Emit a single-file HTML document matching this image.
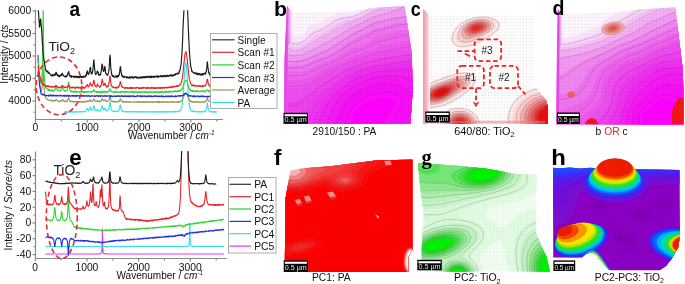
<!DOCTYPE html>
<html><head><meta charset="utf-8"><style>
html,body{margin:0;padding:0;background:#fff;}
svg{display:block;font-family:"Liberation Sans",sans-serif;}
</style></head><body>
<svg xmlns="http://www.w3.org/2000/svg" width="685" height="284" viewBox="0 0 685 284">
<defs><clipPath id="clipA"><rect x="36" y="10.3" width="190" height="110"/></clipPath>
<clipPath id="clipE"><rect x="36" y="151.3" width="195" height="108"/></clipPath>
<pattern id="gridc" width="3.17" height="3.17" patternUnits="userSpaceOnUse"><path d="M0,0.3 H3.17 M0.3,0 V3.17" stroke="#000" stroke-opacity="0.07" stroke-width="0.5" fill="none"/></pattern>
<pattern id="grid" width="3.4" height="3.4" patternUnits="userSpaceOnUse"><path d="M0,0.3 H3.4 M0.3,0 V3.4" stroke="#000" stroke-opacity="0.085" stroke-width="0.45" fill="none"/></pattern>
<filter id="bl1" x="-50%" y="-50%" width="200%" height="200%"><feGaussianBlur stdDeviation="1"/></filter>
<filter id="bl2" x="-50%" y="-50%" width="200%" height="200%"><feGaussianBlur stdDeviation="2"/></filter>
<filter id="bl3" x="-50%" y="-50%" width="200%" height="200%"><feGaussianBlur stdDeviation="3.5"/></filter>
<filter id="bl06" x="-50%" y="-50%" width="200%" height="200%"><feGaussianBlur stdDeviation="0.6"/></filter>
<clipPath id="cb"><path d="M287,5.5 L293,12.8 L320,12.3 L345,11.5 L360,10.3 L372,8 L378,7.4 L404.6,6.2 L411.7,53 L412.7,90 L410.4,123.4 L284.5,123.5 L284.5,60 Z"/></clipPath>
<clipPath id="cc"><path d="M423,9 L430,15.5 L534,16.3 L534,85 L546.6,101 L546.6,123.8 L423,123.8 Z"/></clipPath>
<linearGradient id="wallc" gradientUnits="userSpaceOnUse" x1="423" y1="0" x2="430.5" y2="0"><stop offset="0" stop-color="#ee98a4"/><stop offset="0.45" stop-color="#f4b8c0"/><stop offset="1" stop-color="#ffffff"/></linearGradient>
<clipPath id="cd"><path d="M557.5,9 L563,13.6 L580,13.4 L600,12.8 L620,11.5 L640,9.4 L655,8.6 L675.4,7.4 L682.8,70 L683.5,98 L683.5,124.2 L556.3,124.2 L556.8,60 Z"/></clipPath>
<linearGradient id="walld" gradientUnits="userSpaceOnUse" x1="557.5" y1="0" x2="563.6" y2="0"><stop offset="0" stop-color="#e050e0"/><stop offset="0.5" stop-color="#f098f0" stop-opacity="0.8"/><stop offset="1" stop-color="#fdf0fd" stop-opacity="0"/></linearGradient>
<linearGradient id="wallb" gradientUnits="userSpaceOnUse" x1="286.5" y1="0" x2="293.2" y2="0"><stop offset="0" stop-color="#e050e0"/><stop offset="0.5" stop-color="#f098f0" stop-opacity="0.8"/><stop offset="1" stop-color="#fdf0fd" stop-opacity="0"/></linearGradient>
<clipPath id="cf"><path d="M290.4,170.8 L300,168.7 L310,167.7 L330,166.3 L350,163.7 L370,161.3 L377,160.3 L412.3,159.8 L412.3,250 L408.3,257 L408.3,272 L284.8,272 L285.3,200 L288.3,182.5 Z"/></clipPath>
<clipPath id="cg"><path d="M418,163 L440,164.5 L460,166 L485,168.6 L500,171 L515,174 L537,174 L536.5,200 L536,233 L541,245 L546.4,256.8 L549.7,271.5 L421.5,271.5 L422,240 L423.6,215 L420,185 Z"/></clipPath>
<clipPath id="ch"><path d="M553.2,167.7 L560,168.3 L570,167.6 L580,168.4 L590,167.8 L600,168.5 L620,168.5 L640,169.2 L660,169.5 L679.6,170 L680,235 L678.4,247 L671.6,259 L666.4,266 L660,270.3 L611,270.3 L608.6,269.5 L600.9,260.9 L596,255 L591.4,252.2 L586,254 L581.9,257.4 L553.2,257.4 Z"/></clipPath>
<filter id="gsoft" x="0" y="0" width="100%" height="100%" filterUnits="userSpaceOnUse"><feGaussianBlur stdDeviation="0.6"/></filter></defs>
<rect width="685" height="284" fill="#fff"/>
<g filter="url(#gsoft)">
<g stroke="#8a8a8a" stroke-width="1.2" fill="none">
<path d="M35.5,9.5 V119.5 H223"/>
<path d="M32.5,101.0 H35.5"/>
<path d="M32.5,78.5 H35.5"/>
<path d="M32.5,56.0 H35.5"/>
<path d="M32.5,33.5 H35.5"/>
<path d="M32.5,11.0 H35.5"/>
<path d="M33.5,112.2 H35.5"/>
<path d="M33.5,89.8 H35.5"/>
<path d="M33.5,67.2 H35.5"/>
<path d="M33.5,44.8 H35.5"/>
<path d="M33.5,22.2 H35.5"/>
<path d="M35.4,119.5 V122.5"/>
<path d="M87.2,119.5 V122.5"/>
<path d="M139.0,119.5 V122.5"/>
<path d="M190.8,119.5 V122.5"/>
<path d="M61.3,119.5 V121.5"/>
<path d="M113.1,119.5 V121.5"/>
<path d="M164.9,119.5 V121.5"/>
<path d="M216.7,119.5 V121.5"/>
</g>
<text x="31.2" y="104.3" font-size="10.3" text-anchor="end" font-weight="normal" fill="#111" >4000</text>
<text x="31.2" y="81.8" font-size="10.3" text-anchor="end" font-weight="normal" fill="#111" >4500</text>
<text x="31.2" y="59.3" font-size="10.3" text-anchor="end" font-weight="normal" fill="#111" >5000</text>
<text x="31.2" y="36.8" font-size="10.3" text-anchor="end" font-weight="normal" fill="#111" >5500</text>
<text x="31.2" y="14.3" font-size="10.3" text-anchor="end" font-weight="normal" fill="#111" >6000</text>
<text x="35.4" y="131" font-size="10.3" text-anchor="middle" font-weight="normal" fill="#111" >0</text>
<text x="87.2" y="131" font-size="10.3" text-anchor="middle" font-weight="normal" fill="#111" >1000</text>
<text x="139.0" y="131" font-size="10.3" text-anchor="middle" font-weight="normal" fill="#111" >2000</text>
<text x="190.8" y="131" font-size="10.3" text-anchor="middle" font-weight="normal" fill="#111" >3000</text>
<text x="128" y="138.5" font-size="10" fill="#111">Wavenumber / <tspan font-style="italic">cm</tspan><tspan font-size="6.5" dy="-4" font-style="italic">-1</tspan></text>
<text transform="translate(7.6,54.2) rotate(-90)" font-size="10.1" text-anchor="middle" fill="#111">Intensity / <tspan font-style="italic">cts</tspan></text>
<g fill="none" stroke-width="1.15" stroke-linejoin="round" clip-path="url(#clipA)">
<path d="M63.9,112.0 L64.1,111.8 L64.4,112.1 L64.7,112.2 L64.9,111.9 L65.2,111.8 L65.4,111.9 L65.7,111.9 L66.0,111.7 L66.2,111.9 L66.5,111.8 L66.7,111.7 L67.0,112.1 L67.3,112.1 L67.5,111.9 L67.8,111.7 L68.0,112.1 L68.3,111.9 L68.6,112.2 L68.8,112.0 L69.1,111.8 L69.3,112.1 L69.6,112.0 L69.8,111.8 L70.1,112.1 L70.4,111.8 L70.6,111.7 L70.9,111.6 L71.1,112.0 L71.4,111.8 L71.7,111.7 L71.9,111.6 L72.2,112.1 L72.4,111.8 L72.7,112.1 L73.0,112.1 L73.2,112.1 L73.5,111.7 L73.7,112.1 L74.0,111.9 L74.2,112.1 L74.5,112.1 L74.8,111.8 L75.0,111.8 L75.3,112.1 L75.5,111.7 L75.8,111.6 L76.1,111.6 L76.3,111.9 L76.6,111.7 L76.8,112.1 L77.1,111.5 L77.4,111.8 L77.6,111.9 L77.9,111.9 L78.1,112.0 L78.4,111.9 L78.7,112.0 L78.9,112.1 L79.2,112.0 L79.4,111.8 L79.7,111.7 L79.9,111.8 L80.2,111.6 L80.5,111.6 L80.7,111.8 L81.0,111.7 L81.2,111.7 L81.5,111.5 L81.8,112.0 L82.0,111.6 L82.3,111.7 L82.5,111.6 L82.8,111.7 L83.1,111.8 L83.3,111.9 L83.6,111.7 L83.8,111.8 L84.1,111.5 L84.4,111.5 L84.6,111.4 L84.9,111.7 L85.1,111.1 L85.4,111.1 L85.6,111.3 L85.9,110.7 L86.2,110.3 L86.4,110.1 L86.7,109.5 L86.9,108.8 L87.2,108.3 L87.5,108.7 L87.7,109.3 L88.0,109.7 L88.2,110.2 L88.5,110.2 L88.8,110.2 L89.0,110.5 L89.3,110.2 L89.5,109.4 L89.8,108.7 L90.0,107.6 L90.3,107.0 L90.6,107.8 L90.8,108.9 L91.1,109.1 L91.3,109.8 L91.6,110.3 L91.9,109.9 L92.1,110.2 L92.4,109.9 L92.6,109.8 L92.9,109.3 L93.2,108.4 L93.4,107.1 L93.7,105.5 L93.9,105.7 L94.2,106.7 L94.5,107.9 L94.7,108.8 L95.0,109.7 L95.2,110.1 L95.5,110.4 L95.7,110.8 L96.0,110.5 L96.3,110.8 L96.5,110.3 L96.8,110.4 L97.0,109.9 L97.3,109.5 L97.6,109.3 L97.8,109.3 L98.1,109.8 L98.3,110.3 L98.6,110.5 L98.9,111.0 L99.1,111.0 L99.4,111.0 L99.6,111.0 L99.9,110.7 L100.2,110.5 L100.4,110.4 L100.7,110.6 L100.9,110.0 L101.2,109.8 L101.4,108.6 L101.7,107.4 L102.0,106.2 L102.2,105.6 L102.5,106.0 L102.7,107.3 L103.0,108.3 L103.3,108.9 L103.5,109.7 L103.8,109.8 L104.0,109.3 L104.3,108.7 L104.6,108.6 L104.8,108.1 L105.1,108.7 L105.3,109.2 L105.6,109.6 L105.8,110.4 L106.1,110.3 L106.4,110.9 L106.6,110.5 L106.9,110.7 L107.1,110.5 L107.4,110.5 L107.7,110.7 L107.9,110.2 L108.2,109.9 L108.4,109.5 L108.7,108.9 L109.0,108.3 L109.2,106.8 L109.5,105.2 L109.7,102.9 L110.0,101.7 L110.3,103.1 L110.5,105.3 L110.8,106.9 L111.0,108.6 L111.3,109.4 L111.5,109.7 L111.8,110.5 L112.1,110.3 L112.3,110.9 L112.6,111.2 L112.8,111.2 L113.1,111.3 L113.4,111.3 L113.6,111.3 L113.9,111.1 L114.1,111.3 L114.4,111.3 L114.7,111.6 L114.9,111.7 L115.2,111.7 L115.4,111.4 L115.7,111.7 L115.9,111.7 L116.2,111.2 L116.5,111.5 L116.7,111.2 L117.0,111.1 L117.2,111.3 L117.5,111.4 L117.8,111.0 L118.0,111.0 L118.3,111.0 L118.5,110.8 L118.8,110.3 L119.1,109.9 L119.3,109.2 L119.6,108.4 L119.8,107.4 L120.1,105.4 L120.4,104.9 L120.6,105.7 L120.9,107.4 L121.1,108.7 L121.4,109.2 L121.6,110.0 L121.9,110.7 L122.2,110.9 L122.4,111.2 L122.7,110.9 L122.9,111.5 L123.2,111.3 L123.5,111.6 L123.7,111.5 L124.0,111.4 L124.2,111.6 L124.5,111.3 L124.8,111.9 L125.0,111.9 L125.3,111.7 L125.5,111.8 L125.8,111.8 L126.0,111.7 L126.3,111.6 L126.6,111.8 L126.8,112.0 L127.1,112.0 L127.3,111.9 L127.6,111.5 L127.9,111.6 L128.1,111.6 L128.4,111.8 L128.6,112.0 L128.9,111.8 L129.2,111.8 L129.4,111.7 L129.7,111.6 L129.9,111.6 L130.2,112.1 L130.5,112.0 L130.7,111.9 L131.0,111.9 L131.2,111.6 L131.5,111.5 L131.7,111.5 L132.0,111.5 L132.3,111.6 L132.5,112.1 L132.8,111.9 L133.0,111.6 L133.3,111.6 L133.6,111.5 L133.8,111.5 L134.1,111.6 L134.3,111.7 L134.6,111.6 L134.9,111.7 L135.1,111.9 L135.4,111.6 L135.6,111.6 L135.9,112.0 L136.2,111.7 L136.4,111.9 L136.7,111.7 L136.9,111.9 L137.2,111.5 L137.4,111.7 L137.7,112.1 L138.0,111.7 L138.2,111.9 L138.5,111.7 L138.7,111.6 L139.0,111.8 L139.3,111.8 L139.5,111.6 L139.8,111.9 L140.0,111.8 L140.3,111.8 L140.6,112.0 L140.8,112.1 L141.1,111.8 L141.3,111.7 L141.6,112.0 L141.8,112.0 L142.1,111.9 L142.4,111.9 L142.6,111.8 L142.9,112.0 L143.1,111.9 L143.4,112.1 L143.7,111.7 L143.9,111.6 L144.2,112.1 L144.4,111.9 L144.7,112.0 L145.0,112.0 L145.2,112.0 L145.5,111.8 L145.7,112.1 L146.0,111.9 L146.3,111.8 L146.5,111.7 L146.8,111.6 L147.0,111.7 L147.3,111.7 L147.5,111.8 L147.8,111.9 L148.1,112.1 L148.3,111.9 L148.6,112.0 L148.8,111.6 L149.1,112.0 L149.4,111.9 L149.6,112.0 L149.9,111.8 L150.1,111.9 L150.4,111.9 L150.7,112.0 L150.9,111.8 L151.2,112.0 L151.4,112.1 L151.7,111.9 L151.9,111.9 L152.2,112.0 L152.5,111.9 L152.7,112.1 L153.0,112.1 L153.2,111.9 L153.5,112.0 L153.8,111.6 L154.0,112.1 L154.3,111.9 L154.5,111.6 L154.8,111.6 L155.1,112.1 L155.3,112.0 L155.6,111.9 L155.8,111.8 L156.1,111.7 L156.4,111.8 L156.6,112.1 L156.9,111.9 L157.1,111.6 L157.4,111.7 L157.6,111.6 L157.9,112.1 L158.2,112.1 L158.4,112.1 L158.7,111.8 L158.9,111.7 L159.2,111.6 L159.5,111.7 L159.7,111.8 L160.0,111.8 L160.2,111.7 L160.5,112.0 L160.8,112.1 L161.0,111.8 L161.3,112.0 L161.5,111.7 L161.8,111.7 L162.1,112.0 L162.3,111.6 L162.6,111.6 L162.8,112.1 L163.1,111.8 L163.3,111.8 L163.6,112.0 L163.9,112.1 L164.1,111.8 L164.4,112.0 L164.6,111.6 L164.9,112.1 L165.2,111.8 L165.4,111.8 L165.7,111.5 L165.9,111.6 L166.2,111.8 L166.5,111.6 L166.7,111.9 L167.0,112.1 L167.2,111.7 L167.5,112.0 L167.7,111.9 L168.0,111.9 L168.3,112.0 L168.5,111.8 L168.8,112.0 L169.0,111.6 L169.3,111.9 L169.6,111.8 L169.8,111.6 L170.1,111.6 L170.3,112.0 L170.6,111.8 L170.9,111.8 L171.1,111.8 L171.4,112.0 L171.6,111.8 L171.9,111.6 L172.2,112.0 L172.4,111.9 L172.7,111.9 L172.9,111.8 L173.2,111.8 L173.4,111.6 L173.7,112.0 L174.0,111.8 L174.2,111.5 L174.5,111.8 L174.7,111.6 L175.0,111.4 L175.3,111.8 L175.5,111.4 L175.8,111.5 L176.0,111.3 L176.3,111.6 L176.6,111.6 L176.8,111.7 L177.1,111.8 L177.3,111.7 L177.6,111.5 L177.8,111.3 L178.1,111.6 L178.4,111.2 L178.6,111.2 L178.9,111.3 L179.1,111.1 L179.4,111.2 L179.7,110.8 L179.9,110.7 L180.2,110.4 L180.4,110.5 L180.7,110.0 L181.0,109.9 L181.2,109.0 L181.5,108.1 L181.7,107.4 L182.0,105.7 L182.3,104.4 L182.5,102.0 L182.8,99.2 L183.0,96.5 L183.3,93.3 L183.5,89.0 L183.8,85.1 L184.1,80.9 L184.3,77.0 L184.6,73.0 L184.8,69.0 L185.1,66.3 L185.4,64.5 L185.6,63.1 L185.9,63.0 L186.1,64.0 L186.4,65.5 L186.7,68.2 L186.9,72.1 L187.2,75.6 L187.4,79.8 L187.7,84.1 L188.0,88.3 L188.2,92.3 L188.5,95.4 L188.7,98.8 L189.0,101.1 L189.2,103.7 L189.5,105.7 L189.8,106.9 L190.0,108.0 L190.3,109.1 L190.5,109.7 L190.8,110.3 L191.1,110.4 L191.3,110.5 L191.6,110.9 L191.8,111.0 L192.1,110.8 L192.4,110.9 L192.6,111.5 L192.9,111.4 L193.1,111.0 L193.4,111.5 L193.6,111.5 L193.9,111.1 L194.2,111.7 L194.4,111.3 L194.7,111.5 L194.9,111.6 L195.2,111.5 L195.5,111.5 L195.7,111.6 L196.0,111.7 L196.2,111.9 L196.5,111.8 L196.8,111.9 L197.0,111.8 L197.3,111.6 L197.5,111.6 L197.8,111.9 L198.1,111.9 L198.3,111.6 L198.6,111.9 L198.8,111.6 L199.1,111.4 L199.3,111.7 L199.6,112.0 L199.9,111.7 L200.1,111.9 L200.4,111.9 L200.6,111.9 L200.9,111.6 L201.2,112.0 L201.4,111.5 L201.7,111.7 L201.9,111.5 L202.2,111.6 L202.5,111.9 L202.7,111.9 L203.0,112.0 L203.2,111.7 L203.5,111.6 L203.8,111.4 L204.0,111.6 L204.3,111.8 L204.5,111.4 L204.8,111.6 L205.0,111.2 L205.3,111.3 L205.6,110.8 L205.8,110.9 L206.1,110.0 L206.3,109.3 L206.6,108.4 L206.9,106.8 L207.1,104.4 L207.4,102.8 L207.6,104.4 L207.9,106.4 L208.2,108.3 L208.4,109.4 L208.7,110.1 L208.9,110.4 L209.2,110.8 L209.4,111.2 L209.7,111.4 L210.0,111.3 L210.2,111.6 L210.5,111.5 L210.7,111.8 L211.0,111.4 L211.3,111.9 L211.5,112.0 L211.8,111.8 L212.0,111.9 L212.3,112.1 L212.6,111.6 L212.8,111.6 L213.1,111.8 L213.3,112.0 L213.6,111.9 L213.9,111.9 L214.1,111.8 L214.4,111.9 L214.6,112.1 L214.9,111.6 L215.1,112.0 L215.4,111.7 L215.7,112.1 L215.9,111.8 L216.2,112.1 L216.4,111.8 L216.7,112.0" stroke="#33e0e8"/>
<path d="M38.0,71.6 L38.2,73.3 L38.5,75.1 L38.8,77.5 L39.0,79.3 L39.3,80.8 L39.5,82.8 L39.8,84.0 L40.1,86.3 L40.3,88.0 L40.6,89.6 L40.8,90.3 L41.1,92.1 L41.4,91.6 L41.6,90.2 L41.9,89.2 L42.1,86.6 L42.4,83.1 L42.7,77.7 L42.9,71.9 L43.2,69.5 L43.4,72.7 L43.7,79.5 L43.9,85.4 L44.2,88.8 L44.5,92.2 L44.7,94.2 L45.0,95.4 L45.2,96.2 L45.5,97.0 L45.8,97.9 L46.0,98.2 L46.3,98.4 L46.5,99.0 L46.8,99.2 L47.1,99.0 L47.3,99.1 L47.6,99.5 L47.8,99.8 L48.1,99.8 L48.3,99.9 L48.6,100.2 L48.9,100.2 L49.1,100.0 L49.4,100.3 L49.6,100.3 L49.9,100.1 L50.2,100.0 L50.4,100.3 L50.7,100.6 L50.9,100.7 L51.2,100.3 L51.5,100.6 L51.7,100.3 L52.0,100.7 L52.2,100.6 L52.5,100.9 L52.8,101.0 L53.0,100.4 L53.3,101.2 L53.5,100.6 L53.8,101.2 L54.0,101.2 L54.3,100.6 L54.6,100.6 L54.8,100.4 L55.1,100.9 L55.3,100.5 L55.6,100.3 L55.9,99.8 L56.1,99.3 L56.4,99.8 L56.6,99.9 L56.9,100.3 L57.2,100.7 L57.4,101.1 L57.7,100.9 L57.9,101.2 L58.2,101.2 L58.5,101.4 L58.7,101.2 L59.0,101.2 L59.2,101.3 L59.5,101.2 L59.7,101.4 L60.0,100.9 L60.3,101.0 L60.5,100.8 L60.8,101.0 L61.0,101.3 L61.3,100.9 L61.6,100.6 L61.8,100.5 L62.1,100.0 L62.3,99.3 L62.6,99.5 L62.9,100.2 L63.1,100.3 L63.4,100.9 L63.6,100.7 L63.9,101.1 L64.1,101.4 L64.4,101.1 L64.7,101.0 L64.9,101.5 L65.2,101.1 L65.4,101.7 L65.7,101.4 L66.0,101.6 L66.2,101.3 L66.5,101.2 L66.7,101.0 L67.0,100.7 L67.3,101.2 L67.5,100.3 L67.8,99.7 L68.0,99.6 L68.3,98.2 L68.6,97.7 L68.8,98.6 L69.1,99.5 L69.3,99.9 L69.6,100.4 L69.8,101.0 L70.1,101.3 L70.4,101.0 L70.6,101.1 L70.9,101.4 L71.1,101.1 L71.4,101.8 L71.7,101.7 L71.9,101.3 L72.2,101.7 L72.4,101.7 L72.7,101.3 L73.0,101.6 L73.2,101.9 L73.5,101.6 L73.7,101.9 L74.0,101.5 L74.2,102.1 L74.5,101.8 L74.8,101.8 L75.0,101.3 L75.3,101.6 L75.5,101.3 L75.8,101.7 L76.1,101.5 L76.3,101.6 L76.6,101.6 L76.8,101.5 L77.1,101.6 L77.4,101.8 L77.6,101.5 L77.9,101.8 L78.1,102.1 L78.4,102.0 L78.7,102.2 L78.9,101.5 L79.2,101.9 L79.4,101.6 L79.7,102.2 L79.9,101.8 L80.2,102.0 L80.5,102.0 L80.7,101.5 L81.0,101.5 L81.2,102.1 L81.5,102.1 L81.8,101.8 L82.0,101.5 L82.3,101.5 L82.5,102.1 L82.8,102.0 L83.1,101.7 L83.3,102.0 L83.6,102.1 L83.8,101.4 L84.1,102.0 L84.4,102.2 L84.6,102.1 L84.9,102.1 L85.1,101.7 L85.4,101.8 L85.6,101.4 L85.9,101.9 L86.2,101.7 L86.4,101.3 L86.7,100.8 L86.9,100.7 L87.2,100.7 L87.5,101.3 L87.7,101.1 L88.0,101.6 L88.2,101.1 L88.5,101.2 L88.8,101.2 L89.0,101.1 L89.3,101.4 L89.5,100.7 L89.8,100.3 L90.0,100.2 L90.3,99.7 L90.6,100.3 L90.8,100.6 L91.1,101.1 L91.3,101.0 L91.6,101.1 L91.9,101.2 L92.1,101.6 L92.4,101.5 L92.6,101.0 L92.9,100.6 L93.2,99.8 L93.4,99.8 L93.7,99.0 L93.9,98.8 L94.2,99.2 L94.5,100.1 L94.7,100.8 L95.0,100.8 L95.2,101.0 L95.5,101.3 L95.7,101.4 L96.0,101.0 L96.3,101.0 L96.5,101.2 L96.8,101.4 L97.0,101.0 L97.3,100.5 L97.6,100.5 L97.8,100.6 L98.1,101.3 L98.3,101.1 L98.6,101.8 L98.9,101.3 L99.1,101.3 L99.4,101.2 L99.6,101.5 L99.9,101.5 L100.2,101.7 L100.4,101.5 L100.7,101.3 L100.9,100.7 L101.2,101.1 L101.4,100.2 L101.7,99.6 L102.0,98.8 L102.2,98.8 L102.5,99.2 L102.7,99.5 L103.0,100.0 L103.3,100.1 L103.5,100.8 L103.8,100.8 L104.0,100.2 L104.3,100.0 L104.6,100.0 L104.8,99.8 L105.1,99.6 L105.3,100.7 L105.6,100.9 L105.8,101.2 L106.1,101.0 L106.4,101.7 L106.6,101.3 L106.9,101.5 L107.1,101.7 L107.4,101.6 L107.7,101.0 L107.9,100.9 L108.2,100.8 L108.4,100.5 L108.7,100.7 L109.0,99.9 L109.2,99.1 L109.5,97.8 L109.7,96.6 L110.0,95.9 L110.3,96.8 L110.5,97.9 L110.8,99.4 L111.0,100.2 L111.3,100.8 L111.5,101.0 L111.8,100.8 L112.1,101.2 L112.3,101.7 L112.6,101.4 L112.8,101.6 L113.1,101.4 L113.4,101.9 L113.6,101.6 L113.9,101.6 L114.1,102.0 L114.4,101.4 L114.7,101.4 L114.9,101.7 L115.2,101.8 L115.4,101.5 L115.7,101.7 L115.9,102.0 L116.2,102.1 L116.5,102.1 L116.7,102.0 L117.0,101.4 L117.2,101.7 L117.5,101.7 L117.8,101.3 L118.0,101.9 L118.3,101.4 L118.5,101.7 L118.8,101.5 L119.1,101.0 L119.3,100.8 L119.6,100.5 L119.8,99.7 L120.1,98.9 L120.4,98.9 L120.6,99.1 L120.9,99.8 L121.1,100.8 L121.4,101.2 L121.6,101.2 L121.9,101.0 L122.2,101.8 L122.4,101.4 L122.7,101.4 L122.9,102.0 L123.2,102.1 L123.5,101.6 L123.7,101.9 L124.0,102.2 L124.2,101.9 L124.5,101.8 L124.8,101.6 L125.0,101.5 L125.3,102.2 L125.5,102.2 L125.8,101.7 L126.0,102.0 L126.3,101.7 L126.6,102.1 L126.8,101.8 L127.1,102.1 L127.3,102.0 L127.6,101.6 L127.9,102.0 L128.1,102.1 L128.4,101.6 L128.6,101.6 L128.9,101.8 L129.2,102.1 L129.4,102.3 L129.7,101.9 L129.9,102.3 L130.2,102.1 L130.5,101.8 L130.7,101.9 L131.0,102.2 L131.2,102.0 L131.5,102.0 L131.7,102.1 L132.0,101.7 L132.3,101.9 L132.5,102.0 L132.8,102.0 L133.0,102.1 L133.3,101.8 L133.6,102.0 L133.8,101.9 L134.1,101.7 L134.3,102.2 L134.6,102.3 L134.9,102.0 L135.1,101.9 L135.4,101.9 L135.6,101.9 L135.9,101.9 L136.2,101.8 L136.4,102.3 L136.7,101.9 L136.9,101.8 L137.2,102.1 L137.4,101.6 L137.7,101.9 L138.0,102.0 L138.2,102.2 L138.5,101.8 L138.7,101.6 L139.0,102.4 L139.3,101.6 L139.5,101.9 L139.8,102.0 L140.0,102.4 L140.3,101.9 L140.6,101.8 L140.8,101.8 L141.1,101.9 L141.3,101.7 L141.6,102.3 L141.8,102.0 L142.1,102.2 L142.4,101.8 L142.6,102.1 L142.9,102.3 L143.1,101.8 L143.4,102.4 L143.7,101.8 L143.9,102.2 L144.2,102.3 L144.4,102.0 L144.7,102.3 L145.0,101.9 L145.2,101.9 L145.5,102.3 L145.7,102.1 L146.0,101.6 L146.3,101.7 L146.5,102.0 L146.8,101.9 L147.0,101.6 L147.3,102.2 L147.5,101.9 L147.8,102.3 L148.1,101.9 L148.3,101.7 L148.6,101.9 L148.8,102.3 L149.1,102.3 L149.4,102.0 L149.6,101.8 L149.9,102.0 L150.1,101.8 L150.4,101.9 L150.7,101.6 L150.9,101.6 L151.2,102.3 L151.4,102.2 L151.7,101.8 L151.9,102.1 L152.2,101.6 L152.5,102.3 L152.7,102.1 L153.0,102.2 L153.2,101.9 L153.5,101.9 L153.8,102.2 L154.0,101.8 L154.3,101.7 L154.5,101.7 L154.8,102.3 L155.1,101.8 L155.3,101.6 L155.6,102.0 L155.8,101.7 L156.1,101.9 L156.4,102.2 L156.6,101.8 L156.9,101.9 L157.1,102.3 L157.4,102.3 L157.6,102.3 L157.9,101.6 L158.2,102.4 L158.4,102.0 L158.7,101.7 L158.9,102.4 L159.2,101.7 L159.5,102.4 L159.7,101.6 L160.0,101.7 L160.2,102.0 L160.5,102.1 L160.8,102.1 L161.0,102.2 L161.3,101.7 L161.5,102.2 L161.8,101.9 L162.1,102.4 L162.3,102.1 L162.6,102.1 L162.8,101.7 L163.1,102.3 L163.3,101.8 L163.6,101.8 L163.9,101.9 L164.1,102.2 L164.4,101.9 L164.6,102.0 L164.9,102.1 L165.2,101.8 L165.4,101.7 L165.7,101.9 L165.9,102.2 L166.2,102.1 L166.5,101.8 L166.7,102.1 L167.0,102.3 L167.2,102.2 L167.5,101.7 L167.7,101.6 L168.0,102.4 L168.3,102.2 L168.5,101.8 L168.8,102.2 L169.0,102.1 L169.3,102.1 L169.6,101.9 L169.8,102.1 L170.1,101.9 L170.3,101.9 L170.6,101.9 L170.9,102.2 L171.1,102.3 L171.4,101.8 L171.6,101.7 L171.9,101.8 L172.2,102.2 L172.4,101.9 L172.7,101.6 L172.9,102.3 L173.2,101.9 L173.4,101.6 L173.7,102.2 L174.0,102.0 L174.2,102.3 L174.5,102.3 L174.7,102.3 L175.0,102.3 L175.3,101.9 L175.5,102.2 L175.8,102.0 L176.0,102.1 L176.3,101.8 L176.6,102.1 L176.8,101.7 L177.1,102.3 L177.3,101.7 L177.6,102.0 L177.8,102.3 L178.1,102.2 L178.4,102.3 L178.6,101.9 L178.9,101.6 L179.1,102.3 L179.4,101.8 L179.7,102.2 L179.9,101.8 L180.2,101.7 L180.4,101.7 L180.7,101.6 L181.0,101.6 L181.2,101.3 L181.5,100.7 L181.7,100.7 L182.0,100.0 L182.3,100.2 L182.5,99.1 L182.8,98.7 L183.0,98.3 L183.3,97.5 L183.5,97.3 L183.8,96.5 L184.1,95.5 L184.3,94.9 L184.6,94.6 L184.8,93.9 L185.1,93.6 L185.4,93.0 L185.6,93.1 L185.9,93.1 L186.1,93.4 L186.4,93.3 L186.7,94.0 L186.9,94.0 L187.2,94.7 L187.4,95.2 L187.7,96.5 L188.0,96.5 L188.2,97.3 L188.5,98.1 L188.7,98.9 L189.0,99.4 L189.2,99.5 L189.5,100.1 L189.8,100.8 L190.0,100.6 L190.3,100.8 L190.5,101.6 L190.8,101.1 L191.1,101.3 L191.3,101.5 L191.6,102.1 L191.8,101.7 L192.1,101.8 L192.4,102.0 L192.6,102.3 L192.9,101.6 L193.1,101.7 L193.4,101.9 L193.6,102.1 L193.9,101.7 L194.2,101.9 L194.4,102.0 L194.7,101.6 L194.9,101.8 L195.2,101.6 L195.5,102.3 L195.7,101.6 L196.0,101.7 L196.2,102.1 L196.5,101.8 L196.8,102.0 L197.0,101.9 L197.3,102.4 L197.5,102.0 L197.8,101.9 L198.1,101.7 L198.3,102.0 L198.6,102.2 L198.8,102.1 L199.1,102.1 L199.3,102.0 L199.6,102.3 L199.9,101.9 L200.1,102.0 L200.4,102.3 L200.6,102.2 L200.9,101.9 L201.2,102.2 L201.4,102.2 L201.7,101.8 L201.9,101.8 L202.2,102.1 L202.5,101.8 L202.7,101.8 L203.0,101.9 L203.2,101.5 L203.5,101.7 L203.8,102.2 L204.0,101.6 L204.3,102.0 L204.5,101.4 L204.8,101.6 L205.0,101.7 L205.3,101.4 L205.6,101.8 L205.8,101.6 L206.1,100.9 L206.3,100.4 L206.6,100.5 L206.9,99.6 L207.1,98.5 L207.4,97.6 L207.6,98.1 L207.9,99.5 L208.2,100.3 L208.4,100.7 L208.7,100.9 L208.9,101.1 L209.2,101.3 L209.4,101.5 L209.7,101.7 L210.0,101.6 L210.2,101.6 L210.5,101.6 L210.7,101.9 L211.0,102.2 L211.3,101.6 L211.5,102.1 L211.8,102.0 L212.0,101.7 L212.3,101.6 L212.6,102.2 L212.8,101.6 L213.1,101.6 L213.3,101.6 L213.6,102.2 L213.9,101.9 L214.1,101.6 L214.4,101.8 L214.6,102.0 L214.9,101.9 L215.1,101.7 L215.4,102.2 L215.7,102.1 L215.9,101.8 L216.2,101.8 L216.4,101.8 L216.7,101.6" stroke="#9c9450"/>
<path d="M38.0,55.0 L38.2,60.2 L38.5,64.8 L38.8,70.2 L39.0,75.1 L39.3,79.8 L39.5,85.3 L39.8,86.1 L40.1,88.1 L40.3,89.2 L40.6,90.5 L40.8,92.5 L41.1,94.0 L41.4,94.2 L41.6,94.0 L41.9,94.7 L42.1,94.6 L42.4,94.1 L42.7,94.0 L42.9,95.0 L43.2,94.6 L43.4,94.4 L43.7,94.5 L43.9,95.1 L44.2,94.7 L44.5,95.0 L44.7,95.3 L45.0,95.1 L45.2,95.5 L45.5,95.9 L45.8,95.8 L46.0,95.6 L46.3,95.6 L46.5,95.3 L46.8,95.7 L47.1,95.7 L47.3,95.6 L47.6,95.5 L47.8,95.8 L48.1,95.2 L48.3,95.7 L48.6,96.0 L48.9,95.1 L49.1,95.3 L49.4,96.0 L49.6,95.1 L49.9,95.9 L50.2,95.6 L50.4,95.1 L50.7,95.7 L50.9,95.1 L51.2,95.9 L51.5,95.4 L51.7,96.0 L52.0,96.0 L52.2,95.2 L52.5,95.5 L52.8,95.2 L53.0,95.8 L53.3,95.2 L53.5,95.2 L53.8,95.2 L54.0,96.0 L54.3,95.3 L54.6,95.4 L54.8,95.6 L55.1,95.7 L55.3,95.5 L55.6,96.1 L55.9,95.5 L56.1,95.6 L56.4,96.0 L56.6,95.4 L56.9,95.3 L57.2,96.0 L57.4,95.5 L57.7,96.0 L57.9,96.0 L58.2,95.5 L58.5,95.5 L58.7,95.3 L59.0,96.0 L59.2,95.6 L59.5,95.5 L59.7,95.3 L60.0,95.4 L60.3,96.0 L60.5,95.3 L60.8,95.7 L61.0,95.8 L61.3,95.7 L61.6,95.7 L61.8,95.6 L62.1,95.4 L62.3,96.0 L62.6,96.1 L62.9,95.8 L63.1,95.5 L63.4,96.1 L63.6,95.4 L63.9,95.4 L64.1,95.8 L64.4,96.1 L64.7,95.8 L64.9,95.3 L65.2,96.2 L65.4,95.4 L65.7,95.6 L66.0,96.2 L66.2,96.0 L66.5,96.0 L66.7,95.3 L67.0,96.1 L67.3,95.7 L67.5,95.3 L67.8,96.1 L68.0,96.2 L68.3,95.3 L68.6,95.7 L68.8,96.2 L69.1,95.6 L69.3,95.6 L69.6,96.1 L69.8,95.7 L70.1,96.3 L70.4,96.2 L70.6,96.2 L70.9,96.0 L71.1,95.5 L71.4,96.0 L71.7,95.9 L71.9,95.8 L72.2,95.9 L72.4,95.6 L72.7,95.5 L73.0,96.2 L73.2,95.7 L73.5,95.4 L73.7,96.3 L74.0,95.9 L74.2,96.0 L74.5,95.7 L74.8,95.5 L75.0,95.7 L75.3,96.2 L75.5,95.6 L75.8,96.3 L76.1,95.7 L76.3,96.3 L76.6,95.5 L76.8,95.8 L77.1,95.5 L77.4,95.5 L77.6,95.9 L77.9,95.8 L78.1,95.9 L78.4,95.6 L78.7,95.7 L78.9,95.7 L79.2,96.3 L79.4,95.5 L79.7,95.8 L79.9,96.3 L80.2,96.0 L80.5,95.7 L80.7,96.4 L81.0,95.5 L81.2,95.6 L81.5,95.4 L81.8,95.9 L82.0,96.3 L82.3,95.7 L82.5,95.7 L82.8,96.2 L83.1,95.5 L83.3,95.5 L83.6,96.1 L83.8,95.5 L84.1,96.0 L84.4,95.6 L84.6,96.1 L84.9,96.3 L85.1,95.9 L85.4,95.8 L85.6,96.1 L85.9,96.2 L86.2,95.5 L86.4,95.7 L86.7,95.9 L86.9,96.0 L87.2,95.8 L87.5,96.2 L87.7,95.8 L88.0,96.4 L88.2,95.9 L88.5,95.7 L88.8,95.6 L89.0,95.6 L89.3,95.7 L89.5,96.4 L89.8,95.9 L90.0,96.0 L90.3,96.5 L90.6,96.5 L90.8,96.3 L91.1,95.8 L91.3,95.8 L91.6,96.0 L91.9,95.8 L92.1,95.9 L92.4,95.7 L92.6,95.8 L92.9,96.3 L93.2,96.1 L93.4,96.0 L93.7,96.0 L93.9,96.1 L94.2,96.2 L94.5,95.5 L94.7,96.4 L95.0,96.0 L95.2,95.9 L95.5,96.5 L95.7,96.3 L96.0,95.9 L96.3,95.6 L96.5,96.0 L96.8,96.0 L97.0,95.9 L97.3,95.6 L97.6,96.1 L97.8,95.8 L98.1,96.3 L98.3,96.1 L98.6,95.8 L98.9,96.4 L99.1,96.0 L99.4,95.6 L99.6,95.8 L99.9,95.6 L100.2,96.0 L100.4,96.5 L100.7,96.5 L100.9,96.2 L101.2,95.7 L101.4,95.8 L101.7,95.8 L102.0,95.9 L102.2,96.2 L102.5,95.6 L102.7,96.0 L103.0,96.0 L103.3,96.2 L103.5,96.4 L103.8,96.0 L104.0,96.2 L104.3,95.8 L104.6,96.0 L104.8,96.2 L105.1,95.6 L105.3,96.1 L105.6,96.1 L105.8,95.8 L106.1,95.8 L106.4,96.4 L106.6,95.9 L106.9,95.8 L107.1,95.9 L107.4,96.1 L107.7,96.0 L107.9,95.9 L108.2,95.9 L108.4,95.8 L108.7,96.1 L109.0,96.2 L109.2,95.7 L109.5,96.2 L109.7,95.9 L110.0,96.6 L110.3,96.5 L110.5,95.7 L110.8,96.3 L111.0,95.9 L111.3,95.7 L111.5,96.5 L111.8,96.5 L112.1,96.4 L112.3,96.2 L112.6,96.6 L112.8,96.2 L113.1,96.3 L113.4,96.3 L113.6,96.5 L113.9,96.5 L114.1,95.9 L114.4,95.8 L114.7,96.1 L114.9,96.2 L115.2,96.0 L115.4,96.5 L115.7,96.5 L115.9,96.3 L116.2,96.1 L116.5,96.3 L116.7,95.8 L117.0,96.4 L117.2,95.7 L117.5,96.5 L117.8,96.2 L118.0,95.9 L118.3,95.8 L118.5,96.2 L118.8,96.1 L119.1,96.3 L119.3,95.7 L119.6,96.5 L119.8,96.1 L120.1,96.1 L120.4,96.4 L120.6,96.2 L120.9,96.1 L121.1,95.9 L121.4,96.1 L121.6,95.7 L121.9,95.9 L122.2,96.5 L122.4,95.8 L122.7,95.7 L122.9,96.5 L123.2,96.0 L123.5,96.2 L123.7,96.2 L124.0,96.4 L124.2,96.0 L124.5,96.4 L124.8,95.6 L125.0,96.5 L125.3,96.0 L125.5,96.3 L125.8,95.9 L126.0,96.4 L126.3,96.0 L126.6,96.3 L126.8,96.0 L127.1,96.5 L127.3,96.4 L127.6,95.9 L127.9,96.4 L128.1,96.6 L128.4,95.9 L128.6,95.8 L128.9,96.6 L129.2,96.6 L129.4,95.8 L129.7,96.4 L129.9,96.6 L130.2,95.9 L130.5,96.4 L130.7,96.0 L131.0,96.5 L131.2,96.2 L131.5,96.1 L131.7,95.8 L132.0,96.3 L132.3,96.4 L132.5,96.0 L132.8,95.7 L133.0,95.8 L133.3,95.9 L133.6,96.7 L133.8,96.4 L134.1,96.6 L134.3,96.4 L134.6,95.8 L134.9,96.1 L135.1,96.6 L135.4,96.5 L135.6,96.7 L135.9,96.5 L136.2,96.4 L136.4,96.4 L136.7,96.6 L136.9,96.1 L137.2,95.7 L137.4,96.0 L137.7,95.7 L138.0,96.0 L138.2,96.3 L138.5,96.0 L138.7,95.9 L139.0,95.8 L139.3,96.1 L139.5,96.2 L139.8,96.3 L140.0,96.6 L140.3,95.8 L140.6,96.0 L140.8,95.8 L141.1,96.6 L141.3,96.3 L141.6,96.4 L141.8,96.5 L142.1,95.7 L142.4,96.6 L142.6,96.0 L142.9,96.3 L143.1,96.1 L143.4,96.5 L143.7,96.0 L143.9,96.0 L144.2,96.0 L144.4,96.4 L144.7,96.2 L145.0,95.9 L145.2,96.1 L145.5,96.3 L145.7,96.1 L146.0,96.3 L146.3,96.6 L146.5,96.4 L146.8,96.5 L147.0,96.0 L147.3,96.6 L147.5,96.7 L147.8,96.3 L148.1,95.7 L148.3,95.8 L148.6,96.5 L148.8,96.6 L149.1,96.5 L149.4,96.2 L149.6,96.3 L149.9,95.8 L150.1,96.3 L150.4,96.7 L150.7,95.9 L150.9,96.3 L151.2,96.6 L151.4,96.4 L151.7,96.1 L151.9,96.0 L152.2,96.5 L152.5,96.7 L152.7,96.6 L153.0,96.1 L153.2,96.5 L153.5,96.6 L153.8,96.1 L154.0,96.5 L154.3,96.1 L154.5,95.9 L154.8,95.7 L155.1,96.5 L155.3,96.5 L155.6,95.8 L155.8,95.8 L156.1,96.1 L156.4,96.0 L156.6,96.5 L156.9,95.9 L157.1,96.3 L157.4,96.3 L157.6,96.1 L157.9,96.6 L158.2,96.2 L158.4,96.3 L158.7,96.4 L158.9,96.2 L159.2,95.9 L159.5,96.7 L159.7,96.5 L160.0,96.3 L160.2,96.3 L160.5,96.4 L160.8,96.1 L161.0,95.8 L161.3,96.3 L161.5,96.7 L161.8,95.9 L162.1,96.7 L162.3,96.1 L162.6,96.8 L162.8,96.5 L163.1,96.0 L163.3,96.0 L163.6,96.7 L163.9,96.7 L164.1,96.6 L164.4,96.4 L164.6,96.3 L164.9,96.6 L165.2,96.6 L165.4,96.6 L165.7,96.1 L165.9,96.6 L166.2,96.7 L166.5,96.3 L166.7,95.8 L167.0,96.0 L167.2,96.4 L167.5,96.2 L167.7,96.7 L168.0,96.4 L168.3,96.5 L168.5,95.9 L168.8,96.3 L169.0,96.5 L169.3,96.7 L169.6,96.7 L169.8,96.0 L170.1,96.3 L170.3,96.7 L170.6,95.9 L170.9,95.8 L171.1,95.9 L171.4,96.5 L171.6,96.1 L171.9,96.5 L172.2,96.6 L172.4,96.6 L172.7,95.8 L172.9,96.4 L173.2,96.5 L173.4,96.5 L173.7,96.6 L174.0,96.6 L174.2,96.4 L174.5,96.6 L174.7,96.3 L175.0,95.8 L175.3,96.0 L175.5,96.7 L175.8,96.1 L176.0,96.2 L176.3,96.6 L176.6,96.4 L176.8,96.5 L177.1,96.2 L177.3,96.2 L177.6,95.7 L177.8,95.9 L178.1,95.8 L178.4,96.2 L178.6,96.1 L178.9,95.7 L179.1,96.2 L179.4,95.7 L179.7,95.9 L179.9,95.5 L180.2,96.0 L180.4,95.6 L180.7,96.3 L181.0,95.7 L181.2,96.1 L181.5,95.7 L181.7,95.5 L182.0,96.0 L182.3,95.3 L182.5,95.5 L182.8,95.5 L183.0,95.7 L183.3,95.3 L183.5,94.4 L183.8,94.6 L184.1,94.9 L184.3,94.6 L184.6,93.8 L184.8,93.4 L185.1,93.3 L185.4,93.7 L185.6,93.1 L185.9,93.8 L186.1,93.3 L186.4,93.9 L186.7,94.2 L186.9,94.0 L187.2,94.5 L187.4,94.8 L187.7,94.7 L188.0,95.1 L188.2,95.3 L188.5,95.8 L188.7,95.3 L189.0,95.2 L189.2,95.7 L189.5,95.8 L189.8,95.8 L190.0,96.3 L190.3,95.6 L190.5,96.0 L190.8,96.0 L191.1,95.7 L191.3,96.0 L191.6,96.0 L191.8,96.0 L192.1,96.4 L192.4,96.6 L192.6,96.6 L192.9,95.9 L193.1,96.1 L193.4,96.7 L193.6,95.8 L193.9,95.8 L194.2,95.8 L194.4,96.7 L194.7,96.3 L194.9,96.2 L195.2,95.9 L195.5,96.7 L195.7,96.8 L196.0,96.5 L196.2,96.7 L196.5,96.4 L196.8,96.1 L197.0,96.0 L197.3,96.1 L197.5,96.0 L197.8,96.2 L198.1,95.9 L198.3,95.9 L198.6,96.8 L198.8,96.7 L199.1,96.7 L199.3,96.2 L199.6,96.3 L199.9,96.4 L200.1,96.7 L200.4,96.2 L200.6,96.4 L200.9,96.4 L201.2,96.7 L201.4,96.2 L201.7,95.9 L201.9,96.3 L202.2,96.8 L202.5,96.1 L202.7,96.5 L203.0,96.0 L203.2,96.2 L203.5,96.5 L203.8,96.0 L204.0,96.4 L204.3,96.5 L204.5,96.3 L204.8,96.7 L205.0,96.8 L205.3,96.2 L205.6,96.7 L205.8,96.7 L206.1,96.5 L206.3,96.5 L206.6,96.5 L206.9,96.7 L207.1,96.6 L207.4,96.2 L207.6,96.6 L207.9,96.7 L208.2,96.4 L208.4,96.8 L208.7,96.3 L208.9,96.5 L209.2,96.5 L209.4,96.6 L209.7,96.1 L210.0,96.6 L210.2,96.1 L210.5,96.5 L210.7,96.4 L211.0,96.7 L211.3,96.8 L211.5,96.9 L211.8,96.2 L212.0,96.9 L212.3,96.4 L212.6,96.5 L212.8,96.0 L213.1,96.8 L213.3,96.2 L213.6,96.2 L213.9,96.3 L214.1,96.2 L214.4,96.3 L214.6,96.3 L214.9,96.5 L215.1,96.3 L215.4,96.7 L215.7,96.9 L215.9,96.9 L216.2,96.4 L216.4,96.7 L216.7,96.7" stroke="#2233dd"/>
<path d="M38.0,59.7 L38.2,61.9 L38.5,64.4 L38.8,66.9 L39.0,69.0 L39.3,71.3 L39.5,73.4 L39.8,75.5 L40.1,78.6 L40.3,80.4 L40.6,82.0 L40.8,82.9 L41.1,82.2 L41.4,81.7 L41.6,80.3 L41.9,77.8 L42.1,75.1 L42.4,66.5 L42.7,52.3 L42.9,27.9 L43.2,8.1 L43.4,27.6 L43.7,53.0 L43.9,67.5 L44.2,76.1 L44.5,80.0 L44.7,82.2 L45.0,84.5 L45.2,85.2 L45.5,87.0 L45.8,87.9 L46.0,88.4 L46.3,87.7 L46.5,88.8 L46.8,88.6 L47.1,89.0 L47.3,88.9 L47.6,89.1 L47.8,89.0 L48.1,89.7 L48.3,89.2 L48.6,90.3 L48.9,89.3 L49.1,90.5 L49.4,89.6 L49.6,89.6 L49.9,90.4 L50.2,90.2 L50.4,90.6 L50.7,90.3 L50.9,90.5 L51.2,89.9 L51.5,90.6 L51.7,90.5 L52.0,91.0 L52.2,89.9 L52.5,90.0 L52.8,90.8 L53.0,91.1 L53.3,90.5 L53.5,90.8 L53.8,90.6 L54.0,90.3 L54.3,90.3 L54.6,90.3 L54.8,89.4 L55.1,89.3 L55.3,89.2 L55.6,87.6 L55.9,86.8 L56.1,86.0 L56.4,86.7 L56.6,88.2 L56.9,89.3 L57.2,90.2 L57.4,90.1 L57.7,90.0 L57.9,90.4 L58.2,90.2 L58.5,90.5 L58.7,91.0 L59.0,91.0 L59.2,90.6 L59.5,90.5 L59.7,90.4 L60.0,90.5 L60.3,90.8 L60.5,90.3 L60.8,90.9 L61.0,90.2 L61.3,89.5 L61.6,89.0 L61.8,87.5 L62.1,87.2 L62.3,86.7 L62.6,86.8 L62.9,88.3 L63.1,88.8 L63.4,89.4 L63.6,89.9 L63.9,90.1 L64.1,90.8 L64.4,91.0 L64.7,91.1 L64.9,90.4 L65.2,91.3 L65.4,90.9 L65.7,90.8 L66.0,90.9 L66.2,90.7 L66.5,90.3 L66.7,90.3 L67.0,90.3 L67.3,89.9 L67.5,89.4 L67.8,87.3 L68.0,86.1 L68.3,83.4 L68.6,81.8 L68.8,83.7 L69.1,85.3 L69.3,88.0 L69.6,89.5 L69.8,89.3 L70.1,90.4 L70.4,91.1 L70.6,90.6 L70.9,91.4 L71.1,91.6 L71.4,91.1 L71.7,90.9 L71.9,91.0 L72.2,91.8 L72.4,91.4 L72.7,91.3 L73.0,91.5 L73.2,92.1 L73.5,91.3 L73.7,91.0 L74.0,92.1 L74.2,91.4 L74.5,91.5 L74.8,92.2 L75.0,91.4 L75.3,91.2 L75.5,92.2 L75.8,91.4 L76.1,91.4 L76.3,92.2 L76.6,91.4 L76.8,92.2 L77.1,91.5 L77.4,91.5 L77.6,91.4 L77.9,91.8 L78.1,91.8 L78.4,91.7 L78.7,91.8 L78.9,91.6 L79.2,92.2 L79.4,92.3 L79.7,92.1 L79.9,92.2 L80.2,91.3 L80.5,91.5 L80.7,91.5 L81.0,91.4 L81.2,92.4 L81.5,92.3 L81.8,92.4 L82.0,91.9 L82.3,91.4 L82.5,91.8 L82.8,91.3 L83.1,92.4 L83.3,91.6 L83.6,91.6 L83.8,92.4 L84.1,91.5 L84.4,92.4 L84.6,91.7 L84.9,92.1 L85.1,91.5 L85.4,92.4 L85.6,91.8 L85.9,91.7 L86.2,92.1 L86.4,92.1 L86.7,91.6 L86.9,91.5 L87.2,92.0 L87.5,91.4 L87.7,92.4 L88.0,91.8 L88.2,91.6 L88.5,91.7 L88.8,91.5 L89.0,91.7 L89.3,92.0 L89.5,91.8 L89.8,91.7 L90.0,91.7 L90.3,91.9 L90.6,92.2 L90.8,91.8 L91.1,92.2 L91.3,91.8 L91.6,91.4 L91.9,91.4 L92.1,92.2 L92.4,91.6 L92.6,91.4 L92.9,91.4 L93.2,91.5 L93.4,90.4 L93.7,89.9 L93.9,89.9 L94.2,89.9 L94.5,91.0 L94.7,91.3 L95.0,91.5 L95.2,91.6 L95.5,91.7 L95.7,92.0 L96.0,91.5 L96.3,92.4 L96.5,91.4 L96.8,92.3 L97.0,91.5 L97.3,92.3 L97.6,91.6 L97.8,91.4 L98.1,92.0 L98.3,92.3 L98.6,92.4 L98.9,92.4 L99.1,92.5 L99.4,91.4 L99.6,91.8 L99.9,91.5 L100.2,92.3 L100.4,91.9 L100.7,92.3 L100.9,92.3 L101.2,92.6 L101.4,92.2 L101.7,92.4 L102.0,92.0 L102.2,91.5 L102.5,92.4 L102.7,91.5 L103.0,91.5 L103.3,92.4 L103.5,91.7 L103.8,92.1 L104.0,91.4 L104.3,91.6 L104.6,92.2 L104.8,91.4 L105.1,91.9 L105.3,92.5 L105.6,91.6 L105.8,92.2 L106.1,92.2 L106.4,92.0 L106.6,92.2 L106.9,92.1 L107.1,91.3 L107.4,91.5 L107.7,91.8 L107.9,92.3 L108.2,91.3 L108.4,91.7 L108.7,91.0 L109.0,91.6 L109.2,90.8 L109.5,90.2 L109.7,89.6 L110.0,88.6 L110.3,89.7 L110.5,90.6 L110.8,91.2 L111.0,90.9 L111.3,91.1 L111.5,91.2 L111.8,92.2 L112.1,91.7 L112.3,91.7 L112.6,91.9 L112.8,92.1 L113.1,91.7 L113.4,91.7 L113.6,92.2 L113.9,92.2 L114.1,91.7 L114.4,91.4 L114.7,92.5 L114.9,92.2 L115.2,92.1 L115.4,91.8 L115.7,92.5 L115.9,91.9 L116.2,91.6 L116.5,91.5 L116.7,91.8 L117.0,92.1 L117.2,91.8 L117.5,92.5 L117.8,92.2 L118.0,91.9 L118.3,92.2 L118.5,92.1 L118.8,92.1 L119.1,92.0 L119.3,92.0 L119.6,92.0 L119.8,92.4 L120.1,91.6 L120.4,92.3 L120.6,91.7 L120.9,92.4 L121.1,91.5 L121.4,92.0 L121.6,91.9 L121.9,92.2 L122.2,91.6 L122.4,91.7 L122.7,91.5 L122.9,92.1 L123.2,92.1 L123.5,91.4 L123.7,91.6 L124.0,91.6 L124.2,92.5 L124.5,91.9 L124.8,92.1 L125.0,91.7 L125.3,92.2 L125.5,92.4 L125.8,92.2 L126.0,91.4 L126.3,91.9 L126.6,92.0 L126.8,91.4 L127.1,92.3 L127.3,91.8 L127.6,91.7 L127.9,92.1 L128.1,92.1 L128.4,92.0 L128.6,92.4 L128.9,92.0 L129.2,91.8 L129.4,91.5 L129.7,92.1 L129.9,91.8 L130.2,92.0 L130.5,91.8 L130.7,91.4 L131.0,91.4 L131.2,91.6 L131.5,91.5 L131.7,92.4 L132.0,92.1 L132.3,91.7 L132.5,92.2 L132.8,92.2 L133.0,91.5 L133.3,92.3 L133.6,91.7 L133.8,92.6 L134.1,91.6 L134.3,91.7 L134.6,91.7 L134.9,92.4 L135.1,92.4 L135.4,92.1 L135.6,91.6 L135.9,91.9 L136.2,92.2 L136.4,91.5 L136.7,92.5 L136.9,92.4 L137.2,92.5 L137.4,92.2 L137.7,92.1 L138.0,92.6 L138.2,91.7 L138.5,91.8 L138.7,91.5 L139.0,91.6 L139.3,92.4 L139.5,91.5 L139.8,92.3 L140.0,91.9 L140.3,92.4 L140.6,92.3 L140.8,92.2 L141.1,92.4 L141.3,91.4 L141.6,91.7 L141.8,91.8 L142.1,91.9 L142.4,92.2 L142.6,92.5 L142.9,92.3 L143.1,92.5 L143.4,92.2 L143.7,91.8 L143.9,92.0 L144.2,92.3 L144.4,92.4 L144.7,91.8 L145.0,91.8 L145.2,92.1 L145.5,91.7 L145.7,92.5 L146.0,91.4 L146.3,92.2 L146.5,92.0 L146.8,91.6 L147.0,92.1 L147.3,92.0 L147.5,92.6 L147.8,92.5 L148.1,92.1 L148.3,92.4 L148.6,92.5 L148.8,91.6 L149.1,92.4 L149.4,92.4 L149.6,92.6 L149.9,92.3 L150.1,91.9 L150.4,91.6 L150.7,92.2 L150.9,91.6 L151.2,92.3 L151.4,92.1 L151.7,92.4 L151.9,91.8 L152.2,91.8 L152.5,92.5 L152.7,92.2 L153.0,91.9 L153.2,92.1 L153.5,91.9 L153.8,92.2 L154.0,92.0 L154.3,91.7 L154.5,92.6 L154.8,92.5 L155.1,92.3 L155.3,91.7 L155.6,91.6 L155.8,92.3 L156.1,92.4 L156.4,92.2 L156.6,91.7 L156.9,92.3 L157.1,92.0 L157.4,91.8 L157.6,92.1 L157.9,91.9 L158.2,92.2 L158.4,92.3 L158.7,92.6 L158.9,91.5 L159.2,92.1 L159.5,92.5 L159.7,92.2 L160.0,92.1 L160.2,92.4 L160.5,91.4 L160.8,92.3 L161.0,92.1 L161.3,92.1 L161.5,91.8 L161.8,92.1 L162.1,91.5 L162.3,92.0 L162.6,91.7 L162.8,92.5 L163.1,92.4 L163.3,92.0 L163.6,92.3 L163.9,91.9 L164.1,92.0 L164.4,91.6 L164.6,92.4 L164.9,92.3 L165.2,92.3 L165.4,91.5 L165.7,92.3 L165.9,91.3 L166.2,92.0 L166.5,91.9 L166.7,91.4 L167.0,91.8 L167.2,92.3 L167.5,92.0 L167.7,91.6 L168.0,92.2 L168.3,91.6 L168.5,92.2 L168.8,91.6 L169.0,91.2 L169.3,92.3 L169.6,91.2 L169.8,91.4 L170.1,92.0 L170.3,91.2 L170.6,91.7 L170.9,92.0 L171.1,91.7 L171.4,91.4 L171.6,91.9 L171.9,91.9 L172.2,91.6 L172.4,91.7 L172.7,91.3 L172.9,91.4 L173.2,92.1 L173.4,92.0 L173.7,90.8 L174.0,91.0 L174.2,91.1 L174.5,91.7 L174.7,91.0 L175.0,91.0 L175.3,91.6 L175.5,90.9 L175.8,91.9 L176.0,91.2 L176.3,91.7 L176.6,91.6 L176.8,90.9 L177.1,91.6 L177.3,91.1 L177.6,90.8 L177.8,90.6 L178.1,91.4 L178.4,91.2 L178.6,90.8 L178.9,91.5 L179.1,90.7 L179.4,90.9 L179.7,90.4 L179.9,90.6 L180.2,91.2 L180.4,90.6 L180.7,90.0 L181.0,90.0 L181.2,90.2 L181.5,89.5 L181.7,89.8 L182.0,88.4 L182.3,88.9 L182.5,88.0 L182.8,87.6 L183.0,86.3 L183.3,85.2 L183.5,84.5 L183.8,84.2 L184.1,82.7 L184.3,82.0 L184.6,82.1 L184.8,81.6 L185.1,81.1 L185.4,80.7 L185.6,80.2 L185.9,80.5 L186.1,80.5 L186.4,80.6 L186.7,80.9 L186.9,81.1 L187.2,81.8 L187.4,82.8 L187.7,83.9 L188.0,84.3 L188.2,86.2 L188.5,86.5 L188.7,87.4 L189.0,88.3 L189.2,88.1 L189.5,89.4 L189.8,89.9 L190.0,89.5 L190.3,89.6 L190.5,90.7 L190.8,91.0 L191.1,91.1 L191.3,90.7 L191.6,91.1 L191.8,90.5 L192.1,90.7 L192.4,91.0 L192.6,91.4 L192.9,90.6 L193.1,91.7 L193.4,90.6 L193.6,91.7 L193.9,90.9 L194.2,91.6 L194.4,91.6 L194.7,91.7 L194.9,91.2 L195.2,91.4 L195.5,90.9 L195.7,91.6 L196.0,90.7 L196.2,91.7 L196.5,91.3 L196.8,90.7 L197.0,91.7 L197.3,91.0 L197.5,90.7 L197.8,90.9 L198.1,90.7 L198.3,91.0 L198.6,91.5 L198.8,91.8 L199.1,91.4 L199.3,91.7 L199.6,91.6 L199.9,91.5 L200.1,91.1 L200.4,91.0 L200.6,90.8 L200.9,91.3 L201.2,90.9 L201.4,91.5 L201.7,91.0 L201.9,91.4 L202.2,91.3 L202.5,91.4 L202.7,90.8 L203.0,91.0 L203.2,91.5 L203.5,90.9 L203.8,91.4 L204.0,91.8 L204.3,91.1 L204.5,91.8 L204.8,91.3 L205.0,91.7 L205.3,91.2 L205.6,91.4 L205.8,91.2 L206.1,90.5 L206.3,90.7 L206.6,90.5 L206.9,90.0 L207.1,89.8 L207.4,89.9 L207.6,90.0 L207.9,90.4 L208.2,90.0 L208.4,91.0 L208.7,91.1 L208.9,91.6 L209.2,90.5 L209.4,90.8 L209.7,91.8 L210.0,91.1 L210.2,91.5 L210.5,91.4 L210.7,91.2 L211.0,91.3 L211.3,91.4 L211.5,92.0 L211.8,91.4 L212.0,91.7 L212.3,91.2 L212.6,91.7 L212.8,91.5 L213.1,91.7 L213.3,91.9 L213.6,90.9 L213.9,92.0 L214.1,91.6 L214.4,91.2 L214.6,91.4 L214.9,91.0 L215.1,91.1 L215.4,91.9 L215.7,91.7 L215.9,91.9 L216.2,91.1 L216.4,91.0 L216.7,91.3" stroke="#33d633"/>
<path d="M38.0,65.4 L38.2,67.7 L38.5,70.4 L38.8,71.8 L39.0,72.6 L39.3,74.5 L39.5,75.6 L39.8,76.5 L40.1,77.8 L40.3,78.2 L40.6,79.4 L40.8,80.8 L41.1,80.5 L41.4,81.8 L41.6,82.0 L41.9,82.7 L42.1,84.2 L42.4,83.8 L42.7,83.7 L42.9,84.0 L43.2,84.7 L43.4,84.8 L43.7,84.2 L43.9,84.7 L44.2,85.7 L44.5,84.9 L44.7,85.5 L45.0,85.5 L45.2,86.0 L45.5,86.0 L45.8,86.3 L46.0,86.1 L46.3,85.7 L46.5,85.7 L46.8,85.6 L47.1,86.5 L47.3,85.7 L47.6,85.7 L47.8,86.8 L48.1,85.9 L48.3,86.8 L48.6,85.9 L48.9,86.4 L49.1,86.1 L49.4,86.9 L49.6,86.7 L49.9,86.7 L50.2,86.9 L50.4,87.1 L50.7,86.5 L50.9,86.8 L51.2,86.7 L51.5,86.3 L51.7,87.2 L52.0,86.9 L52.2,87.2 L52.5,86.5 L52.8,86.9 L53.0,86.9 L53.3,87.2 L53.5,86.4 L53.8,86.8 L54.0,86.9 L54.3,86.4 L54.6,86.9 L54.8,87.1 L55.1,86.6 L55.3,86.6 L55.6,86.2 L55.9,85.3 L56.1,85.3 L56.4,86.3 L56.6,85.9 L56.9,86.4 L57.2,86.3 L57.4,86.6 L57.7,86.7 L57.9,87.7 L58.2,87.5 L58.5,87.7 L58.7,87.9 L59.0,87.4 L59.2,87.8 L59.5,87.4 L59.7,87.2 L60.0,87.8 L60.3,87.7 L60.5,87.7 L60.8,87.1 L61.0,87.3 L61.3,86.7 L61.6,87.2 L61.8,86.7 L62.1,85.5 L62.3,86.0 L62.6,85.4 L62.9,85.7 L63.1,86.9 L63.4,86.6 L63.6,87.1 L63.9,87.3 L64.1,86.7 L64.4,87.6 L64.7,87.1 L64.9,87.3 L65.2,87.2 L65.4,87.7 L65.7,87.7 L66.0,87.1 L66.2,86.9 L66.5,87.1 L66.7,87.2 L67.0,86.7 L67.3,86.6 L67.5,87.1 L67.8,86.7 L68.0,86.4 L68.3,85.6 L68.6,85.1 L68.8,84.9 L69.1,85.5 L69.3,86.3 L69.6,86.8 L69.8,87.1 L70.1,87.3 L70.4,87.2 L70.6,87.9 L70.9,87.2 L71.1,87.5 L71.4,88.0 L71.7,87.9 L71.9,87.4 L72.2,87.3 L72.4,88.0 L72.7,87.1 L73.0,87.2 L73.2,87.7 L73.5,87.7 L73.7,87.3 L74.0,87.1 L74.2,87.3 L74.5,88.0 L74.8,87.7 L75.0,88.3 L75.3,88.1 L75.5,88.3 L75.8,87.2 L76.1,87.4 L76.3,87.2 L76.6,87.7 L76.8,87.5 L77.1,87.2 L77.4,87.8 L77.6,87.3 L77.9,87.5 L78.1,87.5 L78.4,88.1 L78.7,87.7 L78.9,87.5 L79.2,87.2 L79.4,87.7 L79.7,87.9 L79.9,88.0 L80.2,88.3 L80.5,88.1 L80.7,87.5 L81.0,87.3 L81.2,88.1 L81.5,88.1 L81.8,87.8 L82.0,88.1 L82.3,87.8 L82.5,87.5 L82.8,87.3 L83.1,87.1 L83.3,87.9 L83.6,88.2 L83.8,88.1 L84.1,87.6 L84.4,87.8 L84.6,88.1 L84.9,87.9 L85.1,87.6 L85.4,87.2 L85.6,87.2 L85.9,86.6 L86.2,86.3 L86.4,86.5 L86.7,86.3 L86.9,85.0 L87.2,84.5 L87.5,84.7 L87.7,85.4 L88.0,86.3 L88.2,86.2 L88.5,86.9 L88.8,85.9 L89.0,85.9 L89.3,85.8 L89.5,85.0 L89.8,84.6 L90.0,83.4 L90.3,82.9 L90.6,83.1 L90.8,83.5 L91.1,85.0 L91.3,85.6 L91.6,85.8 L91.9,85.7 L92.1,86.1 L92.4,86.1 L92.6,84.7 L92.9,84.6 L93.2,83.0 L93.4,81.5 L93.7,80.4 L93.9,80.3 L94.2,81.3 L94.5,82.6 L94.7,84.8 L95.0,84.8 L95.2,85.6 L95.5,86.5 L95.7,86.1 L96.0,86.1 L96.3,86.9 L96.5,86.7 L96.8,85.6 L97.0,85.2 L97.3,84.4 L97.6,83.9 L97.8,84.4 L98.1,86.0 L98.3,85.5 L98.6,86.0 L98.9,86.2 L99.1,86.2 L99.4,86.8 L99.6,87.1 L99.9,87.1 L100.2,86.7 L100.4,86.8 L100.7,85.5 L100.9,85.4 L101.2,85.4 L101.4,83.3 L101.7,81.9 L102.0,80.4 L102.2,79.2 L102.5,80.3 L102.7,81.5 L103.0,83.1 L103.3,84.9 L103.5,84.4 L103.8,85.5 L104.0,84.4 L104.3,84.8 L104.6,83.6 L104.8,83.3 L105.1,83.2 L105.3,84.0 L105.6,85.7 L105.8,85.5 L106.1,85.9 L106.4,86.9 L106.6,87.1 L106.9,86.1 L107.1,87.2 L107.4,86.6 L107.7,86.3 L107.9,85.8 L108.2,85.8 L108.4,86.1 L108.7,84.6 L109.0,83.3 L109.2,81.7 L109.5,79.4 L109.7,76.9 L110.0,76.3 L110.3,76.6 L110.5,79.5 L110.8,82.7 L111.0,84.5 L111.3,85.5 L111.5,85.4 L111.8,86.0 L112.1,87.1 L112.3,86.8 L112.6,87.2 L112.8,86.9 L113.1,86.6 L113.4,87.1 L113.6,87.7 L113.9,87.8 L114.1,87.5 L114.4,87.5 L114.7,87.6 L114.9,87.5 L115.2,87.6 L115.4,88.0 L115.7,87.2 L115.9,87.7 L116.2,88.1 L116.5,88.0 L116.7,87.1 L117.0,88.1 L117.2,87.9 L117.5,87.0 L117.8,87.1 L118.0,86.9 L118.3,86.6 L118.5,87.5 L118.8,86.5 L119.1,86.6 L119.3,85.1 L119.6,84.0 L119.8,83.7 L120.1,82.0 L120.4,81.5 L120.6,81.9 L120.9,83.3 L121.1,85.0 L121.4,85.1 L121.6,86.3 L121.9,86.6 L122.2,86.5 L122.4,87.3 L122.7,87.1 L122.9,87.4 L123.2,87.3 L123.5,87.3 L123.7,87.4 L124.0,87.8 L124.2,88.3 L124.5,88.2 L124.8,88.2 L125.0,88.2 L125.3,87.5 L125.5,88.4 L125.8,87.5 L126.0,87.4 L126.3,87.8 L126.6,88.1 L126.8,87.7 L127.1,88.0 L127.3,87.6 L127.6,88.4 L127.9,87.8 L128.1,87.9 L128.4,87.9 L128.6,88.3 L128.9,88.5 L129.2,87.9 L129.4,87.8 L129.7,88.1 L129.9,87.4 L130.2,87.8 L130.5,88.3 L130.7,88.3 L131.0,87.4 L131.2,88.4 L131.5,87.8 L131.7,88.5 L132.0,87.8 L132.3,87.6 L132.5,88.0 L132.8,88.4 L133.0,87.9 L133.3,88.4 L133.6,88.2 L133.8,87.8 L134.1,87.7 L134.3,87.9 L134.6,87.8 L134.9,87.8 L135.1,88.1 L135.4,88.4 L135.6,88.0 L135.9,87.5 L136.2,87.6 L136.4,87.8 L136.7,88.1 L136.9,87.5 L137.2,87.4 L137.4,87.7 L137.7,87.7 L138.0,87.4 L138.2,88.0 L138.5,88.5 L138.7,88.0 L139.0,88.2 L139.3,88.3 L139.5,88.4 L139.8,88.5 L140.0,87.9 L140.3,88.2 L140.6,87.5 L140.8,88.4 L141.1,87.8 L141.3,87.9 L141.6,88.4 L141.8,87.7 L142.1,87.6 L142.4,88.3 L142.6,88.1 L142.9,87.5 L143.1,87.4 L143.4,87.8 L143.7,87.4 L143.9,88.4 L144.2,87.6 L144.4,87.7 L144.7,87.8 L145.0,88.0 L145.2,87.9 L145.5,88.1 L145.7,88.1 L146.0,87.9 L146.3,87.5 L146.5,88.5 L146.8,88.2 L147.0,87.5 L147.3,87.9 L147.5,88.3 L147.8,88.5 L148.1,87.4 L148.3,87.4 L148.6,87.9 L148.8,87.9 L149.1,88.4 L149.4,88.3 L149.6,87.8 L149.9,87.9 L150.1,88.1 L150.4,88.4 L150.7,87.6 L150.9,87.8 L151.2,87.5 L151.4,88.1 L151.7,87.4 L151.9,88.5 L152.2,88.0 L152.5,88.0 L152.7,87.5 L153.0,87.6 L153.2,87.9 L153.5,88.4 L153.8,88.0 L154.0,87.7 L154.3,88.5 L154.5,88.1 L154.8,88.0 L155.1,87.6 L155.3,87.7 L155.6,88.4 L155.8,87.5 L156.1,88.0 L156.4,88.1 L156.6,87.8 L156.9,88.3 L157.1,88.4 L157.4,88.4 L157.6,88.2 L157.9,87.6 L158.2,87.4 L158.4,87.9 L158.7,87.7 L158.9,87.6 L159.2,88.4 L159.5,87.6 L159.7,88.3 L160.0,88.5 L160.2,87.5 L160.5,88.4 L160.8,87.8 L161.0,87.6 L161.3,87.6 L161.5,87.4 L161.8,87.9 L162.1,87.8 L162.3,88.3 L162.6,88.3 L162.8,87.4 L163.1,87.8 L163.3,87.8 L163.6,87.5 L163.9,87.6 L164.1,87.6 L164.4,88.1 L164.6,87.7 L164.9,87.4 L165.2,87.5 L165.4,87.8 L165.7,87.9 L165.9,87.5 L166.2,88.0 L166.5,87.3 L166.7,87.9 L167.0,87.7 L167.2,87.2 L167.5,87.8 L167.7,87.4 L168.0,87.5 L168.3,87.6 L168.5,87.6 L168.8,87.3 L169.0,86.8 L169.3,87.6 L169.6,87.7 L169.8,87.2 L170.1,87.3 L170.3,86.9 L170.6,87.6 L170.9,87.3 L171.1,86.7 L171.4,87.4 L171.6,87.5 L171.9,86.7 L172.2,87.5 L172.4,86.8 L172.7,86.4 L172.9,87.0 L173.2,86.5 L173.4,86.9 L173.7,86.7 L174.0,86.1 L174.2,86.6 L174.5,86.9 L174.7,86.4 L175.0,86.4 L175.3,86.8 L175.5,86.2 L175.8,86.2 L176.0,86.3 L176.3,86.5 L176.6,85.7 L176.8,85.5 L177.1,86.3 L177.3,86.0 L177.6,85.6 L177.8,86.3 L178.1,86.2 L178.4,85.7 L178.6,86.1 L178.9,85.9 L179.1,85.6 L179.4,85.0 L179.7,84.5 L179.9,85.1 L180.2,84.9 L180.4,84.1 L180.7,83.8 L181.0,83.4 L181.2,82.4 L181.5,82.1 L181.7,81.0 L182.0,79.6 L182.3,77.8 L182.5,76.6 L182.8,74.4 L183.0,72.7 L183.3,69.7 L183.5,67.5 L183.8,64.7 L184.1,62.3 L184.3,60.0 L184.6,57.1 L184.8,55.0 L185.1,53.9 L185.4,52.4 L185.6,52.1 L185.9,51.6 L186.1,52.0 L186.4,53.6 L186.7,55.6 L186.9,57.5 L187.2,59.3 L187.4,61.6 L187.7,63.8 L188.0,66.7 L188.2,69.2 L188.5,72.4 L188.7,73.6 L189.0,76.6 L189.2,77.8 L189.5,79.2 L189.8,80.3 L190.0,82.2 L190.3,82.1 L190.5,83.2 L190.8,83.7 L191.1,83.8 L191.3,84.1 L191.6,85.3 L191.8,85.2 L192.1,85.3 L192.4,85.7 L192.6,84.8 L192.9,85.6 L193.1,85.7 L193.4,85.1 L193.6,85.5 L193.9,86.1 L194.2,85.4 L194.4,86.0 L194.7,85.3 L194.9,85.9 L195.2,85.5 L195.5,85.8 L195.7,85.6 L196.0,86.3 L196.2,86.1 L196.5,85.9 L196.8,86.1 L197.0,85.8 L197.3,86.3 L197.5,85.7 L197.8,86.0 L198.1,86.1 L198.3,85.9 L198.6,85.5 L198.8,85.6 L199.1,86.2 L199.3,85.7 L199.6,86.4 L199.9,86.1 L200.1,86.6 L200.4,86.5 L200.6,86.4 L200.9,86.0 L201.2,85.6 L201.4,86.2 L201.7,86.4 L201.9,86.6 L202.2,85.8 L202.5,85.7 L202.7,86.7 L203.0,86.4 L203.2,86.1 L203.5,86.4 L203.8,85.7 L204.0,86.1 L204.3,86.2 L204.5,86.1 L204.8,85.4 L205.0,85.3 L205.3,85.7 L205.6,85.8 L205.8,84.6 L206.1,84.0 L206.3,83.4 L206.6,83.1 L206.9,81.1 L207.1,79.4 L207.4,79.1 L207.6,79.6 L207.9,81.0 L208.2,83.1 L208.4,83.4 L208.7,84.4 L208.9,85.4 L209.2,85.1 L209.4,85.2 L209.7,86.0 L210.0,85.9 L210.2,86.8 L210.5,85.8 L210.7,86.7 L211.0,86.3 L211.3,86.8 L211.5,86.4 L211.8,86.7 L212.0,86.4 L212.3,86.3 L212.6,86.6 L212.8,87.0 L213.1,86.5 L213.3,86.4 L213.6,86.6 L213.9,86.3 L214.1,86.5 L214.4,86.9 L214.6,86.8 L214.9,86.9 L215.1,86.6 L215.4,86.3 L215.7,86.3 L215.9,86.7 L216.2,86.5 L216.4,87.0 L216.7,86.6" stroke="#e8262a"/>
<path d="M38.0,9.5 L38.2,11.1 L38.5,11.7 L38.8,16.2 L39.0,20.2 L39.3,23.2 L39.5,27.1 L39.8,26.1 L40.1,22.5 L40.3,20.0 L40.6,18.9 L40.8,20.9 L41.1,24.6 L41.4,26.9 L41.6,30.2 L41.9,33.5 L42.1,38.5 L42.4,43.1 L42.7,46.7 L42.9,51.2 L43.2,55.3 L43.4,55.7 L43.7,58.4 L43.9,59.6 L44.2,60.6 L44.5,61.6 L44.7,64.6 L45.0,65.4 L45.2,67.4 L45.5,69.1 L45.8,70.3 L46.0,71.0 L46.3,70.3 L46.5,71.2 L46.8,70.9 L47.1,72.0 L47.3,72.1 L47.6,71.0 L47.8,71.3 L48.1,71.7 L48.3,73.3 L48.6,72.6 L48.9,73.2 L49.1,72.8 L49.4,73.4 L49.6,73.5 L49.9,73.7 L50.2,74.3 L50.4,74.6 L50.7,75.4 L50.9,75.2 L51.2,75.7 L51.5,75.6 L51.7,75.9 L52.0,75.3 L52.2,74.4 L52.5,75.7 L52.8,75.9 L53.0,75.8 L53.3,75.2 L53.5,75.5 L53.8,74.6 L54.0,75.7 L54.3,75.1 L54.6,74.5 L54.8,74.0 L55.1,75.2 L55.3,75.1 L55.6,72.9 L55.9,73.5 L56.1,72.5 L56.4,72.4 L56.6,73.4 L56.9,74.9 L57.2,75.5 L57.4,74.3 L57.7,75.5 L57.9,74.7 L58.2,76.0 L58.5,75.4 L58.7,76.4 L59.0,76.7 L59.2,75.8 L59.5,76.8 L59.7,75.5 L60.0,75.1 L60.3,76.0 L60.5,75.0 L60.8,75.2 L61.0,75.4 L61.3,75.6 L61.6,74.4 L61.8,73.6 L62.1,74.4 L62.3,73.1 L62.6,74.6 L62.9,75.2 L63.1,74.8 L63.4,75.4 L63.6,75.8 L63.9,76.2 L64.1,76.2 L64.4,76.2 L64.7,76.4 L64.9,77.0 L65.2,76.2 L65.4,76.1 L65.7,76.6 L66.0,75.8 L66.2,75.8 L66.5,77.0 L66.7,76.1 L67.0,76.0 L67.3,74.8 L67.5,75.1 L67.8,74.8 L68.0,72.8 L68.3,72.6 L68.6,71.9 L68.8,71.6 L69.1,74.0 L69.3,74.7 L69.6,75.7 L69.8,75.5 L70.1,76.4 L70.4,76.7 L70.6,75.5 L70.9,75.6 L71.1,76.8 L71.4,77.4 L71.7,76.2 L71.9,76.6 L72.2,76.8 L72.4,76.4 L72.7,76.5 L73.0,76.4 L73.2,76.5 L73.5,77.0 L73.7,76.4 L74.0,76.6 L74.2,77.3 L74.5,76.0 L74.8,77.0 L75.0,77.3 L75.3,76.5 L75.5,76.4 L75.8,77.4 L76.1,76.4 L76.3,76.4 L76.6,76.8 L76.8,77.3 L77.1,76.2 L77.4,76.6 L77.6,76.7 L77.9,77.6 L78.1,76.9 L78.4,77.6 L78.7,76.4 L78.9,76.7 L79.2,77.3 L79.4,77.7 L79.7,76.9 L79.9,76.5 L80.2,76.3 L80.5,77.0 L80.7,76.4 L81.0,77.5 L81.2,77.6 L81.5,76.4 L81.8,76.6 L82.0,77.5 L82.3,77.2 L82.5,77.5 L82.8,76.7 L83.1,76.2 L83.3,76.5 L83.6,77.4 L83.8,76.4 L84.1,76.5 L84.4,76.6 L84.6,76.5 L84.9,76.4 L85.1,77.1 L85.4,75.6 L85.6,75.0 L85.9,76.3 L86.2,75.6 L86.4,75.0 L86.7,72.8 L86.9,72.3 L87.2,71.5 L87.5,70.8 L87.7,73.0 L88.0,74.1 L88.2,74.4 L88.5,74.4 L88.8,74.0 L89.0,73.7 L89.3,72.8 L89.5,71.4 L89.8,70.6 L90.0,68.0 L90.3,67.9 L90.6,67.4 L90.8,70.9 L91.1,72.1 L91.3,73.6 L91.6,74.0 L91.9,74.2 L92.1,73.4 L92.4,71.9 L92.6,72.2 L92.9,69.4 L93.2,67.0 L93.4,64.1 L93.7,60.4 L93.9,59.8 L94.2,63.8 L94.5,67.0 L94.7,69.4 L95.0,71.2 L95.2,73.5 L95.5,73.6 L95.7,74.6 L96.0,74.0 L96.3,73.6 L96.5,73.9 L96.8,73.8 L97.0,71.6 L97.3,71.4 L97.6,71.0 L97.8,71.5 L98.1,72.9 L98.3,72.6 L98.6,74.5 L98.9,75.5 L99.1,74.3 L99.4,74.8 L99.6,74.8 L99.9,75.2 L100.2,74.9 L100.4,74.6 L100.7,74.7 L100.9,72.5 L101.2,71.5 L101.4,69.8 L101.7,67.2 L102.0,64.1 L102.2,64.2 L102.5,65.3 L102.7,66.6 L103.0,69.7 L103.3,70.8 L103.5,71.4 L103.8,71.4 L104.0,71.2 L104.3,69.7 L104.6,67.5 L104.8,66.4 L105.1,67.8 L105.3,69.5 L105.6,72.1 L105.8,73.6 L106.1,73.8 L106.4,73.7 L106.6,74.2 L106.9,74.7 L107.1,75.1 L107.4,75.4 L107.7,74.4 L107.9,74.8 L108.2,74.0 L108.4,72.8 L108.7,71.4 L109.0,69.7 L109.2,67.1 L109.5,62.3 L109.7,57.9 L110.0,55.0 L110.3,57.1 L110.5,62.6 L110.8,67.2 L111.0,69.1 L111.3,71.8 L111.5,73.1 L111.8,74.8 L112.1,75.6 L112.3,75.0 L112.6,76.3 L112.8,76.4 L113.1,75.6 L113.4,76.2 L113.6,75.7 L113.9,77.0 L114.1,76.8 L114.4,77.3 L114.7,77.2 L114.9,77.0 L115.2,77.1 L115.4,76.9 L115.7,76.0 L115.9,76.9 L116.2,75.9 L116.5,76.1 L116.7,77.2 L117.0,75.8 L117.2,75.9 L117.5,75.8 L117.8,77.1 L118.0,75.7 L118.3,75.2 L118.5,76.3 L118.8,74.6 L119.1,75.3 L119.3,74.0 L119.6,72.8 L119.8,70.8 L120.1,67.7 L120.4,66.8 L120.6,66.7 L120.9,70.5 L121.1,72.2 L121.4,74.1 L121.6,74.0 L121.9,75.8 L122.2,76.6 L122.4,75.4 L122.7,76.1 L122.9,76.7 L123.2,77.3 L123.5,76.3 L123.7,76.3 L124.0,76.5 L124.2,77.2 L124.5,77.5 L124.8,76.9 L125.0,76.9 L125.3,77.0 L125.5,76.9 L125.8,77.1 L126.0,76.5 L126.3,77.2 L126.6,78.1 L126.8,77.1 L127.1,77.7 L127.3,76.7 L127.6,77.6 L127.9,77.8 L128.1,77.6 L128.4,77.4 L128.6,77.3 L128.9,77.6 L129.2,78.1 L129.4,76.7 L129.7,76.6 L129.9,77.8 L130.2,78.1 L130.5,77.4 L130.7,77.3 L131.0,77.8 L131.2,76.8 L131.5,77.0 L131.7,76.8 L132.0,77.5 L132.3,77.1 L132.5,76.9 L132.8,77.7 L133.0,78.2 L133.3,77.0 L133.6,77.8 L133.8,77.2 L134.1,78.0 L134.3,77.6 L134.6,77.0 L134.9,76.9 L135.1,76.5 L135.4,77.4 L135.6,77.2 L135.9,76.8 L136.2,77.2 L136.4,77.1 L136.7,77.9 L136.9,76.8 L137.2,78.3 L137.4,77.4 L137.7,77.6 L138.0,77.4 L138.2,78.0 L138.5,78.0 L138.7,77.5 L139.0,77.4 L139.3,77.8 L139.5,78.0 L139.8,77.2 L140.0,77.8 L140.3,78.2 L140.6,77.3 L140.8,76.9 L141.1,76.8 L141.3,77.7 L141.6,77.6 L141.8,78.1 L142.1,77.9 L142.4,76.8 L142.6,76.7 L142.9,76.8 L143.1,76.7 L143.4,77.6 L143.7,77.8 L143.9,77.9 L144.2,76.7 L144.4,77.8 L144.7,76.8 L145.0,77.0 L145.2,77.5 L145.5,76.4 L145.7,76.4 L146.0,77.7 L146.3,76.7 L146.5,76.8 L146.8,77.2 L147.0,77.4 L147.3,76.1 L147.5,76.7 L147.8,76.9 L148.1,77.0 L148.3,76.5 L148.6,77.1 L148.8,77.8 L149.1,76.7 L149.4,77.0 L149.6,76.2 L149.9,76.5 L150.1,77.2 L150.4,76.2 L150.7,77.6 L150.9,77.6 L151.2,76.1 L151.4,77.6 L151.7,76.6 L151.9,77.3 L152.2,77.2 L152.5,76.4 L152.7,77.1 L153.0,77.0 L153.2,77.3 L153.5,76.3 L153.8,77.2 L154.0,77.5 L154.3,77.0 L154.5,76.7 L154.8,76.0 L155.1,76.6 L155.3,76.4 L155.6,77.0 L155.8,76.9 L156.1,76.7 L156.4,76.0 L156.6,76.8 L156.9,76.8 L157.1,76.0 L157.4,77.2 L157.6,76.8 L157.9,75.8 L158.2,77.3 L158.4,75.8 L158.7,76.1 L158.9,76.8 L159.2,76.6 L159.5,76.5 L159.7,76.7 L160.0,76.3 L160.2,76.0 L160.5,75.8 L160.8,75.6 L161.0,76.7 L161.3,76.8 L161.5,76.4 L161.8,76.7 L162.1,76.0 L162.3,75.8 L162.6,76.0 L162.8,76.9 L163.1,75.4 L163.3,76.2 L163.6,75.7 L163.9,76.6 L164.1,75.9 L164.4,75.8 L164.6,75.9 L164.9,76.2 L165.2,76.6 L165.4,75.8 L165.7,76.7 L165.9,75.3 L166.2,75.6 L166.5,75.3 L166.7,75.3 L167.0,76.5 L167.2,76.4 L167.5,75.4 L167.7,75.4 L168.0,75.7 L168.3,76.3 L168.5,76.4 L168.8,76.3 L169.0,76.0 L169.3,75.2 L169.6,75.6 L169.8,75.2 L170.1,75.8 L170.3,75.8 L170.6,75.1 L170.9,75.1 L171.1,76.0 L171.4,74.6 L171.6,75.9 L171.9,76.0 L172.2,76.1 L172.4,75.0 L172.7,75.2 L172.9,75.2 L173.2,75.3 L173.4,75.8 L173.7,75.2 L174.0,74.5 L174.2,75.4 L174.5,74.7 L174.7,74.8 L175.0,75.0 L175.3,73.6 L175.5,74.9 L175.8,74.6 L176.0,74.2 L176.3,74.2 L176.6,74.0 L176.8,73.4 L177.1,73.9 L177.3,73.0 L177.6,73.7 L177.8,73.8 L178.1,73.3 L178.4,73.3 L178.6,73.8 L178.9,73.4 L179.1,71.6 L179.4,72.3 L179.7,71.4 L179.9,69.6 L180.2,69.2 L180.4,67.7 L180.7,65.9 L181.0,64.8 L181.2,63.2 L181.5,59.3 L181.7,56.9 L182.0,52.5 L182.3,46.6 L182.5,41.9 L182.8,34.4 L183.0,28.1 L183.3,22.8 L183.5,18.4 L183.8,12.6 L184.1,7.9 L184.3,2.7 L184.6,-2.5 L184.8,-7.7 L185.1,-10.7 L185.4,-13.7 L185.6,-15.7 L185.9,-15.9 L186.1,-14.8 L186.4,-12.2 L186.7,-8.9 L186.9,-3.9 L187.2,1.6 L187.4,7.1 L187.7,13.0 L188.0,19.7 L188.2,25.3 L188.5,31.7 L188.7,38.1 L189.0,42.8 L189.2,47.3 L189.5,53.0 L189.8,56.5 L190.0,59.2 L190.3,62.0 L190.5,64.6 L190.8,66.6 L191.1,67.5 L191.3,68.4 L191.6,69.7 L191.8,71.5 L192.1,71.0 L192.4,72.0 L192.6,71.9 L192.9,72.2 L193.1,72.3 L193.4,72.9 L193.6,72.6 L193.9,72.5 L194.2,72.7 L194.4,72.9 L194.7,73.5 L194.9,72.8 L195.2,72.8 L195.5,73.6 L195.7,73.6 L196.0,74.2 L196.2,73.0 L196.5,73.7 L196.8,73.7 L197.0,73.1 L197.3,74.8 L197.5,73.5 L197.8,73.3 L198.1,74.1 L198.3,73.5 L198.6,74.4 L198.8,73.9 L199.1,73.5 L199.3,73.4 L199.6,74.7 L199.9,73.9 L200.1,74.8 L200.4,74.3 L200.6,75.1 L200.9,74.0 L201.2,73.9 L201.4,74.0 L201.7,75.0 L201.9,74.6 L202.2,74.1 L202.5,73.7 L202.7,74.7 L203.0,75.2 L203.2,74.5 L203.5,73.5 L203.8,73.5 L204.0,73.5 L204.3,73.6 L204.5,73.3 L204.8,73.2 L205.0,74.1 L205.3,74.3 L205.6,72.7 L205.8,73.5 L206.1,71.9 L206.3,71.3 L206.6,69.8 L206.9,67.3 L207.1,62.8 L207.4,61.8 L207.6,63.8 L207.9,67.4 L208.2,68.4 L208.4,70.6 L208.7,72.8 L208.9,72.3 L209.2,73.3 L209.4,73.6 L209.7,74.5 L210.0,75.2 L210.2,74.0 L210.5,75.2 L210.7,75.3 L211.0,75.6 L211.3,75.1 L211.5,75.9 L211.8,74.9 L212.0,75.1 L212.3,74.8 L212.6,75.8 L212.8,75.4 L213.1,75.0 L213.3,74.9 L213.6,75.9 L213.9,75.7 L214.1,76.0 L214.4,75.4 L214.6,75.6 L214.9,75.0 L215.1,76.1 L215.4,74.9 L215.7,75.7 L215.9,76.2 L216.2,76.1 L216.4,75.1 L216.7,75.4" stroke="#1a1a1a"/>
</g>
<text x="48.4" y="50.8" font-size="13.7" fill="#222">TiO<tspan font-size="9.2" dy="3.2">2</tspan></text>
<ellipse cx="59" cy="85.8" rx="22.8" ry="28.9" fill="none" stroke="#e82b2b" stroke-width="1.6" stroke-dasharray="5 3.2"/>
<rect x="210.5" y="33.5" width="66.5" height="75" fill="#fff" stroke="#999" stroke-width="0.8"/>
<path d="M212,39.8 H234.5" stroke="#333" stroke-width="1.2"/>
<text x="237.6" y="43.8" font-size="10.1" text-anchor="start" font-weight="normal" fill="#111" >Single</text>
<path d="M212,52.3 H234.5" stroke="#e8262a" stroke-width="1.2"/>
<text x="237.6" y="56.3" font-size="10.1" text-anchor="start" font-weight="normal" fill="#111" >Scan #1</text>
<path d="M212,64.9 H234.5" stroke="#2ecc2e" stroke-width="1.2"/>
<text x="237.6" y="68.9" font-size="10.1" text-anchor="start" font-weight="normal" fill="#111" >Scan #2</text>
<path d="M212,77.5 H234.5" stroke="#2233dd" stroke-width="1.2"/>
<text x="237.6" y="81.5" font-size="10.1" text-anchor="start" font-weight="normal" fill="#111" >Scan #3</text>
<path d="M212,90.0 H234.5" stroke="#9c9450" stroke-width="1.2"/>
<text x="237.6" y="94.0" font-size="10.1" text-anchor="start" font-weight="normal" fill="#111" >Average</text>
<path d="M212,102.5 H234.5" stroke="#33e0e8" stroke-width="1.2"/>
<text x="237.6" y="106.5" font-size="10.1" text-anchor="start" font-weight="normal" fill="#111" >PA</text>
<text transform="translate(69.43 15.69) scale(0.928 1)" font-size="20.55" font-weight="bold" fill="#000">a</text>
<g stroke="#8a8a8a" stroke-width="1.2" fill="none">
<path d="M35.5,151.5 V258.5 H227"/>
<path d="M32.5,254.6 H35.5"/>
<path d="M32.5,238.8 H35.5"/>
<path d="M32.5,223.0 H35.5"/>
<path d="M32.5,207.2 H35.5"/>
<path d="M32.5,191.4 H35.5"/>
<path d="M32.5,175.6 H35.5"/>
<path d="M32.5,159.8 H35.5"/>
<path d="M33.5,246.7 H35.5"/>
<path d="M33.5,230.9 H35.5"/>
<path d="M33.5,215.1 H35.5"/>
<path d="M33.5,199.3 H35.5"/>
<path d="M33.5,183.5 H35.5"/>
<path d="M33.5,167.7 H35.5"/>
<path d="M35.2,258.5 V261.5"/>
<path d="M86.9,258.5 V261.5"/>
<path d="M138.6,258.5 V261.5"/>
<path d="M190.3,258.5 V261.5"/>
<path d="M61.1,258.5 V260.5"/>
<path d="M112.8,258.5 V260.5"/>
<path d="M164.4,258.5 V260.5"/>
<path d="M216.2,258.5 V260.5"/>
</g>
<text x="31.2" y="257.9" font-size="10.3" text-anchor="end" font-weight="normal" fill="#111" >-40</text>
<text x="31.2" y="242.1" font-size="10.3" text-anchor="end" font-weight="normal" fill="#111" >-20</text>
<text x="31.2" y="226.3" font-size="10.3" text-anchor="end" font-weight="normal" fill="#111" >0</text>
<text x="31.2" y="210.5" font-size="10.3" text-anchor="end" font-weight="normal" fill="#111" >20</text>
<text x="31.2" y="194.7" font-size="10.3" text-anchor="end" font-weight="normal" fill="#111" >40</text>
<text x="31.2" y="178.9" font-size="10.3" text-anchor="end" font-weight="normal" fill="#111" >60</text>
<text x="31.2" y="163.1" font-size="10.3" text-anchor="end" font-weight="normal" fill="#111" >80</text>
<text x="35.2" y="271" font-size="10.3" text-anchor="middle" font-weight="normal" fill="#111" >0</text>
<text x="86.9" y="271" font-size="10.3" text-anchor="middle" font-weight="normal" fill="#111" >1000</text>
<text x="138.6" y="271" font-size="10.3" text-anchor="middle" font-weight="normal" fill="#111" >2000</text>
<text x="190.3" y="271" font-size="10.3" text-anchor="middle" font-weight="normal" fill="#111" >3000</text>
<text x="116.5" y="278.5" font-size="10" fill="#111">Wavenumber / <tspan font-style="italic">cm</tspan><tspan font-size="6.5" dy="-4" font-style="italic">-1</tspan></text>
<text transform="translate(12.4,205.3) rotate(-90)" font-size="10.35" text-anchor="middle" fill="#111">Intensity / <tspan font-style="italic">Score/cts</tspan></text>
<g fill="none" stroke-width="1.1" stroke-linejoin="round" clip-path="url(#clipE)">
<path d="M45.5,254.0 L45.7,254.0 L46.0,254.0 L46.2,254.0 L46.4,254.0 L46.6,254.0 L46.8,254.0 L47.0,254.0 L47.2,254.0 L47.4,254.0 L47.6,254.0 L47.8,254.0 L48.0,254.0 L48.2,254.0 L48.4,254.0 L48.6,254.0 L48.8,254.0 L49.1,254.0 L49.3,254.0 L49.5,254.0 L49.7,254.0 L49.9,254.0 L50.1,254.0 L50.3,254.0 L50.5,254.0 L50.7,254.0 L50.9,254.0 L51.1,254.0 L51.3,254.0 L51.5,254.0 L51.7,254.0 L52.0,254.0 L52.2,254.0 L52.4,254.0 L52.6,254.0 L52.8,254.0 L53.0,254.0 L53.2,254.0 L53.4,254.0 L53.6,254.0 L53.8,254.0 L54.0,254.0 L54.2,254.0 L54.4,254.0 L54.6,254.0 L54.8,254.0 L55.1,254.0 L55.3,254.0 L55.5,254.0 L55.7,254.0 L55.9,254.0 L56.1,254.0 L56.3,254.0 L56.5,254.0 L56.7,254.0 L56.9,254.0 L57.1,254.0 L57.3,254.0 L57.5,254.0 L57.7,254.0 L57.9,254.0 L58.2,254.0 L58.4,254.0 L58.6,254.0 L58.8,254.0 L59.0,254.0 L59.2,254.0 L59.4,254.0 L59.6,254.0 L59.8,254.0 L60.0,254.0 L60.2,254.0 L60.4,254.0 L60.6,254.0 L60.8,254.0 L61.1,254.0 L61.3,254.0 L61.5,254.0 L61.7,254.0 L61.9,254.0 L62.1,254.0 L62.3,254.0 L62.5,254.0 L62.7,254.0 L62.9,254.0 L63.1,254.0 L63.3,254.0 L63.5,254.0 L63.7,254.0 L63.9,254.0 L64.2,254.0 L64.4,254.0 L64.6,254.0 L64.8,254.0 L65.0,254.0 L65.2,254.0 L65.4,254.0 L65.6,254.0 L65.8,254.0 L66.0,254.0 L66.2,254.0 L66.4,254.0 L66.6,254.0 L66.8,254.0 L67.0,254.0 L67.3,254.0 L67.5,254.0 L67.7,254.0 L67.9,254.0 L68.1,254.0 L68.3,254.0 L68.5,254.0 L68.7,254.0 L68.9,254.0 L69.1,254.0 L69.3,254.0 L69.5,254.0 L69.7,254.0 L69.9,254.0 L70.1,254.0 L70.4,254.0 L70.6,254.0 L70.8,254.0 L71.0,254.0 L71.2,254.0 L71.4,254.0 L71.6,254.0 L71.8,254.0 L72.0,254.0 L72.2,254.0 L72.4,254.0 L72.6,254.0 L72.8,254.0 L73.0,254.0 L73.3,254.0 L73.5,254.0 L73.7,254.0 L73.9,254.0 L74.1,254.0 L74.3,254.0 L74.5,254.0 L74.7,254.0 L74.9,254.0 L75.1,254.0 L75.3,254.0 L75.5,254.0 L75.7,254.0 L75.9,254.0 L76.1,254.0 L76.4,254.0 L76.6,254.0 L76.8,254.0 L77.0,254.0 L77.2,254.0 L77.4,254.0 L77.6,254.0 L77.8,254.0 L78.0,254.0 L78.2,254.0 L78.4,254.0 L78.6,254.0 L78.8,254.0 L79.0,254.0 L79.2,254.0 L79.5,254.0 L79.7,254.0 L79.9,254.0 L80.1,254.0 L80.3,254.0 L80.5,254.0 L80.7,254.0 L80.9,254.0 L81.1,254.0 L81.3,254.0 L81.5,254.0 L81.7,254.0 L81.9,254.0 L82.1,254.0 L82.4,254.0 L82.6,254.0 L82.8,254.0 L83.0,254.0 L83.2,254.0 L83.4,254.0 L83.6,254.0 L83.8,254.0 L84.0,254.0 L84.2,254.0 L84.4,254.0 L84.6,254.0 L84.8,254.0 L85.0,254.0 L85.2,254.0 L85.5,254.0 L85.7,254.0 L85.9,254.0 L86.1,254.0 L86.3,254.0 L86.5,254.0 L86.7,254.0 L86.9,254.0 L87.1,254.0 L87.3,254.0 L87.5,254.0 L87.7,254.0 L87.9,254.0 L88.1,254.0 L88.3,254.0 L88.6,254.0 L88.8,254.0 L89.0,254.0 L89.2,254.0 L89.4,254.0 L89.6,254.0 L89.8,254.0 L90.0,254.0 L90.2,254.0 L90.4,254.0 L90.6,254.0 L90.8,254.0 L91.0,254.0 L91.2,254.0 L91.4,254.0 L91.7,254.0 L91.9,254.0 L92.1,254.0 L92.3,254.0 L92.5,254.0 L92.7,254.0 L92.9,254.0 L93.1,254.0 L93.3,254.0 L93.5,254.0 L93.7,254.0 L93.9,254.0 L94.1,254.0 L94.3,254.0 L94.6,254.0 L94.8,254.0 L95.0,254.0 L95.2,254.0 L95.4,254.0 L95.6,254.0 L95.8,254.0 L96.0,254.0 L96.2,254.0 L96.4,254.0 L96.6,254.0 L96.8,254.0 L97.0,254.0 L97.2,254.0 L97.4,254.0 L97.7,254.0 L97.9,253.9 L98.1,253.9 L98.3,253.9 L98.5,253.9 L98.7,253.9 L98.9,253.9 L99.1,253.9 L99.3,253.9 L99.5,253.9 L99.7,253.9 L99.9,253.8 L100.1,253.8 L100.3,253.8 L100.5,253.7 L100.8,253.6 L101.0,253.5 L101.2,253.3 L101.4,253.0 L101.6,252.5 L101.8,251.5 L102.0,249.0 L102.2,241.5 L102.4,229.0 L102.6,241.5 L102.8,249.0 L103.0,251.5 L103.2,252.5 L103.4,253.0 L103.7,253.3 L103.9,253.5 L104.1,253.6 L104.3,253.7 L104.5,253.8 L104.7,253.8 L104.9,253.8 L105.1,253.9 L105.3,253.9 L105.5,253.9 L105.7,253.9 L105.9,253.9 L106.1,253.9 L106.3,253.9 L106.5,253.9 L106.8,253.9 L107.0,253.9 L107.2,254.0 L107.4,254.0 L107.6,254.0 L107.8,254.0 L108.0,254.0 L108.2,254.0 L108.4,254.0 L108.6,254.0 L108.8,254.0 L109.0,254.0 L109.2,254.0 L109.4,254.0 L109.6,254.0 L109.9,254.0 L110.1,254.0 L110.3,254.0 L110.5,254.0 L110.7,254.0 L110.9,254.0 L111.1,254.0 L111.3,254.0 L111.5,254.0 L111.7,254.0 L111.9,254.0 L112.1,254.0 L112.3,254.0 L112.5,254.0 L112.8,254.0 L113.0,254.0 L113.2,254.0 L113.4,254.0 L113.6,254.0 L113.8,254.0 L114.0,254.0 L114.2,254.0 L114.4,254.0 L114.6,254.0 L114.8,254.0 L115.0,254.0 L115.2,254.0 L115.4,254.0 L115.6,254.0 L115.9,254.0 L116.1,254.0 L116.3,254.0 L116.5,254.0 L116.7,254.0 L116.9,254.0 L117.1,254.0 L117.3,254.0 L117.5,254.0 L117.7,254.0 L117.9,254.0 L118.1,254.0 L118.3,254.0 L118.5,254.0 L118.7,254.0 L119.0,254.0 L119.2,254.0 L119.4,254.0 L119.6,254.0 L119.8,254.0 L120.0,254.0 L120.2,254.0 L120.4,254.0 L120.6,254.0 L120.8,254.0 L121.0,254.0 L121.2,254.0 L121.4,254.0 L121.6,254.0 L121.8,254.0 L122.1,254.0 L122.3,254.0 L122.5,254.0 L122.7,254.0 L122.9,254.0 L123.1,254.0 L123.3,254.0 L123.5,254.0 L123.7,254.0 L123.9,254.0 L124.1,254.0 L124.3,254.0 L124.5,254.0 L124.7,254.0 L125.0,254.0 L125.2,254.0 L125.4,254.0 L125.6,254.0 L125.8,254.0 L126.0,254.0 L126.2,254.0 L126.4,254.0 L126.6,254.0 L126.8,254.0 L127.0,254.0 L127.2,254.0 L127.4,254.0 L127.6,254.0 L127.8,254.0 L128.1,254.0 L128.3,254.0 L128.5,254.0 L128.7,254.0 L128.9,254.0 L129.1,254.0 L129.3,254.0 L129.5,254.0 L129.7,254.0 L129.9,254.0 L130.1,254.0 L130.3,254.0 L130.5,254.0 L130.7,254.0 L130.9,254.0 L131.2,254.0 L131.4,254.0 L131.6,254.0 L131.8,254.0 L132.0,254.0 L132.2,254.0 L132.4,254.0 L132.6,254.0 L132.8,254.0 L133.0,254.0 L133.2,254.0 L133.4,254.0 L133.6,254.0 L133.8,254.0 L134.1,254.0 L134.3,254.0 L134.5,254.0 L134.7,254.0 L134.9,254.0 L135.1,254.0 L135.3,254.0 L135.5,254.0 L135.7,254.0 L135.9,254.0 L136.1,254.0 L136.3,254.0 L136.5,254.0 L136.7,254.0 L136.9,254.0 L137.2,254.0 L137.4,254.0 L137.6,254.0 L137.8,254.0 L138.0,254.0 L138.2,254.0 L138.4,254.0 L138.6,254.0 L138.8,254.0 L139.0,254.0 L139.2,254.0 L139.4,254.0 L139.6,254.0 L139.8,254.0 L140.0,254.0 L140.3,254.0 L140.5,254.0 L140.7,254.0 L140.9,254.0 L141.1,254.0 L141.3,254.0 L141.5,254.0 L141.7,254.0 L141.9,254.0 L142.1,254.0 L142.3,254.0 L142.5,254.0 L142.7,254.0 L142.9,254.0 L143.1,254.0 L143.4,254.0 L143.6,254.0 L143.8,254.0 L144.0,254.0 L144.2,254.0 L144.4,254.0 L144.6,254.0 L144.8,254.0 L145.0,254.0 L145.2,254.0 L145.4,254.0 L145.6,254.0 L145.8,254.0 L146.0,254.0 L146.3,254.0 L146.5,254.0 L146.7,254.0 L146.9,254.0 L147.1,254.0 L147.3,254.0 L147.5,254.0 L147.7,254.0 L147.9,254.0 L148.1,254.0 L148.3,254.0 L148.5,254.0 L148.7,254.0 L148.9,254.0 L149.1,254.0 L149.4,254.0 L149.6,254.0 L149.8,254.0 L150.0,254.0 L150.2,254.0 L150.4,254.0 L150.6,254.0 L150.8,254.0 L151.0,254.0 L151.2,254.0 L151.4,254.0 L151.6,254.0 L151.8,254.0 L152.0,254.0 L152.2,254.0 L152.5,254.0 L152.7,254.0 L152.9,254.0 L153.1,254.0 L153.3,254.0 L153.5,254.0 L153.7,254.0 L153.9,254.0 L154.1,254.0 L154.3,254.0 L154.5,254.0 L154.7,254.0 L154.9,254.0 L155.1,254.0 L155.4,254.0 L155.6,254.0 L155.8,254.0 L156.0,254.0 L156.2,254.0 L156.4,254.0 L156.6,254.0 L156.8,254.0 L157.0,254.0 L157.2,254.0 L157.4,254.0 L157.6,254.0 L157.8,254.0 L158.0,254.0 L158.2,254.0 L158.5,254.0 L158.7,254.0 L158.9,254.0 L159.1,254.0 L159.3,254.0 L159.5,254.0 L159.7,254.0 L159.9,254.0 L160.1,254.0 L160.3,254.0 L160.5,254.0 L160.7,254.0 L160.9,254.0 L161.1,254.0 L161.3,254.0 L161.6,254.0 L161.8,254.0 L162.0,254.0 L162.2,254.0 L162.4,254.0 L162.6,254.0 L162.8,254.0 L163.0,254.0 L163.2,254.0 L163.4,254.0 L163.6,254.0 L163.8,254.0 L164.0,254.0 L164.2,254.0 L164.4,254.0 L164.7,254.0 L164.9,254.0 L165.1,254.0 L165.3,254.0 L165.5,254.0 L165.7,254.0 L165.9,254.0 L166.1,254.0 L166.3,254.0 L166.5,254.0 L166.7,254.0 L166.9,254.0 L167.1,254.0 L167.3,254.0 L167.6,254.0 L167.8,254.0 L168.0,254.0 L168.2,254.0 L168.4,254.0 L168.6,254.0 L168.8,254.0 L169.0,254.0 L169.2,254.0 L169.4,254.0 L169.6,254.0 L169.8,254.0 L170.0,254.0 L170.2,254.0 L170.4,254.0 L170.7,254.0 L170.9,254.0 L171.1,254.0 L171.3,254.0 L171.5,254.0 L171.7,254.0 L171.9,254.0 L172.1,254.0 L172.3,254.0 L172.5,254.0 L172.7,254.0 L172.9,254.0 L173.1,254.0 L173.3,254.0 L173.5,254.0 L173.8,254.0 L174.0,254.0 L174.2,254.0 L174.4,254.0 L174.6,254.0 L174.8,254.0 L175.0,254.0 L175.2,254.0 L175.4,254.0 L175.6,254.0 L175.8,254.0 L176.0,254.0 L176.2,254.0 L176.4,254.0 L176.7,254.0 L176.9,254.0 L177.1,254.0 L177.3,254.0 L177.5,254.0 L177.7,254.0 L177.9,254.0 L178.1,254.0 L178.3,254.0 L178.5,254.0 L178.7,254.0 L178.9,254.0 L179.1,254.0 L179.3,254.0 L179.5,254.0 L179.8,254.0 L180.0,254.0 L180.2,254.0 L180.4,254.0 L180.6,254.0 L180.8,254.0 L181.0,254.0 L181.2,254.0 L181.4,254.0 L181.6,254.0 L181.8,254.0 L182.0,254.0 L182.2,254.0 L182.4,254.0 L182.6,254.0 L182.9,254.0 L183.1,254.0 L183.3,254.0 L183.5,254.0 L183.7,254.0 L183.9,254.0 L184.1,254.0 L184.3,254.0 L184.5,254.0 L184.7,254.0 L184.9,254.0 L185.1,254.0 L185.3,254.0 L185.5,254.0 L185.8,254.0 L186.0,254.0 L186.2,254.0 L186.4,254.0 L186.6,254.0 L186.8,254.0 L187.0,254.0 L187.2,254.0 L187.4,254.0 L187.6,254.0 L187.8,254.0 L188.0,254.0 L188.2,254.0 L188.4,254.0 L188.6,254.0 L188.9,254.0 L189.1,254.0 L189.3,254.0 L189.5,254.0 L189.7,254.0 L189.9,254.0 L190.1,254.0 L190.3,254.0 L190.5,254.0 L190.7,254.0 L190.9,254.0 L191.1,254.0 L191.3,254.0 L191.5,254.0 L191.7,254.0 L192.0,254.0 L192.2,254.0 L192.4,254.0 L192.6,254.0 L192.8,254.0 L193.0,254.0 L193.2,254.0 L193.4,254.0 L193.6,254.0 L193.8,254.0 L194.0,254.0 L194.2,254.0 L194.4,254.0 L194.6,254.0 L194.8,254.0 L195.1,254.0 L195.3,254.0 L195.5,254.0 L195.7,254.0 L195.9,254.0 L196.1,254.0 L196.3,254.0 L196.5,254.0 L196.7,254.0 L196.9,254.0 L197.1,254.0 L197.3,254.0 L197.5,254.0 L197.7,254.0 L198.0,254.0 L198.2,254.0 L198.4,254.0 L198.6,254.0 L198.8,254.0 L199.0,254.0 L199.2,254.0 L199.4,254.0 L199.6,254.0 L199.8,254.0 L200.0,254.0 L200.2,254.0 L200.4,254.0 L200.6,254.0 L200.8,254.0 L201.1,254.0 L201.3,254.0 L201.5,254.0 L201.7,254.0 L201.9,254.0 L202.1,254.0 L202.3,254.0 L202.5,254.0 L202.7,254.0 L202.9,254.0 L203.1,254.0 L203.3,254.0 L203.5,254.0 L203.7,254.0 L203.9,254.0 L204.2,254.0 L204.4,254.0 L204.6,254.0 L204.8,254.0 L205.0,254.0 L205.2,254.0 L205.4,254.0 L205.6,254.0 L205.8,254.0 L206.0,254.0 L206.2,254.0 L206.4,254.0 L206.6,254.0 L206.8,254.0 L207.1,254.0 L207.3,254.0 L207.5,254.0 L207.7,254.0 L207.9,254.0 L208.1,254.0 L208.3,254.0 L208.5,254.0 L208.7,254.0 L208.9,254.0 L209.1,254.0 L209.3,254.0 L209.5,254.0 L209.7,254.0 L209.9,254.0 L210.2,254.0 L210.4,254.0 L210.6,254.0 L210.8,254.0 L211.0,254.0 L211.2,254.0 L211.4,254.0 L211.6,254.0 L211.8,254.0 L212.0,254.0 L212.2,254.0 L212.4,254.0 L212.6,254.0 L212.8,254.0 L213.0,254.0 L213.3,254.0 L213.5,254.0 L213.7,254.0 L213.9,254.0 L214.1,254.0 L214.3,254.0 L214.5,254.0 L214.7,254.0 L214.9,254.0 L215.1,254.0 L215.3,254.0 L215.5,254.0 L215.7,254.0 L215.9,254.0 L216.2,254.0 L216.4,254.0 L216.6,254.0 L216.8,254.0 L217.0,254.0 L217.2,254.0 L217.4,254.0 L217.6,254.0 L217.8,254.0 L218.0,254.0 L218.2,254.0 L218.4,254.0 L218.6,254.0 L218.8,254.0 L219.0,254.0 L219.3,254.0 L219.5,254.0 L219.7,254.0 L219.9,254.0 L220.1,254.0 L220.3,254.0 L220.5,254.0 L220.7,254.0 L220.9,254.0 L221.1,254.0 L221.3,254.0 L221.5,254.0 L221.7,254.0 L221.9,254.0 L222.1,254.0 L222.4,254.0 L222.6,254.0 L222.8,254.0 L223.0,254.0 L223.2,254.0 L223.4,254.0 L223.6,254.0 L223.8,254.0" stroke="#ee33ee"/>
<path d="M45.5,246.5 L45.7,246.5 L46.0,246.5 L46.2,246.5 L46.4,246.5 L46.6,246.5 L46.8,246.5 L47.0,246.5 L47.2,246.5 L47.4,246.5 L47.6,246.5 L47.8,246.5 L48.0,246.5 L48.2,246.5 L48.4,246.5 L48.6,246.5 L48.8,246.5 L49.1,246.5 L49.3,246.5 L49.5,246.5 L49.7,246.5 L49.9,246.5 L50.1,246.5 L50.3,246.5 L50.5,246.5 L50.7,246.5 L50.9,246.5 L51.1,246.5 L51.3,246.5 L51.5,246.5 L51.7,246.5 L52.0,246.5 L52.2,246.5 L52.4,246.5 L52.6,246.5 L52.8,246.5 L53.0,246.5 L53.2,246.5 L53.4,246.5 L53.6,246.5 L53.8,246.5 L54.0,246.5 L54.2,246.5 L54.4,246.5 L54.6,246.5 L54.8,246.5 L55.1,246.5 L55.3,246.5 L55.5,246.5 L55.7,246.5 L55.9,246.5 L56.1,246.5 L56.3,246.5 L56.5,246.5 L56.7,246.5 L56.9,246.5 L57.1,246.5 L57.3,246.5 L57.5,246.5 L57.7,246.5 L57.9,246.5 L58.2,246.5 L58.4,246.5 L58.6,246.5 L58.8,246.5 L59.0,246.5 L59.2,246.5 L59.4,246.5 L59.6,246.5 L59.8,246.5 L60.0,246.5 L60.2,246.5 L60.4,246.5 L60.6,246.5 L60.8,246.5 L61.1,246.5 L61.3,246.5 L61.5,246.5 L61.7,246.5 L61.9,246.5 L62.1,246.5 L62.3,246.5 L62.5,246.5 L62.7,246.5 L62.9,246.5 L63.1,246.5 L63.3,246.5 L63.5,246.5 L63.7,246.5 L63.9,246.5 L64.2,246.5 L64.4,246.5 L64.6,246.5 L64.8,246.5 L65.0,246.5 L65.2,246.5 L65.4,246.5 L65.6,246.5 L65.8,246.5 L66.0,246.5 L66.2,246.5 L66.4,246.5 L66.6,246.5 L66.8,246.5 L67.0,246.5 L67.3,246.5 L67.5,246.5 L67.7,246.5 L67.9,246.5 L68.1,246.5 L68.3,246.5 L68.5,246.5 L68.7,246.5 L68.9,246.5 L69.1,246.5 L69.3,246.5 L69.5,246.5 L69.7,246.5 L69.9,246.5 L70.1,246.5 L70.4,246.5 L70.6,246.5 L70.8,246.5 L71.0,246.5 L71.2,246.5 L71.4,246.5 L71.6,246.5 L71.8,246.5 L72.0,246.5 L72.2,246.5 L72.4,246.5 L72.6,246.5 L72.8,246.5 L73.0,246.5 L73.3,246.5 L73.5,246.5 L73.7,246.5 L73.9,246.5 L74.1,246.5 L74.3,246.5 L74.5,246.5 L74.7,246.5 L74.9,246.5 L75.1,246.5 L75.3,246.5 L75.5,246.5 L75.7,246.5 L75.9,246.5 L76.1,246.5 L76.4,246.5 L76.6,246.5 L76.8,246.5 L77.0,246.5 L77.2,246.5 L77.4,246.5 L77.6,246.5 L77.8,246.5 L78.0,246.5 L78.2,246.5 L78.4,246.5 L78.6,246.5 L78.8,246.5 L79.0,246.5 L79.2,246.5 L79.5,246.5 L79.7,246.5 L79.9,246.5 L80.1,246.5 L80.3,246.5 L80.5,246.5 L80.7,246.5 L80.9,246.5 L81.1,246.5 L81.3,246.5 L81.5,246.5 L81.7,246.5 L81.9,246.5 L82.1,246.5 L82.4,246.5 L82.6,246.5 L82.8,246.5 L83.0,246.5 L83.2,246.5 L83.4,246.5 L83.6,246.5 L83.8,246.5 L84.0,246.5 L84.2,246.5 L84.4,246.5 L84.6,246.5 L84.8,246.5 L85.0,246.5 L85.2,246.5 L85.5,246.5 L85.7,246.5 L85.9,246.5 L86.1,246.5 L86.3,246.5 L86.5,246.5 L86.7,246.5 L86.9,246.5 L87.1,246.5 L87.3,246.5 L87.5,246.5 L87.7,246.5 L87.9,246.5 L88.1,246.5 L88.3,246.5 L88.6,246.5 L88.8,246.5 L89.0,246.5 L89.2,246.5 L89.4,246.5 L89.6,246.5 L89.8,246.5 L90.0,246.5 L90.2,246.5 L90.4,246.5 L90.6,246.5 L90.8,246.5 L91.0,246.5 L91.2,246.5 L91.4,246.5 L91.7,246.5 L91.9,246.5 L92.1,246.5 L92.3,246.5 L92.5,246.5 L92.7,246.5 L92.9,246.5 L93.1,246.5 L93.3,246.5 L93.5,246.5 L93.7,246.5 L93.9,246.5 L94.1,246.5 L94.3,246.5 L94.6,246.5 L94.8,246.5 L95.0,246.5 L95.2,246.5 L95.4,246.5 L95.6,246.5 L95.8,246.5 L96.0,246.5 L96.2,246.5 L96.4,246.5 L96.6,246.5 L96.8,246.5 L97.0,246.5 L97.2,246.5 L97.4,246.5 L97.7,246.5 L97.9,246.5 L98.1,246.5 L98.3,246.5 L98.5,246.5 L98.7,246.5 L98.9,246.5 L99.1,246.5 L99.3,246.5 L99.5,246.5 L99.7,246.5 L99.9,246.5 L100.1,246.5 L100.3,246.5 L100.5,246.5 L100.8,246.5 L101.0,246.5 L101.2,246.5 L101.4,246.5 L101.6,246.5 L101.8,246.5 L102.0,246.5 L102.2,246.5 L102.4,246.5 L102.6,246.5 L102.8,246.5 L103.0,246.5 L103.2,246.5 L103.4,246.5 L103.7,246.5 L103.9,246.5 L104.1,246.5 L104.3,246.5 L104.5,246.5 L104.7,246.5 L104.9,246.5 L105.1,246.5 L105.3,246.5 L105.5,246.5 L105.7,246.5 L105.9,246.5 L106.1,246.5 L106.3,246.5 L106.5,246.5 L106.8,246.5 L107.0,246.5 L107.2,246.5 L107.4,246.5 L107.6,246.5 L107.8,246.5 L108.0,246.5 L108.2,246.5 L108.4,246.5 L108.6,246.5 L108.8,246.5 L109.0,246.5 L109.2,246.5 L109.4,246.5 L109.6,246.5 L109.9,246.5 L110.1,246.5 L110.3,246.5 L110.5,246.5 L110.7,246.5 L110.9,246.5 L111.1,246.5 L111.3,246.5 L111.5,246.5 L111.7,246.5 L111.9,246.5 L112.1,246.5 L112.3,246.5 L112.5,246.5 L112.8,246.5 L113.0,246.5 L113.2,246.5 L113.4,246.5 L113.6,246.5 L113.8,246.5 L114.0,246.5 L114.2,246.5 L114.4,246.5 L114.6,246.5 L114.8,246.5 L115.0,246.5 L115.2,246.5 L115.4,246.5 L115.6,246.5 L115.9,246.5 L116.1,246.5 L116.3,246.5 L116.5,246.5 L116.7,246.5 L116.9,246.5 L117.1,246.5 L117.3,246.5 L117.5,246.5 L117.7,246.5 L117.9,246.5 L118.1,246.5 L118.3,246.5 L118.5,246.5 L118.7,246.5 L119.0,246.5 L119.2,246.5 L119.4,246.5 L119.6,246.5 L119.8,246.5 L120.0,246.5 L120.2,246.5 L120.4,246.5 L120.6,246.5 L120.8,246.5 L121.0,246.5 L121.2,246.5 L121.4,246.5 L121.6,246.5 L121.8,246.5 L122.1,246.5 L122.3,246.5 L122.5,246.5 L122.7,246.5 L122.9,246.5 L123.1,246.5 L123.3,246.5 L123.5,246.5 L123.7,246.5 L123.9,246.5 L124.1,246.5 L124.3,246.5 L124.5,246.5 L124.7,246.5 L125.0,246.5 L125.2,246.5 L125.4,246.5 L125.6,246.5 L125.8,246.5 L126.0,246.5 L126.2,246.5 L126.4,246.5 L126.6,246.5 L126.8,246.5 L127.0,246.5 L127.2,246.5 L127.4,246.5 L127.6,246.5 L127.8,246.5 L128.1,246.5 L128.3,246.5 L128.5,246.5 L128.7,246.5 L128.9,246.5 L129.1,246.5 L129.3,246.5 L129.5,246.5 L129.7,246.5 L129.9,246.5 L130.1,246.5 L130.3,246.5 L130.5,246.5 L130.7,246.5 L130.9,246.5 L131.2,246.5 L131.4,246.5 L131.6,246.5 L131.8,246.5 L132.0,246.5 L132.2,246.5 L132.4,246.5 L132.6,246.5 L132.8,246.5 L133.0,246.5 L133.2,246.5 L133.4,246.5 L133.6,246.5 L133.8,246.5 L134.1,246.5 L134.3,246.5 L134.5,246.5 L134.7,246.5 L134.9,246.5 L135.1,246.5 L135.3,246.5 L135.5,246.5 L135.7,246.5 L135.9,246.5 L136.1,246.5 L136.3,246.5 L136.5,246.5 L136.7,246.5 L136.9,246.5 L137.2,246.5 L137.4,246.5 L137.6,246.5 L137.8,246.5 L138.0,246.5 L138.2,246.5 L138.4,246.5 L138.6,246.5 L138.8,246.5 L139.0,246.5 L139.2,246.5 L139.4,246.5 L139.6,246.5 L139.8,246.5 L140.0,246.5 L140.3,246.5 L140.5,246.5 L140.7,246.5 L140.9,246.5 L141.1,246.5 L141.3,246.5 L141.5,246.5 L141.7,246.5 L141.9,246.5 L142.1,246.5 L142.3,246.5 L142.5,246.5 L142.7,246.5 L142.9,246.5 L143.1,246.5 L143.4,246.5 L143.6,246.5 L143.8,246.5 L144.0,246.5 L144.2,246.5 L144.4,246.5 L144.6,246.5 L144.8,246.5 L145.0,246.5 L145.2,246.5 L145.4,246.5 L145.6,246.5 L145.8,246.5 L146.0,246.5 L146.3,246.5 L146.5,246.5 L146.7,246.5 L146.9,246.5 L147.1,246.5 L147.3,246.5 L147.5,246.5 L147.7,246.5 L147.9,246.5 L148.1,246.5 L148.3,246.5 L148.5,246.5 L148.7,246.5 L148.9,246.5 L149.1,246.5 L149.4,246.5 L149.6,246.5 L149.8,246.5 L150.0,246.5 L150.2,246.5 L150.4,246.5 L150.6,246.5 L150.8,246.5 L151.0,246.5 L151.2,246.5 L151.4,246.5 L151.6,246.5 L151.8,246.5 L152.0,246.5 L152.2,246.5 L152.5,246.5 L152.7,246.5 L152.9,246.5 L153.1,246.5 L153.3,246.5 L153.5,246.5 L153.7,246.5 L153.9,246.5 L154.1,246.5 L154.3,246.5 L154.5,246.5 L154.7,246.5 L154.9,246.5 L155.1,246.5 L155.4,246.5 L155.6,246.5 L155.8,246.5 L156.0,246.5 L156.2,246.5 L156.4,246.5 L156.6,246.5 L156.8,246.5 L157.0,246.5 L157.2,246.5 L157.4,246.5 L157.6,246.5 L157.8,246.5 L158.0,246.5 L158.2,246.5 L158.5,246.5 L158.7,246.5 L158.9,246.5 L159.1,246.5 L159.3,246.5 L159.5,246.5 L159.7,246.5 L159.9,246.5 L160.1,246.5 L160.3,246.5 L160.5,246.5 L160.7,246.5 L160.9,246.5 L161.1,246.5 L161.3,246.5 L161.6,246.5 L161.8,246.5 L162.0,246.5 L162.2,246.5 L162.4,246.5 L162.6,246.5 L162.8,246.5 L163.0,246.5 L163.2,246.5 L163.4,246.5 L163.6,246.5 L163.8,246.5 L164.0,246.5 L164.2,246.5 L164.4,246.5 L164.7,246.5 L164.9,246.5 L165.1,246.5 L165.3,246.5 L165.5,246.5 L165.7,246.5 L165.9,246.5 L166.1,246.5 L166.3,246.5 L166.5,246.5 L166.7,246.5 L166.9,246.5 L167.1,246.5 L167.3,246.5 L167.6,246.5 L167.8,246.5 L168.0,246.5 L168.2,246.5 L168.4,246.5 L168.6,246.5 L168.8,246.5 L169.0,246.5 L169.2,246.5 L169.4,246.5 L169.6,246.5 L169.8,246.5 L170.0,246.5 L170.2,246.5 L170.4,246.5 L170.7,246.5 L170.9,246.5 L171.1,246.5 L171.3,246.5 L171.5,246.5 L171.7,246.5 L171.9,246.5 L172.1,246.5 L172.3,246.5 L172.5,246.5 L172.7,246.5 L172.9,246.5 L173.1,246.5 L173.3,246.5 L173.5,246.5 L173.8,246.5 L174.0,246.5 L174.2,246.5 L174.4,246.5 L174.6,246.5 L174.8,246.5 L175.0,246.5 L175.2,246.5 L175.4,246.5 L175.6,246.5 L175.8,246.5 L176.0,246.5 L176.2,246.5 L176.4,246.5 L176.7,246.5 L176.9,246.5 L177.1,246.5 L177.3,246.5 L177.5,246.5 L177.7,246.5 L177.9,246.5 L178.1,246.5 L178.3,246.5 L178.5,246.5 L178.7,246.5 L178.9,246.5 L179.1,246.5 L179.3,246.5 L179.5,246.5 L179.8,246.5 L180.0,246.5 L180.2,246.5 L180.4,246.5 L180.6,246.5 L180.8,246.5 L181.0,246.5 L181.2,246.5 L181.4,246.5 L181.6,246.5 L181.8,246.5 L182.0,246.5 L182.2,246.5 L182.4,246.5 L182.6,246.5 L182.9,246.5 L183.1,246.5 L183.3,246.5 L183.5,246.5 L183.7,246.5 L183.9,246.5 L184.1,246.5 L184.3,246.5 L184.5,246.5 L184.7,246.5 L184.9,246.4 L185.1,246.4 L185.3,246.4 L185.5,246.4 L185.8,246.4 L186.0,246.4 L186.2,246.4 L186.4,246.4 L186.6,246.4 L186.8,246.4 L187.0,246.3 L187.2,246.3 L187.4,246.3 L187.6,246.2 L187.8,246.2 L188.0,246.1 L188.2,246.0 L188.4,245.8 L188.6,245.6 L188.9,245.1 L189.1,244.3 L189.3,242.5 L189.5,237.6 L189.7,223.3 L189.9,223.3 L190.1,237.6 L190.3,242.5 L190.5,244.3 L190.7,245.1 L190.9,245.6 L191.1,245.8 L191.3,246.0 L191.5,246.1 L191.7,246.2 L192.0,246.2 L192.2,246.3 L192.4,246.3 L192.6,246.3 L192.8,246.4 L193.0,246.4 L193.2,246.4 L193.4,246.4 L193.6,246.4 L193.8,246.4 L194.0,246.4 L194.2,246.4 L194.4,246.4 L194.6,246.4 L194.8,246.5 L195.1,246.5 L195.3,246.5 L195.5,246.5 L195.7,246.5 L195.9,246.5 L196.1,246.5 L196.3,246.5 L196.5,246.5 L196.7,246.5 L196.9,246.5 L197.1,246.5 L197.3,246.5 L197.5,246.5 L197.7,246.5 L198.0,246.5 L198.2,246.5 L198.4,246.5 L198.6,246.5 L198.8,246.5 L199.0,246.5 L199.2,246.5 L199.4,246.5 L199.6,246.5 L199.8,246.5 L200.0,246.5 L200.2,246.5 L200.4,246.5 L200.6,246.5 L200.8,246.5 L201.1,246.5 L201.3,246.5 L201.5,246.5 L201.7,246.5 L201.9,246.5 L202.1,246.5 L202.3,246.5 L202.5,246.5 L202.7,246.5 L202.9,246.5 L203.1,246.5 L203.3,246.5 L203.5,246.5 L203.7,246.5 L203.9,246.5 L204.2,246.5 L204.4,246.5 L204.6,246.5 L204.8,246.5 L205.0,246.5 L205.2,246.5 L205.4,246.5 L205.6,246.5 L205.8,246.5 L206.0,246.5 L206.2,246.5 L206.4,246.5 L206.6,246.5 L206.8,246.5 L207.1,246.5 L207.3,246.5 L207.5,246.5 L207.7,246.5 L207.9,246.5 L208.1,246.5 L208.3,246.5 L208.5,246.5 L208.7,246.5 L208.9,246.5 L209.1,246.5 L209.3,246.5 L209.5,246.5 L209.7,246.5 L209.9,246.5 L210.2,246.5 L210.4,246.5 L210.6,246.5 L210.8,246.5 L211.0,246.5 L211.2,246.5 L211.4,246.5 L211.6,246.5 L211.8,246.5 L212.0,246.5 L212.2,246.5 L212.4,246.5 L212.6,246.5 L212.8,246.5 L213.0,246.5 L213.3,246.5 L213.5,246.5 L213.7,246.5 L213.9,246.5 L214.1,246.5 L214.3,246.5 L214.5,246.5 L214.7,246.5 L214.9,246.5 L215.1,246.5 L215.3,246.5 L215.5,246.5 L215.7,246.5 L215.9,246.5 L216.2,246.5 L216.4,246.5 L216.6,246.5 L216.8,246.5 L217.0,246.5 L217.2,246.5 L217.4,246.5 L217.6,246.5 L217.8,246.5 L218.0,246.5 L218.2,246.5 L218.4,246.5 L218.6,246.5 L218.8,246.5 L219.0,246.5 L219.3,246.5 L219.5,246.5 L219.7,246.5 L219.9,246.5 L220.1,246.5 L220.3,246.5 L220.5,246.5 L220.7,246.5 L220.9,246.5 L221.1,246.5 L221.3,246.5 L221.5,246.5 L221.7,246.5 L221.9,246.5 L222.1,246.5 L222.4,246.5 L222.6,246.5 L222.8,246.5 L223.0,246.5 L223.2,246.5 L223.4,246.5 L223.6,246.5 L223.8,246.5" stroke="#33e0e8"/>
<path d="M45.5,237.3 L45.8,237.4 L46.1,237.2 L46.3,237.2 L46.6,237.1 L46.8,236.9 L47.1,236.9 L47.3,237.0 L47.6,236.8 L47.9,237.3 L48.1,237.0 L48.4,237.7 L48.6,237.1 L48.9,237.6 L49.2,237.1 L49.4,237.1 L49.7,237.3 L49.9,237.4 L50.2,237.9 L50.5,237.1 L50.7,237.0 L51.0,237.2 L51.2,238.0 L51.5,237.3 L51.7,238.2 L52.0,237.6 L52.3,238.4 L52.5,238.0 L52.8,238.8 L53.0,238.6 L53.3,238.9 L53.6,239.2 L53.8,240.5 L54.1,241.9 L54.3,244.2 L54.6,245.8 L54.8,246.8 L55.1,245.0 L55.4,243.2 L55.6,241.5 L55.9,239.9 L56.1,239.7 L56.4,239.3 L56.7,238.7 L56.9,238.2 L57.2,238.1 L57.4,238.2 L57.7,238.7 L57.9,238.2 L58.2,237.9 L58.5,238.2 L58.7,238.5 L59.0,238.6 L59.2,238.0 L59.5,238.4 L59.8,238.2 L60.0,238.7 L60.3,239.2 L60.5,239.4 L60.8,240.2 L61.1,242.2 L61.3,243.8 L61.6,246.6 L61.8,246.2 L62.1,244.2 L62.3,242.1 L62.6,241.2 L62.9,239.6 L63.1,239.1 L63.4,239.2 L63.6,238.8 L63.9,239.1 L64.2,238.4 L64.4,238.1 L64.7,238.7 L64.9,238.4 L65.2,238.6 L65.4,238.3 L65.7,239.1 L66.0,239.1 L66.2,238.7 L66.5,239.1 L66.7,239.2 L67.0,240.6 L67.3,240.7 L67.5,242.5 L67.8,245.1 L68.0,250.0 L68.3,255.4 L68.5,254.3 L68.8,249.1 L69.1,244.9 L69.3,242.0 L69.6,241.3 L69.8,239.9 L70.1,239.6 L70.4,239.6 L70.6,238.8 L70.9,238.3 L71.1,238.4 L71.4,238.2 L71.6,238.3 L71.9,239.3 L72.2,239.1 L72.4,238.8 L72.7,239.2 L72.9,239.4 L73.2,239.3 L73.5,239.7 L73.7,239.6 L74.0,240.7 L74.2,240.4 L74.5,240.7 L74.8,241.0 L75.0,240.7 L75.3,240.6 L75.5,240.9 L75.8,240.7 L76.0,240.5 L76.3,240.9 L76.6,240.3 L76.8,240.8 L77.1,240.4 L77.3,240.7 L77.6,240.4 L77.9,240.7 L78.1,240.6 L78.4,240.9 L78.6,240.6 L78.9,240.3 L79.1,240.9 L79.4,240.7 L79.7,241.0 L79.9,240.9 L80.2,240.3 L80.4,240.9 L80.7,240.3 L81.0,241.2 L81.2,240.9 L81.5,240.9 L81.7,240.7 L82.0,240.4 L82.2,240.7 L82.5,240.7 L82.8,240.5 L83.0,241.4 L83.3,240.6 L83.5,240.9 L83.8,240.6 L84.1,241.3 L84.3,240.5 L84.6,241.4 L84.8,240.6 L85.1,240.7 L85.3,240.9 L85.6,240.8 L85.9,240.6 L86.1,241.3 L86.4,240.6 L86.6,240.8 L86.9,240.5 L87.2,240.6 L87.4,240.9 L87.7,241.2 L87.9,240.6 L88.2,241.1 L88.5,241.0 L88.7,241.7 L89.0,241.7 L89.2,241.3 L89.5,241.5 L89.7,240.8 L90.0,241.4 L90.3,241.7 L90.5,241.7 L90.8,241.6 L91.0,241.7 L91.3,241.9 L91.6,241.6 L91.8,241.2 L92.1,241.7 L92.3,241.3 L92.6,242.0 L92.8,241.3 L93.1,242.0 L93.4,241.8 L93.6,241.8 L93.9,241.4 L94.1,241.7 L94.4,241.8 L94.7,242.3 L94.9,242.0 L95.2,242.1 L95.4,242.3 L95.7,241.8 L95.9,242.0 L96.2,242.0 L96.5,241.9 L96.7,241.8 L97.0,241.8 L97.2,241.6 L97.5,242.5 L97.8,241.8 L98.0,242.4 L98.3,242.0 L98.5,242.0 L98.8,241.7 L99.0,242.2 L99.3,241.9 L99.6,242.1 L99.8,242.5 L100.1,242.7 L100.3,241.9 L100.6,242.5 L100.9,242.8 L101.1,242.7 L101.4,242.7 L101.6,242.7 L101.9,242.5 L102.2,242.0 L102.4,242.2 L102.7,242.8 L102.9,242.3 L103.2,242.4 L103.4,242.6 L103.7,242.2 L104.0,242.0 L104.2,242.0 L104.5,242.6 L104.7,242.1 L105.0,242.4 L105.3,242.3 L105.5,241.9 L105.8,241.9 L106.0,242.0 L106.3,242.0 L106.5,242.0 L106.8,241.6 L107.1,241.8 L107.3,242.0 L107.6,241.5 L107.8,241.7 L108.1,242.0 L108.4,241.8 L108.6,241.7 L108.9,241.2 L109.1,241.7 L109.4,241.7 L109.6,241.1 L109.9,241.1 L110.2,241.8 L110.4,241.3 L110.7,241.6 L110.9,240.8 L111.2,241.6 L111.5,241.3 L111.7,240.9 L112.0,241.3 L112.2,241.1 L112.5,240.8 L112.8,241.5 L113.0,240.5 L113.3,240.8 L113.5,241.3 L113.8,241.3 L114.0,240.6 L114.3,241.3 L114.6,240.5 L114.8,240.7 L115.1,241.1 L115.3,240.4 L115.6,240.6 L115.9,240.7 L116.1,240.8 L116.4,240.6 L116.6,240.5 L116.9,240.6 L117.1,240.6 L117.4,240.8 L117.7,240.2 L117.9,240.1 L118.2,240.9 L118.4,240.7 L118.7,240.8 L119.0,240.7 L119.2,240.1 L119.5,240.1 L119.7,240.9 L120.0,240.5 L120.2,240.3 L120.5,240.7 L120.8,240.1 L121.0,240.8 L121.3,240.5 L121.5,240.1 L121.8,240.6 L122.1,240.3 L122.3,240.0 L122.6,239.9 L122.8,239.9 L123.1,240.2 L123.3,240.1 L123.6,240.6 L123.9,240.0 L124.1,240.2 L124.4,240.5 L124.6,240.4 L124.9,240.2 L125.2,240.4 L125.4,240.2 L125.7,240.3 L125.9,240.2 L126.2,239.7 L126.5,240.1 L126.7,240.2 L127.0,240.1 L127.2,239.8 L127.5,239.4 L127.7,239.9 L128.0,240.1 L128.3,240.2 L128.5,239.9 L128.8,239.8 L129.0,239.5 L129.3,239.4 L129.6,240.0 L129.8,239.2 L130.1,239.6 L130.3,239.4 L130.6,239.5 L130.8,240.1 L131.1,239.2 L131.4,239.8 L131.6,239.8 L131.9,239.1 L132.1,239.2 L132.4,239.3 L132.7,239.1 L132.9,239.3 L133.2,239.7 L133.4,239.9 L133.7,239.4 L133.9,239.3 L134.2,239.4 L134.5,239.1 L134.7,239.4 L135.0,239.1 L135.2,239.3 L135.5,239.2 L135.8,239.3 L136.0,239.3 L136.3,239.3 L136.5,239.1 L136.8,239.0 L137.0,239.0 L137.3,239.1 L137.6,238.6 L137.8,239.2 L138.1,239.2 L138.3,238.7 L138.6,239.4 L138.9,239.2 L139.1,239.3 L139.4,238.9 L139.6,239.4 L139.9,238.7 L140.2,238.9 L140.4,238.9 L140.7,238.6 L140.9,238.8 L141.2,239.2 L141.4,238.3 L141.7,239.0 L142.0,238.4 L142.2,238.7 L142.5,238.9 L142.7,238.7 L143.0,239.0 L143.3,238.9 L143.5,238.1 L143.8,238.3 L144.0,238.8 L144.3,238.7 L144.5,238.5 L144.8,238.0 L145.1,238.1 L145.3,238.3 L145.6,238.4 L145.8,238.6 L146.1,238.1 L146.4,238.5 L146.6,238.5 L146.9,238.2 L147.1,238.7 L147.4,238.0 L147.6,238.5 L147.9,238.0 L148.2,238.5 L148.4,238.1 L148.7,238.0 L148.9,238.5 L149.2,238.0 L149.5,238.4 L149.7,238.1 L150.0,237.6 L150.2,237.8 L150.5,237.7 L150.7,237.6 L151.0,237.5 L151.3,238.0 L151.5,237.9 L151.8,238.1 L152.0,237.8 L152.3,237.4 L152.6,238.2 L152.8,238.1 L153.1,238.1 L153.3,237.7 L153.6,237.5 L153.9,238.2 L154.1,237.3 L154.4,237.7 L154.6,237.3 L154.9,237.5 L155.1,238.1 L155.4,238.0 L155.7,237.6 L155.9,237.1 L156.2,237.6 L156.4,237.9 L156.7,237.9 L157.0,237.0 L157.2,237.2 L157.5,237.4 L157.7,237.0 L158.0,237.3 L158.2,237.4 L158.5,237.1 L158.8,237.6 L159.0,237.8 L159.3,237.1 L159.5,237.3 L159.8,237.5 L160.1,236.9 L160.3,237.2 L160.6,237.3 L160.8,237.5 L161.1,237.2 L161.3,237.5 L161.6,237.3 L161.9,236.7 L162.1,237.3 L162.4,237.0 L162.6,237.1 L162.9,237.0 L163.2,237.1 L163.4,236.9 L163.7,236.9 L163.9,237.3 L164.2,236.6 L164.4,236.7 L164.7,236.7 L165.0,236.3 L165.2,236.4 L165.5,236.7 L165.7,237.2 L166.0,236.8 L166.3,236.5 L166.5,236.2 L166.8,236.5 L167.0,237.1 L167.3,236.4 L167.6,237.0 L167.8,236.7 L168.1,236.2 L168.3,237.0 L168.6,236.5 L168.8,236.0 L169.1,236.9 L169.4,236.6 L169.6,236.0 L169.9,236.3 L170.1,236.3 L170.4,236.1 L170.7,236.5 L170.9,236.7 L171.2,236.5 L171.4,236.0 L171.7,236.7 L171.9,236.4 L172.2,235.9 L172.5,236.6 L172.7,236.6 L173.0,236.5 L173.2,236.6 L173.5,236.2 L173.8,235.7 L174.0,236.5 L174.3,236.2 L174.5,236.5 L174.8,236.5 L175.0,236.1 L175.3,235.5 L175.6,236.3 L175.8,235.4 L176.1,235.7 L176.3,235.7 L176.6,235.4 L176.9,235.5 L177.1,235.8 L177.4,235.2 L177.6,235.7 L177.9,235.2 L178.2,235.1 L178.4,235.8 L178.7,235.1 L178.9,234.8 L179.2,235.4 L179.4,235.2 L179.7,235.2 L180.0,235.6 L180.2,234.9 L180.5,235.1 L180.7,235.3 L181.0,234.7 L181.3,235.1 L181.5,234.8 L181.8,235.4 L182.0,234.5 L182.3,234.7 L182.5,235.4 L182.8,234.8 L183.1,235.6 L183.3,235.5 L183.6,236.1 L183.8,236.3 L184.1,236.4 L184.4,236.5 L184.6,235.4 L184.9,234.9 L185.1,234.8 L185.4,234.3 L185.6,234.4 L185.9,234.8 L186.2,233.9 L186.4,234.0 L186.7,233.5 L186.9,234.1 L187.2,233.7 L187.5,233.8 L187.7,234.1 L188.0,233.4 L188.2,233.6 L188.5,233.2 L188.7,233.8 L189.0,233.8 L189.3,233.1 L189.5,233.7 L189.8,232.8 L190.0,232.7 L190.3,233.0 L190.6,232.8 L190.8,232.7 L191.1,232.8 L191.3,232.7 L191.6,232.7 L191.9,233.1 L192.1,232.6 L192.4,232.9 L192.6,233.1 L192.9,232.8 L193.1,232.3 L193.4,232.4 L193.7,232.3 L193.9,232.4 L194.2,232.8 L194.4,232.8 L194.7,232.5 L195.0,232.1 L195.2,232.6 L195.5,232.9 L195.7,232.4 L196.0,232.5 L196.2,232.4 L196.5,232.3 L196.8,232.8 L197.0,231.9 L197.3,232.2 L197.5,232.7 L197.8,231.8 L198.1,232.6 L198.3,232.2 L198.6,232.1 L198.8,232.5 L199.1,232.6 L199.3,231.7 L199.6,231.8 L199.9,231.6 L200.1,231.8 L200.4,232.0 L200.6,231.8 L200.9,232.1 L201.2,231.4 L201.4,231.4 L201.7,231.8 L201.9,231.6 L202.2,231.7 L202.4,231.9 L202.7,231.8 L203.0,231.2 L203.2,231.2 L203.5,231.2 L203.7,231.9 L204.0,232.0 L204.3,231.9 L204.5,231.5 L204.8,231.8 L205.0,231.5 L205.3,231.0 L205.6,231.0 L205.8,231.6 L206.1,231.4 L206.3,231.5 L206.6,231.2 L206.8,231.1 L207.1,231.0 L207.4,231.2 L207.6,231.2 L207.9,231.2 L208.1,231.1 L208.4,231.4 L208.7,230.7 L208.9,231.5 L209.2,230.7 L209.4,230.9 L209.7,230.8 L209.9,230.5 L210.2,230.5 L210.5,230.4 L210.7,230.9 L211.0,230.5 L211.2,231.0 L211.5,230.9 L211.8,231.1 L212.0,230.5 L212.3,230.5 L212.5,230.9 L212.8,231.0 L213.0,231.0 L213.3,231.0 L213.6,230.9 L213.8,230.1 L214.1,230.5 L214.3,230.7 L214.6,230.9 L214.9,230.4 L215.1,230.2 L215.4,230.0 L215.6,230.1 L215.9,229.9 L216.2,230.3 L216.4,229.9 L216.7,230.6 L216.9,229.9 L217.2,230.3 L217.4,230.0 L217.7,229.9 L218.0,229.8 L218.2,230.0 L218.5,230.4 L218.7,230.1 L219.0,230.0 L219.3,229.7 L219.5,229.8 L219.8,230.3 L220.0,229.5 L220.3,230.0 L220.5,230.1 L220.8,229.9 L221.1,229.6 L221.3,229.5 L221.6,229.9 L221.8,229.9 L222.1,229.4 L222.4,229.5 L222.6,230.0 L222.9,229.2 L223.1,230.0 L223.4,229.7 L223.6,229.2 L223.9,229.9" stroke="#2233dd"/>
<path d="M45.5,218.6 L45.8,219.4 L46.1,218.9 L46.3,219.1 L46.6,219.5 L46.8,219.3 L47.1,219.4 L47.3,220.0 L47.6,219.2 L47.9,219.6 L48.1,219.6 L48.4,219.9 L48.6,220.0 L48.9,220.2 L49.2,219.9 L49.4,220.6 L49.7,220.7 L49.9,220.6 L50.2,220.5 L50.5,220.8 L50.7,220.1 L51.0,220.6 L51.2,220.4 L51.5,220.2 L51.7,220.4 L52.0,220.0 L52.3,220.3 L52.5,219.3 L52.8,219.2 L53.0,219.0 L53.3,218.0 L53.6,217.1 L53.8,216.3 L54.1,213.8 L54.3,210.8 L54.6,208.3 L54.8,207.5 L55.1,209.4 L55.4,212.5 L55.6,214.8 L55.9,217.2 L56.1,218.2 L56.4,219.0 L56.7,219.3 L56.9,219.3 L57.2,219.8 L57.4,220.0 L57.7,220.3 L57.9,220.0 L58.2,220.1 L58.5,220.5 L58.7,220.1 L59.0,220.1 L59.2,220.4 L59.5,220.2 L59.8,220.4 L60.0,220.4 L60.3,219.6 L60.5,219.1 L60.8,218.0 L61.1,216.7 L61.3,214.1 L61.6,212.1 L61.8,211.5 L62.1,213.5 L62.3,216.1 L62.6,218.2 L62.9,218.4 L63.1,220.0 L63.4,220.2 L63.6,220.2 L63.9,220.2 L64.2,220.2 L64.4,220.4 L64.7,220.8 L64.9,220.7 L65.2,220.5 L65.4,220.3 L65.7,220.2 L66.0,219.8 L66.2,219.7 L66.5,219.6 L66.7,218.3 L67.0,218.3 L67.3,215.9 L67.5,213.9 L67.8,209.6 L68.0,203.2 L68.3,196.3 L68.5,197.6 L68.8,204.3 L69.1,211.3 L69.3,215.2 L69.6,217.3 L69.8,218.6 L70.1,218.9 L70.4,220.0 L70.6,220.4 L70.9,220.9 L71.1,220.8 L71.4,221.3 L71.6,221.4 L71.9,221.7 L72.2,222.4 L72.4,223.8 L72.7,223.6 L72.9,223.9 L73.2,224.5 L73.5,225.7 L73.7,226.1 L74.0,226.2 L74.2,226.3 L74.5,227.5 L74.8,226.8 L75.0,227.6 L75.3,227.3 L75.5,227.3 L75.8,227.0 L76.0,227.7 L76.3,227.9 L76.6,227.5 L76.8,228.0 L77.1,227.4 L77.3,227.5 L77.6,227.7 L77.9,227.5 L78.1,228.3 L78.4,227.9 L78.6,227.4 L78.9,228.1 L79.1,227.6 L79.4,227.9 L79.7,228.4 L79.9,227.9 L80.2,227.9 L80.4,228.5 L80.7,227.9 L81.0,228.7 L81.2,227.8 L81.5,227.8 L81.7,228.8 L82.0,228.5 L82.2,228.4 L82.5,228.7 L82.8,228.2 L83.0,228.8 L83.3,228.3 L83.5,228.9 L83.8,228.6 L84.1,229.0 L84.3,229.1 L84.6,229.0 L84.8,228.3 L85.1,228.7 L85.3,229.2 L85.6,228.7 L85.9,228.5 L86.1,228.8 L86.4,228.5 L86.6,228.5 L86.9,229.1 L87.2,228.5 L87.4,228.9 L87.7,228.9 L87.9,229.4 L88.2,229.0 L88.5,229.1 L88.7,229.3 L89.0,228.8 L89.2,229.2 L89.5,228.9 L89.7,229.1 L90.0,229.6 L90.3,229.7 L90.5,229.8 L90.8,229.6 L91.0,228.9 L91.3,229.3 L91.6,229.3 L91.8,229.3 L92.1,229.4 L92.3,229.7 L92.6,229.0 L92.8,229.6 L93.1,229.1 L93.4,229.9 L93.6,230.1 L93.9,229.8 L94.1,230.0 L94.4,230.2 L94.7,230.1 L94.9,229.5 L95.2,229.9 L95.4,229.8 L95.7,229.9 L95.9,229.8 L96.2,229.4 L96.5,229.7 L96.7,229.5 L97.0,230.3 L97.2,230.3 L97.5,229.6 L97.8,230.2 L98.0,230.4 L98.3,230.2 L98.5,230.3 L98.8,230.1 L99.0,230.0 L99.3,230.0 L99.6,229.8 L99.8,230.0 L100.1,230.0 L100.3,230.2 L100.6,230.2 L100.9,230.1 L101.1,230.9 L101.4,230.1 L101.6,230.3 L101.9,230.8 L102.2,230.3 L102.4,230.0 L102.7,230.5 L102.9,230.3 L103.2,230.7 L103.4,230.3 L103.7,230.3 L104.0,230.4 L104.2,230.5 L104.5,230.0 L104.7,229.9 L105.0,230.6 L105.3,230.1 L105.5,230.8 L105.8,230.6 L106.0,230.3 L106.3,229.9 L106.5,230.0 L106.8,229.8 L107.1,230.3 L107.3,230.3 L107.6,230.5 L107.8,230.1 L108.1,230.6 L108.4,230.6 L108.6,230.4 L108.9,230.2 L109.1,230.6 L109.4,230.2 L109.6,229.6 L109.9,230.5 L110.2,229.7 L110.4,230.0 L110.7,230.0 L110.9,230.4 L111.2,230.2 L111.5,230.1 L111.7,230.5 L112.0,230.4 L112.2,230.2 L112.5,229.9 L112.8,229.7 L113.0,230.4 L113.3,230.2 L113.5,230.4 L113.8,229.9 L114.0,230.4 L114.3,229.5 L114.6,229.7 L114.8,230.4 L115.1,230.2 L115.3,229.6 L115.6,229.7 L115.9,229.6 L116.1,230.0 L116.4,230.0 L116.6,229.9 L116.9,229.7 L117.1,229.4 L117.4,229.6 L117.7,230.2 L117.9,230.0 L118.2,229.9 L118.4,229.9 L118.7,229.7 L119.0,229.3 L119.2,229.4 L119.5,229.5 L119.7,229.2 L120.0,229.6 L120.2,229.5 L120.5,229.6 L120.8,229.6 L121.0,230.0 L121.3,229.7 L121.5,230.1 L121.8,229.7 L122.1,229.5 L122.3,229.6 L122.6,229.8 L122.8,229.3 L123.1,229.8 L123.3,230.0 L123.6,229.8 L123.9,229.8 L124.1,229.9 L124.4,229.1 L124.6,229.6 L124.9,229.4 L125.2,229.2 L125.4,229.4 L125.7,229.0 L125.9,229.7 L126.2,229.1 L126.5,229.3 L126.7,229.0 L127.0,229.9 L127.2,229.2 L127.5,229.5 L127.7,228.9 L128.0,229.2 L128.3,229.3 L128.5,228.9 L128.8,229.8 L129.0,229.5 L129.3,228.9 L129.6,229.3 L129.8,229.0 L130.1,229.2 L130.3,229.6 L130.6,229.0 L130.8,229.6 L131.1,229.3 L131.4,229.4 L131.6,229.7 L131.9,228.9 L132.1,229.5 L132.4,229.7 L132.7,229.2 L132.9,228.9 L133.2,229.5 L133.4,229.2 L133.7,228.7 L133.9,229.6 L134.2,228.8 L134.5,229.4 L134.7,228.8 L135.0,229.1 L135.2,229.1 L135.5,228.9 L135.8,229.2 L136.0,229.6 L136.3,228.9 L136.5,229.2 L136.8,229.5 L137.0,228.7 L137.3,229.4 L137.6,229.5 L137.8,229.2 L138.1,228.6 L138.3,228.8 L138.6,228.7 L138.9,229.0 L139.1,228.7 L139.4,229.4 L139.6,229.4 L139.9,228.5 L140.2,229.2 L140.4,228.8 L140.7,228.8 L140.9,228.8 L141.2,228.6 L141.4,228.8 L141.7,228.8 L142.0,228.5 L142.2,228.4 L142.5,228.5 L142.7,228.3 L143.0,228.8 L143.3,228.7 L143.5,228.8 L143.8,228.7 L144.0,228.7 L144.3,228.3 L144.5,228.4 L144.8,228.1 L145.1,228.8 L145.3,228.9 L145.6,228.6 L145.8,228.4 L146.1,228.2 L146.4,228.4 L146.6,228.6 L146.9,228.3 L147.1,228.4 L147.4,227.8 L147.6,228.0 L147.9,228.3 L148.2,228.6 L148.4,228.0 L148.7,228.2 L148.9,228.0 L149.2,227.7 L149.5,227.9 L149.7,228.3 L150.0,227.9 L150.2,228.0 L150.5,228.0 L150.7,228.1 L151.0,228.1 L151.3,228.1 L151.5,228.3 L151.8,228.1 L152.0,228.0 L152.3,228.3 L152.6,227.8 L152.8,227.9 L153.1,227.4 L153.3,227.9 L153.6,227.8 L153.9,228.2 L154.1,227.3 L154.4,227.4 L154.6,227.9 L154.9,227.9 L155.1,227.8 L155.4,227.3 L155.7,228.0 L155.9,227.6 L156.2,227.9 L156.4,227.8 L156.7,227.7 L157.0,227.5 L157.2,227.6 L157.5,227.1 L157.7,227.7 L158.0,227.8 L158.2,227.5 L158.5,227.5 L158.8,227.6 L159.0,227.5 L159.3,226.9 L159.5,227.6 L159.8,227.5 L160.1,227.0 L160.3,227.3 L160.6,226.8 L160.8,226.9 L161.1,227.0 L161.3,227.1 L161.6,227.4 L161.9,227.5 L162.1,227.3 L162.4,226.8 L162.6,226.8 L162.9,226.6 L163.2,227.0 L163.4,226.8 L163.7,227.0 L163.9,226.8 L164.2,227.0 L164.4,227.1 L164.7,226.8 L165.0,226.8 L165.2,227.0 L165.5,226.5 L165.7,226.9 L166.0,226.3 L166.3,226.5 L166.5,226.6 L166.8,226.7 L167.0,226.5 L167.3,227.0 L167.6,226.4 L167.8,226.9 L168.1,226.8 L168.3,226.3 L168.6,226.3 L168.8,226.7 L169.1,226.5 L169.4,226.6 L169.6,226.8 L169.9,226.1 L170.1,226.1 L170.4,226.9 L170.7,226.2 L170.9,226.4 L171.2,226.1 L171.4,225.9 L171.7,226.6 L171.9,226.5 L172.2,226.0 L172.5,225.8 L172.7,226.5 L173.0,225.9 L173.2,226.4 L173.5,225.9 L173.8,226.6 L174.0,225.7 L174.3,225.9 L174.5,225.8 L174.8,226.1 L175.0,226.3 L175.3,225.6 L175.6,226.0 L175.8,226.3 L176.1,225.8 L176.3,226.1 L176.6,226.0 L176.9,225.6 L177.1,226.1 L177.4,226.0 L177.6,225.7 L177.9,225.4 L178.2,225.3 L178.4,226.0 L178.7,225.7 L178.9,225.6 L179.2,225.5 L179.4,225.0 L179.7,225.2 L180.0,225.0 L180.2,225.9 L180.5,225.9 L180.7,225.4 L181.0,225.6 L181.3,225.6 L181.5,226.0 L181.8,226.1 L182.0,225.3 L182.3,226.2 L182.5,226.1 L182.8,226.1 L183.1,226.8 L183.3,226.3 L183.6,227.2 L183.8,227.1 L184.1,226.0 L184.4,225.8 L184.6,226.2 L184.9,225.9 L185.1,225.4 L185.4,225.6 L185.6,224.6 L185.9,224.8 L186.2,225.2 L186.4,224.3 L186.7,224.5 L186.9,224.3 L187.2,224.6 L187.5,225.0 L187.7,224.4 L188.0,224.7 L188.2,223.9 L188.5,224.2 L188.7,224.7 L189.0,224.7 L189.3,223.9 L189.5,223.8 L189.8,223.9 L190.0,224.5 L190.3,223.7 L190.6,223.8 L190.8,223.8 L191.1,223.9 L191.3,224.2 L191.6,223.9 L191.9,224.1 L192.1,223.8 L192.4,224.1 L192.6,223.6 L192.9,223.8 L193.1,223.5 L193.4,223.5 L193.7,223.2 L193.9,223.9 L194.2,223.3 L194.4,223.9 L194.7,223.6 L195.0,223.0 L195.2,223.8 L195.5,223.7 L195.7,223.4 L196.0,223.0 L196.2,223.6 L196.5,223.0 L196.8,223.6 L197.0,223.5 L197.3,222.7 L197.5,222.9 L197.8,223.5 L198.1,223.3 L198.3,222.7 L198.6,222.8 L198.8,223.3 L199.1,222.3 L199.3,222.4 L199.6,223.0 L199.9,222.6 L200.1,222.8 L200.4,222.6 L200.6,222.6 L200.9,222.7 L201.2,222.8 L201.4,222.1 L201.7,222.6 L201.9,222.9 L202.2,222.9 L202.4,222.0 L202.7,222.4 L203.0,222.0 L203.2,222.8 L203.5,222.0 L203.7,222.6 L204.0,222.1 L204.3,222.6 L204.5,221.7 L204.8,222.1 L205.0,222.1 L205.3,221.9 L205.6,221.8 L205.8,222.3 L206.1,221.5 L206.3,222.2 L206.6,222.2 L206.8,222.1 L207.1,221.9 L207.4,221.6 L207.6,221.7 L207.9,221.4 L208.1,221.4 L208.4,221.6 L208.7,221.1 L208.9,221.0 L209.2,221.6 L209.4,221.9 L209.7,221.6 L209.9,221.0 L210.2,220.9 L210.5,220.9 L210.7,221.4 L211.0,221.5 L211.2,221.2 L211.5,220.7 L211.8,221.6 L212.0,221.4 L212.3,220.7 L212.5,221.4 L212.8,221.4 L213.0,220.8 L213.3,221.0 L213.6,220.4 L213.8,220.7 L214.1,220.5 L214.3,221.2 L214.6,221.0 L214.9,220.5 L215.1,220.9 L215.4,220.3 L215.6,220.2 L215.9,220.5 L216.2,220.9 L216.4,220.9 L216.7,220.3 L216.9,220.2 L217.2,220.3 L217.4,220.3 L217.7,220.5 L218.0,220.3 L218.2,220.0 L218.5,220.0 L218.7,220.3 L219.0,219.7 L219.3,219.8 L219.5,219.8 L219.8,219.8 L220.0,219.6 L220.3,220.0 L220.5,220.1 L220.8,219.7 L221.1,220.3 L221.3,219.6 L221.6,219.8 L221.8,219.9 L222.1,219.9 L222.4,220.1 L222.6,219.2 L222.9,219.2 L223.1,219.2 L223.4,219.2 L223.6,219.4 L223.9,219.5" stroke="#33d633"/>
<path d="M45.5,191.6 L45.8,195.5 L46.1,198.4 L46.3,201.1 L46.6,204.3 L46.8,203.4 L47.1,204.3 L47.3,204.2 L47.6,203.9 L47.9,203.9 L48.1,204.5 L48.4,204.8 L48.6,204.6 L48.9,203.9 L49.2,204.6 L49.4,204.3 L49.7,204.2 L49.9,204.1 L50.2,204.7 L50.5,204.4 L50.7,204.5 L51.0,204.7 L51.2,205.1 L51.5,204.3 L51.7,204.6 L52.0,204.7 L52.3,204.7 L52.5,204.7 L52.8,203.8 L53.0,204.3 L53.3,203.0 L53.6,203.0 L53.8,202.5 L54.1,201.5 L54.3,198.8 L54.6,196.6 L54.8,195.1 L55.1,195.8 L55.4,199.3 L55.6,201.4 L55.9,201.8 L56.1,202.8 L56.4,203.4 L56.7,204.3 L56.9,204.5 L57.2,203.7 L57.4,204.1 L57.7,203.8 L57.9,203.8 L58.2,204.0 L58.5,204.9 L58.7,204.8 L59.0,203.9 L59.2,204.4 L59.5,204.3 L59.8,204.0 L60.0,204.2 L60.3,203.0 L60.5,202.8 L60.8,201.9 L61.1,201.6 L61.3,199.6 L61.6,197.2 L61.8,196.5 L62.1,199.2 L62.3,201.1 L62.6,202.5 L62.9,203.4 L63.1,203.6 L63.4,203.7 L63.6,204.3 L63.9,203.6 L64.2,204.6 L64.4,204.0 L64.7,204.2 L64.9,204.7 L65.2,203.6 L65.4,204.0 L65.7,204.5 L66.0,203.9 L66.2,204.3 L66.5,203.8 L66.7,202.9 L67.0,202.6 L67.3,201.6 L67.5,200.4 L67.8,197.7 L68.0,192.8 L68.3,187.0 L68.5,188.8 L68.8,193.5 L69.1,198.3 L69.3,201.0 L69.6,202.0 L69.8,202.3 L70.1,203.4 L70.4,203.2 L70.6,203.6 L70.9,203.8 L71.1,203.9 L71.4,204.5 L71.6,205.1 L71.9,205.1 L72.2,206.1 L72.4,205.4 L72.7,206.1 L72.9,206.4 L73.2,207.1 L73.5,207.6 L73.7,207.4 L74.0,208.0 L74.2,208.3 L74.5,208.6 L74.8,208.2 L75.0,209.1 L75.3,208.3 L75.5,208.8 L75.8,208.6 L76.0,208.8 L76.3,209.2 L76.6,209.3 L76.8,209.5 L77.1,209.2 L77.3,208.8 L77.6,208.5 L77.9,208.7 L78.1,209.6 L78.4,209.0 L78.6,209.0 L78.9,209.0 L79.1,209.0 L79.4,208.8 L79.7,209.0 L79.9,209.2 L80.2,209.2 L80.4,208.7 L80.7,208.7 L81.0,208.6 L81.2,209.1 L81.5,209.2 L81.7,209.4 L82.0,208.6 L82.2,208.5 L82.5,208.2 L82.8,207.1 L83.0,206.5 L83.3,206.3 L83.5,207.8 L83.8,208.4 L84.1,208.3 L84.3,209.0 L84.6,208.3 L84.8,208.0 L85.1,207.9 L85.3,207.8 L85.6,207.2 L85.9,206.3 L86.1,206.2 L86.4,204.5 L86.6,202.1 L86.9,200.8 L87.2,202.4 L87.4,204.1 L87.7,205.0 L87.9,205.6 L88.2,206.3 L88.5,206.0 L88.7,205.2 L89.0,205.4 L89.2,204.7 L89.5,203.9 L89.7,201.6 L90.0,199.2 L90.3,195.0 L90.5,191.7 L90.8,194.5 L91.0,198.1 L91.3,201.1 L91.6,201.9 L91.8,202.5 L92.1,200.7 L92.3,197.4 L92.6,192.0 L92.8,185.6 L93.1,184.0 L93.4,191.9 L93.6,197.9 L93.9,201.4 L94.1,203.5 L94.4,205.2 L94.7,205.5 L94.9,205.7 L95.2,205.8 L95.4,205.5 L95.7,204.4 L95.9,203.1 L96.2,201.6 L96.5,202.7 L96.7,204.4 L97.0,205.9 L97.2,206.2 L97.5,206.6 L97.8,206.7 L98.0,206.9 L98.3,207.5 L98.5,206.8 L98.8,206.1 L99.0,205.7 L99.3,204.6 L99.6,202.3 L99.8,199.9 L100.1,194.1 L100.3,189.6 L100.6,190.7 L100.9,194.5 L101.1,196.9 L101.4,193.8 L101.6,188.5 L101.9,184.8 L102.2,189.7 L102.4,196.6 L102.7,201.9 L102.9,203.5 L103.2,205.3 L103.4,205.5 L103.7,205.8 L104.0,205.0 L104.2,203.7 L104.5,202.1 L104.7,204.5 L105.0,207.0 L105.3,207.1 L105.5,208.0 L105.8,208.5 L106.0,209.1 L106.3,208.1 L106.5,208.9 L106.8,208.5 L107.1,208.6 L107.3,208.7 L107.6,208.5 L107.8,207.7 L108.1,207.7 L108.4,206.5 L108.6,204.7 L108.9,202.1 L109.1,197.5 L109.4,189.3 L109.6,176.5 L109.9,173.7 L110.2,186.7 L110.4,196.2 L110.7,201.5 L110.9,205.2 L111.2,206.7 L111.5,207.6 L111.7,208.3 L112.0,208.8 L112.2,209.1 L112.5,209.3 L112.8,210.3 L113.0,209.4 L113.3,210.1 L113.5,209.8 L113.8,210.1 L114.0,209.8 L114.3,210.0 L114.6,210.6 L114.8,210.0 L115.1,210.5 L115.3,210.8 L115.6,210.7 L115.9,210.2 L116.1,210.6 L116.4,210.5 L116.6,211.1 L116.9,211.2 L117.1,210.8 L117.4,211.0 L117.7,210.5 L117.9,211.1 L118.2,210.6 L118.4,210.6 L118.7,209.3 L119.0,209.3 L119.2,208.1 L119.5,205.9 L119.7,202.0 L120.0,195.9 L120.2,196.7 L120.5,202.7 L120.8,206.1 L121.0,209.0 L121.3,210.1 L121.5,210.2 L121.8,211.0 L122.1,211.1 L122.3,211.6 L122.6,211.4 L122.8,211.1 L123.1,212.1 L123.3,212.0 L123.6,212.6 L123.9,214.1 L124.1,214.7 L124.4,215.7 L124.6,215.6 L124.9,217.2 L125.2,217.8 L125.4,218.3 L125.7,218.2 L125.9,219.2 L126.2,218.7 L126.5,218.5 L126.7,218.7 L127.0,219.5 L127.2,218.8 L127.5,219.0 L127.7,219.5 L128.0,219.3 L128.3,219.0 L128.5,218.9 L128.8,219.2 L129.0,219.2 L129.3,219.5 L129.6,219.4 L129.8,218.9 L130.1,219.7 L130.3,219.7 L130.6,219.3 L130.8,218.9 L131.1,219.3 L131.4,219.9 L131.6,219.2 L131.9,219.2 L132.1,219.7 L132.4,219.8 L132.7,219.9 L132.9,219.4 L133.2,219.9 L133.4,219.3 L133.7,219.1 L133.9,219.9 L134.2,219.4 L134.5,220.2 L134.7,219.5 L135.0,219.6 L135.2,220.2 L135.5,219.2 L135.8,220.4 L136.0,219.6 L136.3,219.3 L136.5,219.7 L136.8,219.5 L137.0,219.6 L137.3,220.0 L137.6,220.1 L137.8,219.6 L138.1,220.6 L138.3,219.6 L138.6,219.6 L138.9,219.8 L139.1,219.5 L139.4,220.6 L139.6,219.7 L139.9,219.6 L140.2,220.4 L140.4,220.0 L140.7,219.8 L140.9,220.2 L141.2,219.9 L141.4,219.8 L141.7,220.4 L142.0,220.1 L142.2,220.2 L142.5,220.4 L142.7,221.0 L143.0,220.6 L143.3,220.6 L143.5,220.3 L143.8,220.5 L144.0,220.3 L144.3,221.0 L144.5,221.1 L144.8,221.0 L145.1,220.5 L145.3,220.9 L145.6,220.4 L145.8,221.1 L146.1,221.3 L146.4,220.4 L146.6,220.3 L146.9,221.4 L147.1,220.9 L147.4,221.2 L147.6,221.3 L147.9,221.3 L148.2,220.4 L148.4,220.6 L148.7,220.8 L148.9,221.4 L149.2,221.2 L149.5,220.6 L149.7,220.4 L150.0,221.2 L150.2,221.2 L150.5,220.2 L150.7,220.5 L151.0,220.2 L151.3,220.6 L151.5,220.0 L151.8,220.4 L152.0,220.1 L152.3,220.0 L152.6,221.0 L152.8,220.0 L153.1,220.9 L153.3,220.6 L153.6,220.1 L153.9,220.1 L154.1,220.1 L154.4,219.9 L154.6,220.2 L154.9,219.7 L155.1,220.2 L155.4,220.0 L155.7,219.6 L155.9,220.5 L156.2,219.7 L156.4,220.0 L156.7,220.1 L157.0,220.1 L157.2,219.9 L157.5,219.7 L157.7,219.6 L158.0,220.0 L158.2,219.1 L158.5,219.7 L158.8,220.0 L159.0,219.5 L159.3,219.5 L159.5,219.7 L159.8,219.7 L160.1,219.2 L160.3,219.5 L160.6,219.7 L160.8,219.4 L161.1,218.9 L161.3,219.8 L161.6,219.0 L161.9,219.3 L162.1,218.5 L162.4,219.2 L162.6,219.1 L162.9,219.4 L163.2,218.6 L163.4,218.3 L163.7,218.6 L163.9,218.7 L164.2,219.0 L164.4,218.5 L164.7,219.0 L165.0,219.1 L165.2,218.1 L165.5,219.2 L165.7,218.0 L166.0,218.2 L166.3,218.0 L166.5,218.8 L166.8,218.9 L167.0,218.1 L167.3,218.4 L167.6,218.8 L167.8,218.6 L168.1,217.9 L168.3,218.1 L168.6,218.6 L168.8,218.5 L169.1,218.0 L169.4,218.1 L169.6,217.5 L169.9,217.8 L170.1,218.2 L170.4,217.1 L170.7,217.2 L170.9,217.6 L171.2,216.8 L171.4,216.9 L171.7,217.5 L171.9,216.7 L172.2,217.0 L172.5,217.4 L172.7,216.8 L173.0,216.9 L173.2,216.1 L173.5,216.5 L173.8,216.4 L174.0,216.3 L174.3,216.2 L174.5,215.6 L174.8,216.1 L175.0,215.7 L175.3,216.0 L175.6,215.4 L175.8,216.1 L176.1,215.4 L176.3,215.8 L176.6,215.3 L176.9,214.9 L177.1,215.0 L177.4,214.7 L177.6,214.6 L177.9,214.1 L178.2,213.6 L178.4,214.0 L178.7,213.3 L178.9,211.9 L179.2,210.9 L179.4,209.6 L179.7,207.3 L180.0,204.1 L180.2,200.3 L180.5,195.5 L180.7,187.9 L181.0,179.7 L181.3,168.5 L181.5,155.9 L181.8,139.6 L182.0,121.9 L182.3,101.0 L182.5,78.9 L182.8,55.9 L183.1,30.7 L183.3,7.0 L183.6,-14.9 L183.8,-35.4 L184.1,-51.6 L184.4,-63.0 L184.6,-69.2 L184.9,-70.5 L185.1,-65.6 L185.4,-55.7 L185.6,-40.7 L185.9,-21.9 L186.2,-0.2 L186.4,22.6 L186.7,46.6 L186.9,70.4 L187.2,92.0 L187.5,112.9 L187.7,131.1 L188.0,146.9 L188.2,159.8 L188.5,170.4 L188.7,179.0 L189.0,185.2 L189.3,190.8 L189.5,193.6 L189.8,196.3 L190.0,197.8 L190.3,199.4 L190.6,200.9 L190.8,201.4 L191.1,201.2 L191.3,202.7 L191.6,202.0 L191.9,202.4 L192.1,203.0 L192.4,202.7 L192.6,203.8 L192.9,203.8 L193.1,204.3 L193.4,204.1 L193.7,204.0 L193.9,203.9 L194.2,204.2 L194.4,204.7 L194.7,205.2 L195.0,204.5 L195.2,205.1 L195.5,205.4 L195.7,205.1 L196.0,205.8 L196.2,205.5 L196.5,205.7 L196.8,205.7 L197.0,206.7 L197.3,205.8 L197.5,206.3 L197.8,206.8 L198.1,206.8 L198.3,206.5 L198.6,206.7 L198.8,206.6 L199.1,206.7 L199.3,206.5 L199.6,206.1 L199.9,206.7 L200.1,206.2 L200.4,206.7 L200.6,206.0 L200.9,206.6 L201.2,205.8 L201.4,206.2 L201.7,206.5 L201.9,205.5 L202.2,206.0 L202.4,205.6 L202.7,204.8 L203.0,205.3 L203.2,204.7 L203.5,204.1 L203.7,204.5 L204.0,203.9 L204.3,203.5 L204.5,201.5 L204.8,200.3 L205.0,198.6 L205.3,195.6 L205.6,192.6 L205.8,191.6 L206.1,192.9 L206.3,195.6 L206.6,198.2 L206.8,200.1 L207.1,201.5 L207.4,202.7 L207.6,202.8 L207.9,203.5 L208.1,204.3 L208.4,204.4 L208.7,204.6 L208.9,204.9 L209.2,204.5 L209.4,204.9 L209.7,204.9 L209.9,204.4 L210.2,205.0 L210.5,204.6 L210.7,204.7 L211.0,204.2 L211.2,205.0 L211.5,204.5 L211.8,204.6 L212.0,204.8 L212.3,205.1 L212.5,205.4 L212.8,205.2 L213.0,205.0 L213.3,204.6 L213.6,204.9 L213.8,205.0 L214.1,204.7 L214.3,205.4 L214.6,204.6 L214.9,204.9 L215.1,205.5 L215.4,204.5 L215.6,204.8 L215.9,205.4 L216.2,205.4 L216.4,204.8 L216.7,205.2 L216.9,205.0 L217.2,204.4 L217.4,205.4 L217.7,205.4 L218.0,205.4 L218.2,204.6 L218.5,205.0 L218.7,205.3 L219.0,205.4 L219.3,205.4 L219.5,204.4 L219.8,205.2 L220.0,204.8 L220.3,204.5 L220.5,205.0 L220.8,204.4 L221.1,204.7 L221.3,204.9 L221.6,204.8 L221.8,204.7 L222.1,204.9 L222.4,205.0 L222.6,204.5 L222.9,204.6 L223.1,204.8 L223.4,204.4 L223.6,205.0 L223.9,205.5" stroke="#e8262a"/>
<path d="M45.5,181.0 L45.8,181.3 L46.1,181.1 L46.3,181.2 L46.6,181.3 L46.8,181.2 L47.1,181.7 L47.3,181.4 L47.6,181.4 L47.9,181.5 L48.1,181.9 L48.4,182.0 L48.6,181.9 L48.9,182.2 L49.2,181.9 L49.4,182.3 L49.7,182.3 L49.9,182.1 L50.2,182.1 L50.5,182.4 L50.7,182.5 L51.0,182.5 L51.2,182.7 L51.5,182.5 L51.7,182.5 L52.0,182.6 L52.3,182.5 L52.5,182.7 L52.8,182.8 L53.0,182.7 L53.3,182.6 L53.6,183.0 L53.8,182.7 L54.1,183.1 L54.3,183.0 L54.6,182.8 L54.8,182.8 L55.1,183.2 L55.4,182.8 L55.6,183.2 L55.9,183.2 L56.1,183.3 L56.4,183.1 L56.7,183.4 L56.9,183.1 L57.2,183.3 L57.4,183.6 L57.7,183.4 L57.9,183.2 L58.2,183.3 L58.5,183.4 L58.7,183.7 L59.0,183.7 L59.2,183.5 L59.5,183.6 L59.8,183.6 L60.0,183.7 L60.3,183.6 L60.5,183.9 L60.8,183.7 L61.1,183.7 L61.3,183.8 L61.6,183.6 L61.8,183.5 L62.1,183.7 L62.3,183.8 L62.6,183.6 L62.9,183.5 L63.1,183.5 L63.4,183.7 L63.6,183.5 L63.9,183.6 L64.2,183.6 L64.4,183.3 L64.7,183.4 L64.9,183.6 L65.2,183.3 L65.4,183.6 L65.7,183.2 L66.0,183.4 L66.2,183.3 L66.5,183.4 L66.7,183.1 L67.0,183.1 L67.3,183.3 L67.5,183.5 L67.8,183.3 L68.0,183.4 L68.3,183.2 L68.5,183.4 L68.8,183.0 L69.1,183.3 L69.3,183.0 L69.6,183.0 L69.8,183.1 L70.1,183.0 L70.4,183.3 L70.6,183.3 L70.9,183.1 L71.1,182.9 L71.4,182.8 L71.6,183.0 L71.9,182.9 L72.2,182.9 L72.4,182.9 L72.7,182.9 L72.9,182.9 L73.2,182.9 L73.5,183.0 L73.7,183.3 L74.0,183.3 L74.2,183.2 L74.5,183.3 L74.8,183.3 L75.0,182.9 L75.3,182.9 L75.5,183.1 L75.8,183.2 L76.0,183.4 L76.3,182.9 L76.6,183.3 L76.8,183.3 L77.1,183.1 L77.3,183.3 L77.6,183.4 L77.9,183.0 L78.1,183.3 L78.4,183.2 L78.6,183.4 L78.9,183.1 L79.1,183.3 L79.4,183.0 L79.7,183.0 L79.9,183.2 L80.2,183.2 L80.4,183.2 L80.7,183.1 L81.0,183.4 L81.2,183.1 L81.5,183.0 L81.7,182.9 L82.0,182.9 L82.2,182.3 L82.5,182.3 L82.8,181.5 L83.0,181.6 L83.3,181.5 L83.5,182.0 L83.8,182.2 L84.1,182.8 L84.3,182.7 L84.6,183.1 L84.8,183.1 L85.1,183.3 L85.3,183.4 L85.6,183.3 L85.9,183.0 L86.1,183.3 L86.4,183.0 L86.6,183.3 L86.9,183.4 L87.2,183.0 L87.4,182.9 L87.7,183.2 L87.9,183.0 L88.2,183.1 L88.5,183.0 L88.7,183.0 L89.0,182.6 L89.2,182.5 L89.5,182.1 L89.7,181.5 L90.0,180.5 L90.3,179.8 L90.5,179.1 L90.8,179.7 L91.0,180.3 L91.3,181.0 L91.6,181.2 L91.8,181.4 L92.1,181.7 L92.3,181.2 L92.6,180.8 L92.8,179.8 L93.1,178.7 L93.4,177.4 L93.6,177.1 L93.9,178.3 L94.1,179.9 L94.4,180.7 L94.7,181.8 L94.9,181.8 L95.2,182.4 L95.4,182.7 L95.7,182.8 L95.9,182.6 L96.2,182.7 L96.5,183.0 L96.7,182.9 L97.0,182.8 L97.2,182.8 L97.5,183.1 L97.8,182.7 L98.0,182.8 L98.3,183.1 L98.5,182.7 L98.8,182.9 L99.0,182.3 L99.3,182.1 L99.6,181.6 L99.8,181.3 L100.1,180.4 L100.3,179.7 L100.6,179.7 L100.9,180.0 L101.1,179.6 L101.4,178.9 L101.6,177.4 L101.9,177.1 L102.2,177.9 L102.4,179.5 L102.7,181.0 L102.9,181.8 L103.2,182.1 L103.4,182.3 L103.7,182.8 L104.0,182.9 L104.2,182.7 L104.5,182.9 L104.7,183.2 L105.0,183.2 L105.3,183.2 L105.5,183.0 L105.8,182.9 L106.0,183.2 L106.3,182.9 L106.5,183.0 L106.8,182.9 L107.1,183.0 L107.3,182.7 L107.6,182.6 L107.8,182.6 L108.1,182.3 L108.4,182.0 L108.6,181.0 L108.9,179.9 L109.1,178.5 L109.4,175.6 L109.6,172.4 L109.9,171.8 L110.2,174.6 L110.4,177.9 L110.7,179.7 L110.9,181.2 L111.2,181.9 L111.5,182.3 L111.7,182.2 L112.0,182.7 L112.2,182.6 L112.5,183.1 L112.8,182.8 L113.0,183.1 L113.3,183.2 L113.5,183.0 L113.8,183.2 L114.0,183.0 L114.3,183.0 L114.6,183.1 L114.8,183.0 L115.1,183.2 L115.3,183.3 L115.6,183.5 L115.9,183.1 L116.1,183.2 L116.4,183.3 L116.6,183.1 L116.9,183.1 L117.1,183.1 L117.4,183.3 L117.7,183.0 L117.9,183.1 L118.2,182.7 L118.4,182.6 L118.7,182.3 L119.0,181.9 L119.2,181.2 L119.5,180.2 L119.7,178.6 L120.0,176.7 L120.2,177.2 L120.5,178.8 L120.8,180.4 L121.0,181.4 L121.3,182.1 L121.5,182.3 L121.8,182.9 L122.1,182.9 L122.3,182.8 L122.6,183.1 L122.8,183.1 L123.1,183.1 L123.3,183.2 L123.6,183.4 L123.9,183.6 L124.1,183.4 L124.4,183.2 L124.6,183.1 L124.9,183.3 L125.2,183.3 L125.4,183.4 L125.7,183.4 L125.9,183.3 L126.2,183.2 L126.5,183.6 L126.7,183.6 L127.0,183.5 L127.2,183.6 L127.5,183.5 L127.7,183.6 L128.0,183.4 L128.3,183.5 L128.5,183.6 L128.8,183.6 L129.0,183.6 L129.3,183.5 L129.6,183.4 L129.8,183.6 L130.1,183.7 L130.3,183.3 L130.6,183.3 L130.8,183.2 L131.1,183.3 L131.4,183.3 L131.6,183.3 L131.9,183.3 L132.1,183.4 L132.4,183.3 L132.7,183.7 L132.9,183.3 L133.2,183.2 L133.4,183.7 L133.7,183.4 L133.9,183.6 L134.2,183.4 L134.5,183.2 L134.7,183.2 L135.0,183.7 L135.2,183.3 L135.5,183.4 L135.8,183.4 L136.0,183.5 L136.3,183.4 L136.5,183.6 L136.8,183.3 L137.0,183.5 L137.3,183.7 L137.6,183.5 L137.8,183.7 L138.1,183.3 L138.3,183.7 L138.6,183.4 L138.9,183.7 L139.1,183.6 L139.4,183.4 L139.6,183.6 L139.9,183.3 L140.2,183.5 L140.4,183.6 L140.7,183.3 L140.9,183.3 L141.2,183.7 L141.4,183.3 L141.7,183.6 L142.0,183.5 L142.2,183.3 L142.5,183.7 L142.7,183.4 L143.0,183.4 L143.3,183.7 L143.5,183.7 L143.8,183.4 L144.0,183.7 L144.3,183.3 L144.5,183.6 L144.8,183.5 L145.1,183.4 L145.3,183.4 L145.6,183.4 L145.8,183.6 L146.1,183.4 L146.4,183.4 L146.6,183.6 L146.9,183.4 L147.1,183.3 L147.4,183.5 L147.6,183.7 L147.9,183.4 L148.2,183.4 L148.4,183.7 L148.7,183.3 L148.9,183.7 L149.2,183.4 L149.5,183.3 L149.7,183.6 L150.0,183.7 L150.2,183.5 L150.5,183.4 L150.7,183.3 L151.0,183.2 L151.3,183.6 L151.5,183.6 L151.8,183.4 L152.0,183.5 L152.3,183.6 L152.6,183.6 L152.8,183.6 L153.1,183.7 L153.3,183.4 L153.6,183.7 L153.9,183.5 L154.1,183.4 L154.4,183.6 L154.6,183.4 L154.9,183.4 L155.1,183.6 L155.4,183.6 L155.7,183.5 L155.9,183.6 L156.2,183.7 L156.4,183.4 L156.7,183.3 L157.0,183.7 L157.2,183.3 L157.5,183.5 L157.7,183.3 L158.0,183.5 L158.2,183.6 L158.5,183.3 L158.8,183.5 L159.0,183.4 L159.3,183.6 L159.5,183.7 L159.8,183.6 L160.1,183.3 L160.3,183.4 L160.6,183.5 L160.8,183.3 L161.1,183.7 L161.3,183.4 L161.6,183.4 L161.9,183.3 L162.1,183.5 L162.4,183.6 L162.6,183.3 L162.9,183.5 L163.2,183.4 L163.4,183.3 L163.7,183.4 L163.9,183.5 L164.2,183.5 L164.4,183.7 L164.7,183.6 L165.0,183.7 L165.2,183.6 L165.5,183.6 L165.7,183.7 L166.0,183.7 L166.3,183.6 L166.5,183.4 L166.8,183.4 L167.0,183.6 L167.3,183.2 L167.6,183.4 L167.8,183.6 L168.1,183.4 L168.3,183.5 L168.6,183.4 L168.8,183.5 L169.1,183.6 L169.4,183.2 L169.6,183.4 L169.9,183.6 L170.1,183.4 L170.4,183.7 L170.7,183.3 L170.9,183.4 L171.2,183.2 L171.4,183.6 L171.7,183.4 L171.9,183.6 L172.2,183.5 L172.5,183.2 L172.7,183.5 L173.0,183.1 L173.2,183.5 L173.5,183.4 L173.8,183.1 L174.0,183.3 L174.3,183.1 L174.5,183.1 L174.8,183.3 L175.0,183.0 L175.3,182.9 L175.6,182.5 L175.8,182.4 L176.1,182.3 L176.3,182.0 L176.6,181.8 L176.9,181.1 L177.1,180.9 L177.4,180.5 L177.6,180.9 L177.9,180.9 L178.2,181.2 L178.4,181.9 L178.7,182.0 L178.9,181.7 L179.2,181.4 L179.4,181.1 L179.7,180.4 L180.0,179.0 L180.2,177.1 L180.5,174.7 L180.7,171.3 L181.0,167.0 L181.3,161.6 L181.5,155.2 L181.8,147.0 L182.0,138.0 L182.3,127.4 L182.5,116.1 L182.8,104.3 L183.1,92.0 L183.3,79.7 L183.6,68.5 L183.8,58.3 L184.1,50.1 L184.4,44.3 L184.6,40.8 L184.9,40.6 L185.1,43.5 L185.4,48.7 L185.6,56.7 L185.9,66.1 L186.2,77.3 L186.4,89.3 L186.7,102.0 L186.9,114.0 L187.2,125.4 L187.5,136.0 L187.7,145.7 L188.0,153.6 L188.2,160.9 L188.5,166.2 L188.7,171.0 L189.0,174.6 L189.3,177.0 L189.5,179.2 L189.8,180.7 L190.0,181.6 L190.3,182.3 L190.6,183.0 L190.8,183.0 L191.1,183.4 L191.3,183.2 L191.6,183.6 L191.9,183.8 L192.1,183.6 L192.4,183.8 L192.6,183.6 L192.9,183.6 L193.1,183.6 L193.4,183.9 L193.7,183.6 L193.9,183.5 L194.2,183.7 L194.4,183.7 L194.7,183.8 L195.0,183.7 L195.2,183.6 L195.5,183.8 L195.7,183.6 L196.0,183.6 L196.2,183.5 L196.5,183.5 L196.8,183.6 L197.0,183.8 L197.3,183.7 L197.5,183.7 L197.8,183.6 L198.1,183.6 L198.3,183.8 L198.6,183.9 L198.8,183.5 L199.1,183.8 L199.3,183.9 L199.6,183.7 L199.9,183.9 L200.1,183.5 L200.4,183.8 L200.6,183.5 L200.9,183.5 L201.2,183.5 L201.4,183.4 L201.7,183.7 L201.9,183.5 L202.2,183.5 L202.4,183.6 L202.7,183.4 L203.0,183.6 L203.2,183.2 L203.5,183.5 L203.7,183.3 L204.0,182.9 L204.3,182.8 L204.5,182.3 L204.8,181.7 L205.0,180.2 L205.3,178.5 L205.6,176.1 L205.8,174.8 L206.1,176.2 L206.3,178.7 L206.6,180.3 L206.8,181.5 L207.1,182.1 L207.4,182.6 L207.6,182.7 L207.9,183.2 L208.1,183.4 L208.4,183.5 L208.7,183.7 L208.9,183.6 L209.2,183.5 L209.4,183.9 L209.7,183.6 L209.9,183.6 L210.2,183.8 L210.5,183.9 L210.7,183.7 L211.0,183.7 L211.2,183.6 L211.5,183.9 L211.8,183.8 L212.0,184.0 L212.3,183.7 L212.5,183.9 L212.8,183.7 L213.0,183.7 L213.3,183.7 L213.6,184.0 L213.8,184.0 L214.1,183.9 L214.3,184.1 L214.6,184.1 L214.9,184.1 L215.1,184.0 L215.4,183.9 L215.6,183.9 L215.9,184.1 L216.2,183.9" stroke="#1a1a1a"/>
</g>
<text x="53.4" y="174.7" font-size="13.9" fill="#222">TiO<tspan font-size="9.2" dy="3.6">2</tspan></text>
<ellipse cx="61.8" cy="216.6" rx="15.5" ry="42" fill="none" stroke="#e82b2b" stroke-width="1.6" stroke-dasharray="5 3.2"/>
<rect x="228.5" y="177.5" width="47.5" height="75.5" fill="#fff" stroke="#999" stroke-width="0.8"/>
<path d="M229.5,184.3 H251" stroke="#333" stroke-width="1.2"/>
<text x="254.2" y="188.3" font-size="10.4" text-anchor="start" font-weight="normal" fill="#111" >PA</text>
<path d="M229.5,196.7 H251" stroke="#e8262a" stroke-width="1.2"/>
<text x="254.2" y="200.7" font-size="10.4" text-anchor="start" font-weight="normal" fill="#111" >PC1</text>
<path d="M229.5,209.0 H251" stroke="#2ecc2e" stroke-width="1.2"/>
<text x="254.2" y="213.0" font-size="10.4" text-anchor="start" font-weight="normal" fill="#111" >PC2</text>
<path d="M229.5,221.4 H251" stroke="#2233dd" stroke-width="1.2"/>
<text x="254.2" y="225.4" font-size="10.4" text-anchor="start" font-weight="normal" fill="#111" >PC3</text>
<path d="M229.5,233.7 H251" stroke="#33e0e8" stroke-width="1.2"/>
<text x="254.2" y="237.7" font-size="10.4" text-anchor="start" font-weight="normal" fill="#111" >PC4</text>
<path d="M229.5,246.1 H251" stroke="#ee33ee" stroke-width="1.2"/>
<text x="254.2" y="250.1" font-size="10.4" text-anchor="start" font-weight="normal" fill="#111" >PC5</text>
<text transform="translate(69.31 164.69) scale(1.039 1)" font-size="21.45" font-weight="bold" fill="#000">e</text>
<g clip-path="url(#cb)">
<rect x="283.0" y="4.0" width="131.0" height="121.0" fill="#fef7fe"/>
<g>
<path d="M414.0,125.0 283.0,125.0 283.0,27.7 287.2,32.0 291.1,35.0 294.0,36.3 298.0,36.5 301.0,35.6 304.0,33.9 308.0,27.5 311.0,25.1 320.5,23.0 328.2,18.0 338.0,13.1 341.0,12.6 350.0,12.7 355.0,11.3 362.7,8.0 368.9,4.0 414.0,4.0 414.0,125.0Z" fill="#fce6fc" fill-rule="evenodd"/>
<path d="M414.0,125.0 283.0,125.0 283.0,36.1 293.0,41.7 296.0,42.3 299.0,41.8 302.0,40.7 305.0,38.8 307.0,36.9 310.0,33.1 312.0,31.5 323.0,27.2 330.1,22.0 337.0,18.1 341.0,16.7 350.0,16.0 356.0,14.3 364.0,10.9 375.8,4.0 414.0,4.0 414.0,125.0Z" fill="#fad6fa" fill-rule="evenodd"/>
<path d="M414.0,125.0 283.0,125.0 283.0,41.6 293.0,47.0 296.0,47.2 299.0,46.6 305.0,43.8 314.8,36.0 326.0,30.8 339.0,22.5 342.9,21.0 352.0,18.8 359.0,16.4 372.0,9.4 384.4,4.0 414.0,4.0 414.0,125.0Z" fill="#f8c2f8" fill-rule="evenodd"/>
<path d="M414.0,125.0 283.0,125.0 283.0,46.8 289.0,49.8 292.0,50.9 296.0,51.2 301.0,50.2 306.0,47.9 317.0,40.7 331.0,33.6 343.0,26.1 362.0,18.4 373.0,12.3 383.0,9.1 394.5,4.0 414.0,4.0 414.0,125.0Z" fill="#f6aff6" fill-rule="evenodd"/>
<path d="M414.0,125.0 283.0,125.0 283.0,53.3 289.0,55.1 294.0,55.8 299.0,55.5 304.0,54.2 330.0,40.9 351.0,28.0 363.0,22.5 373.0,16.9 385.0,13.8 396.7,10.0 405.1,6.0 410.7,4.0 414.0,4.0 414.0,125.0Z" fill="#f49af4" fill-rule="evenodd"/>
<path d="M414.0,125.0 283.0,125.0 283.0,59.4 294.0,61.0 300.0,60.3 306.0,58.6 327.0,49.5 352.0,33.8 373.0,22.8 377.0,21.4 385.0,20.0 394.0,17.6 404.0,16.0 414.0,11.7 414.0,125.0Z" fill="#f287f2" fill-rule="evenodd"/>
<path d="M414.0,125.0 283.0,125.0 283.0,65.6 297.0,66.0 302.0,65.3 306.0,64.2 318.0,59.0 325.0,56.9 329.2,55.0 337.0,50.4 349.0,42.2 374.0,29.1 395.0,23.8 405.0,22.2 414.0,20.0 414.0,125.0Z" fill="#f175f1" fill-rule="evenodd"/>
<path d="M414.0,125.0 283.0,125.0 283.0,72.2 298.0,72.1 303.0,71.4 307.0,70.3 320.0,64.1 333.0,59.2 351.0,49.0 364.0,44.0 377.0,36.6 389.0,33.7 398.0,31.0 414.0,28.3 414.0,125.0Z" fill="#f066f0" fill-rule="evenodd"/>
<path d="M414.0,125.0 283.0,125.0 283.0,80.0 298.0,79.9 307.0,78.2 311.0,76.6 324.7,69.0 354.0,55.6 366.0,52.1 381.0,46.3 395.0,43.6 414.0,39.0 414.0,125.0Z" fill="#f058f0" fill-rule="evenodd"/>
<path d="M414.0,125.0 283.0,125.0 283.0,88.1 296.0,88.5 303.0,87.2 312.0,83.3 325.4,75.0 334.5,70.0 356.0,60.4 379.0,53.8 414.0,47.0 414.0,125.0Z" fill="#f04df0" fill-rule="evenodd"/>
<path d="M414.0,125.0 283.0,125.0 283.0,101.6 293.0,102.2 296.0,101.7 299.0,100.5 304.0,97.3 319.3,86.0 336.3,75.0 345.4,70.0 358.0,64.6 367.0,61.8 377.0,59.3 399.0,55.2 414.0,53.5 414.0,125.0Z" fill="#f042f0" fill-rule="evenodd"/>
<path d="M414.0,125.0 301.4,125.0 303.2,122.0 306.5,112.0 308.3,108.0 311.5,103.0 315.6,98.0 320.5,93.0 325.0,89.3 346.0,74.7 359.0,68.7 373.0,64.5 400.0,60.0 414.0,58.8 414.0,125.0Z" fill="#f138f1" fill-rule="evenodd"/>
<path d="M414.0,125.0 310.8,125.0 316.3,110.0 319.2,105.0 322.8,100.0 330.5,92.0 349.0,77.7 360.0,72.6 374.0,68.4 396.0,65.1 410.0,63.8 414.0,64.0 414.0,125.0Z" fill="#f22ef2" fill-rule="evenodd"/>
<path d="M414.0,125.0 317.9,125.0 323.2,111.0 330.1,100.0 336.5,93.0 351.0,81.3 356.0,78.6 362.0,76.2 376.0,72.0 387.0,70.4 407.0,69.1 411.0,69.3 414.0,70.0 414.0,125.0Z" fill="#f425f4" fill-rule="evenodd"/>
<path d="M414.0,125.0 324.4,125.0 328.7,113.0 334.9,102.0 341.4,94.0 349.0,87.8 358.0,82.4 371.0,77.5 382.0,75.1 394.0,74.4 401.0,74.7 406.0,75.4 410.0,76.7 414.0,78.8 414.0,125.0Z" fill="#f61cf6" fill-rule="evenodd"/>
<path d="M414.0,125.0 330.6,125.0 333.4,116.0 337.7,107.0 342.7,99.0 347.6,94.0 357.0,87.8 367.0,83.4 378.0,80.3 389.0,79.3 397.0,79.8 403.0,81.5 408.0,84.4 414.0,89.7 414.0,125.0Z" fill="#f814f8" fill-rule="evenodd"/>
<path d="M403.0,125.0 336.9,125.0 339.2,117.0 343.2,108.0 347.0,101.9 351.9,97.0 359.7,92.0 369.0,87.9 379.0,85.2 387.0,84.5 395.0,85.3 401.0,87.5 404.0,89.4 406.8,92.0 410.1,97.0 411.2,102.0 410.6,107.0 409.1,111.0 405.1,119.0 403.0,125.0Z" fill="#fa0dfa" fill-rule="evenodd"/>
<path d="M393.0,125.0 344.1,125.0 345.7,118.0 348.6,111.0 352.0,105.7 356.7,101.0 363.0,96.9 371.0,93.5 379.0,91.4 386.0,90.7 392.0,91.3 397.2,93.0 401.3,96.0 403.4,100.0 403.5,104.0 402.2,108.0 393.4,125.0 393.0,125.0Z" fill="#fd08fd" fill-rule="evenodd"/>
<path d="M382.0,125.0 351.4,125.0 352.4,119.0 354.9,113.0 358.6,108.0 363.0,104.3 369.2,101.0 377.0,98.7 384.0,98.0 390.0,98.9 392.4,100.0 394.0,101.7 394.4,104.0 394.0,106.0 390.8,112.0 382.5,125.0 382.0,125.0Z" fill="#ff04ff" fill-rule="evenodd"/>
</g>
<path d="M283.0,38.4 293.0,43.9 296.0,44.3 300.0,43.5 306.0,40.0 313.0,33.4 324.0,28.7 332.0,23.1 337.4,20.0 341.0,18.6 351.0,17.1 357.7,15.0 364.0,12.1 372.0,7.4 379.2,4.0M283.0,45.7 290.0,49.4 293.0,50.3 297.0,50.3 302.0,49.0 307.0,46.4 316.0,40.1 329.0,33.6 343.0,25.0 360.0,18.6 372.0,12.0 382.0,8.6 392.2,4.0M283.0,53.3 289.0,55.1 295.0,55.8 300.0,55.3 304.4,54.0 330.0,40.9 351.0,28.0 363.0,22.5 373.0,16.9 385.0,13.8 396.7,10.0 405.1,6.0 410.7,4.0M283.0,60.4 291.0,61.7 295.0,61.8 301.0,61.0 306.0,59.5 327.0,50.7 352.0,34.9 373.0,23.9 377.0,22.5 394.0,18.7 404.0,17.1 414.0,13.2M283.0,67.7 298.0,67.8 306.0,66.2 318.0,60.9 326.0,58.3 331.0,56.1 338.1,52.0 350.0,44.0 361.0,39.0 375.0,31.2 396.0,25.8 414.0,22.6M283.0,75.9 298.0,75.8 307.0,74.1 321.3,67.0 335.0,61.3 352.0,52.6 365.0,48.5 378.0,42.0 403.0,35.6 414.0,33.5M283.0,86.3 296.0,86.6 304.0,85.2 312.0,81.9 324.8,74.0 333.0,69.6 356.0,59.4 380.0,52.3 414.0,45.6M283.0,105.3 293.0,106.2 298.0,104.6 302.0,101.7 317.0,89.2 325.9,83.0 343.0,72.2 357.0,65.9 367.0,62.6 377.0,60.2 399.0,56.3 414.0,54.6M307.6,125.0 313.5,109.0 316.5,104.0 320.3,99.0 328.4,91.0 348.7,76.0 361.0,70.5 375.0,66.5 402.0,62.5 414.0,61.9M317.9,125.0 323.2,111.0 326.7,105.0 330.9,99.0 337.6,92.0 352.0,80.7 364.0,75.4 379.0,71.4 404.0,69.2 410.0,69.2 414.0,70.0M326.9,125.0 329.4,117.0 332.1,111.0 335.9,104.0 340.1,98.0 343.7,94.0 347.0,91.3 353.0,87.1 358.6,84.0 366.0,80.9 375.0,78.2 382.0,76.9 390.0,76.4 398.0,76.6 404.0,77.7 409.0,79.7 414.0,83.2M335.6,125.0 337.9,117.0 341.9,108.0 346.0,101.4 350.1,97.0 358.0,91.7 368.0,87.2 378.0,84.3 387.0,83.4 395.0,84.1 402.0,86.6 407.6,91.0 410.0,94.0 411.6,97.0 412.7,102.0 412.2,107.0 410.8,111.0 406.8,119.0 405.2,125.0M345.7,125.0 347.3,118.0 350.0,111.5 353.6,106.0 357.7,102.0 363.9,98.0 371.0,95.0 379.0,92.8 386.0,92.2 392.0,92.9 397.0,94.7 400.9,98.0 402.0,101.0 401.8,104.0 400.9,107.0 391.1,125.0" fill="none" stroke="#703070" stroke-opacity="0.42" stroke-width="0.5"/>
<path d="M287,5.5 L293,12.8 L320,12.3 L345,11.5 L360,10.3 L372,8 L378,7.4 L404.6,6.2 L411.7,53 L412.7,90 L410.4,123.4 L284.5,123.5 L284.5,60 Z" fill="url(#grid)"/>
<path d="M286.5,5.5 L293.2,12.8 L293.2,40 L288,46 L288,123.5 L284.5,123.5 L284.5,7 Z" fill="url(#wallb)"/>
<path d="M284.5,7 L286.5,5.5 L287.5,6.6 L287.5,123.5 L284.5,123.5 Z" fill="#e448e4"/>
</g>
<rect x="283.5" y="112.8" width="24.5" height="11" fill="#000"/><rect x="284.6" y="114.2" width="22.3" height="2.1" fill="#fff"/><text x="284.6" y="122.3" font-size="7.22" fill="#e8e8e8">0.5 µm</text>
<text transform="translate(274.01 15.69) scale(1.014 1)" font-size="21.09" font-weight="bold" fill="#000">b</text>
<text x="344.5" y="134.6" font-size="10.2" text-anchor="middle" font-weight="normal" fill="#111" >2910/150 : PA</text>
<g clip-path="url(#cc)">
<rect x="421.0" y="7.0" width="128.0" height="119.0" fill="#ffffff"/>
<g>
<path d="M468.0,47.2 462.0,47.9 457.0,47.1 453.2,45.0 451.1,42.0 450.4,38.0 451.8,33.0 455.1,28.0 459.2,24.0 463.0,21.4 469.0,18.7 474.0,17.2 481.0,16.3 487.0,16.4 492.0,17.4 497.0,19.5 499.8,22.0 500.9,25.0 500.5,28.0 498.7,31.0 496.0,33.6 490.0,37.5 480.0,42.7 474.0,45.4 468.0,47.2ZM437.0,108.1 428.0,108.9 421.0,107.7 421.0,88.2 426.0,84.6 434.0,80.4 444.0,76.5 454.0,73.5 461.0,72.1 468.0,71.9 472.9,73.0 475.7,75.0 476.8,77.0 477.0,79.0 475.9,83.0 472.6,88.0 467.0,93.6 460.0,98.7 450.0,104.4 444.0,106.5 437.0,108.1ZM549.0,126.0 507.4,126.0 506.6,122.0 506.4,117.0 507.3,112.0 508.7,108.0 510.9,104.0 514.0,100.0 518.0,96.2 523.0,92.8 528.0,90.3 535.0,87.8 541.0,86.4 549.0,85.3 549.0,126.0ZM479.0,126.0 440.1,126.0 440.0,122.0 440.7,119.0 442.6,115.0 445.0,112.1 448.0,109.6 450.0,108.5 454.0,107.4 461.0,107.4 469.0,109.5 473.0,111.8 475.6,114.0 478.0,117.0 479.4,120.0 479.9,125.0 479.8,126.0 479.0,126.0Z" fill="#feeeee" fill-rule="evenodd"/>
<path d="M469.0,44.2 464.0,44.9 460.0,44.4 457.0,42.9 454.9,40.0 454.6,37.0 455.6,33.0 458.4,28.0 461.3,25.0 465.0,22.3 469.0,20.4 475.0,18.6 479.0,18.1 484.0,18.0 488.0,18.5 492.0,19.8 495.0,22.0 496.1,24.0 495.9,27.0 494.8,29.0 492.0,31.9 478.0,40.5 474.0,42.5 469.0,44.2ZM438.0,105.1 433.0,105.9 428.0,105.8 424.0,104.9 421.0,103.4 421.0,92.0 425.0,88.2 431.0,84.6 453.0,76.4 460.0,74.7 465.0,74.4 469.0,75.1 471.8,77.0 472.7,80.0 471.8,83.0 468.9,87.0 465.0,90.7 450.0,100.5 444.0,103.3 438.0,105.1ZM549.0,126.0 512.7,126.0 511.7,121.0 511.7,116.0 512.8,111.0 514.5,107.0 517.2,103.0 520.0,100.0 523.8,97.0 528.0,94.5 538.0,90.7 549.0,88.8 549.0,126.0ZM477.0,126.0 442.3,126.0 442.2,123.0 443.6,118.0 445.8,115.0 448.0,113.0 451.0,111.2 454.0,110.2 461.0,109.5 468.0,111.2 471.0,112.7 474.0,115.2 476.2,118.0 477.5,121.0 477.8,125.0 477.7,126.0 477.0,126.0Z" fill="#fde2e2" fill-rule="evenodd"/>
<path d="M469.0,42.2 465.0,42.7 461.0,42.1 459.0,40.8 457.5,38.0 457.6,35.0 459.2,30.0 461.2,27.0 464.0,24.4 467.0,22.5 471.0,20.7 476.0,19.4 480.0,19.0 484.0,19.0 488.0,19.7 491.1,21.0 493.3,23.0 494.0,25.0 493.7,27.0 492.5,29.0 490.0,31.4 476.0,39.4 469.0,42.2ZM437.0,104.0 432.0,104.6 428.0,104.3 424.0,103.0 421.5,101.0 421.0,100.1 421.0,95.0 422.9,92.0 426.0,89.1 430.0,86.5 434.0,84.7 456.0,76.9 460.0,76.1 464.0,76.0 467.0,76.5 469.4,78.0 470.2,80.0 469.6,83.0 467.6,86.0 464.0,89.5 457.0,94.4 447.0,100.5 442.0,102.7 437.0,104.0ZM549.0,126.0 516.3,126.0 515.1,121.0 515.1,116.0 516.3,111.0 518.8,106.0 524.0,100.3 531.0,95.8 540.0,92.6 549.0,91.1 549.0,126.0ZM476.0,126.0 443.8,126.0 443.6,123.0 445.3,118.0 449.0,114.0 454.0,111.6 458.0,110.8 461.0,110.8 465.0,111.4 468.0,112.5 473.0,116.0 474.6,118.0 475.9,121.0 476.4,124.0 476.0,126.0Z" fill="#fcd6d6" fill-rule="evenodd"/>
<path d="M470.0,40.2 466.0,40.8 463.0,40.4 461.0,39.1 460.0,37.3 459.8,34.0 460.8,30.0 462.6,27.0 464.7,25.0 471.0,21.5 479.0,19.7 483.0,19.7 487.0,20.4 490.0,21.7 491.6,23.0 492.4,25.0 492.1,27.0 490.9,29.0 489.0,30.8 483.0,34.4 470.0,40.2ZM437.0,103.1 432.0,103.6 428.0,103.2 424.8,102.0 422.7,100.0 422.0,98.0 422.4,95.0 424.3,92.0 427.0,89.5 434.0,85.6 455.0,78.1 459.0,77.3 463.0,77.1 466.0,77.8 467.6,79.0 468.3,81.0 467.4,84.0 465.1,87.0 462.0,89.8 447.0,99.5 442.0,101.7 437.0,103.1ZM549.0,126.0 519.2,126.0 517.8,120.0 518.0,115.0 519.5,110.0 522.5,105.0 527.0,100.7 533.0,97.1 540.0,94.6 549.0,92.9 549.0,126.0ZM475.0,126.0 445.0,126.0 444.8,123.0 445.6,120.0 446.6,118.0 450.0,114.7 455.0,112.3 459.0,111.7 462.0,111.8 468.0,113.6 472.5,117.0 474.8,121.0 475.2,124.0 475.0,126.0Z" fill="#fbcaca" fill-rule="evenodd"/>
<path d="M467.0,39.0 465.0,38.8 463.0,37.6 462.0,36.0 461.6,33.0 462.1,30.0 463.1,28.0 464.8,26.0 467.4,24.0 474.0,21.2 481.0,20.3 487.0,21.2 489.0,22.2 490.8,24.0 491.1,26.0 490.4,28.0 488.6,30.0 486.0,31.8 473.0,37.7 467.0,39.0ZM438.0,102.2 431.0,102.8 428.0,102.3 425.3,101.0 423.6,99.0 423.2,97.0 423.6,95.0 424.7,93.0 428.0,89.7 433.0,86.8 453.0,79.6 457.0,78.5 461.0,78.1 464.0,78.6 466.1,80.0 466.6,82.0 466.0,84.0 463.7,87.0 461.0,89.4 447.0,98.6 443.0,100.6 438.0,102.2ZM549.0,126.0 521.6,126.0 520.2,121.0 520.3,115.0 521.8,110.0 525.1,105.0 529.7,101.0 535.0,98.0 542.0,95.7 549.0,94.4 549.0,126.0ZM473.0,126.0 446.0,126.0 445.8,123.0 447.2,119.0 448.7,117.0 451.0,115.1 456.0,113.0 462.0,112.7 468.0,114.6 472.0,117.9 473.3,120.0 474.2,123.0 474.0,126.0 473.0,126.0Z" fill="#f9bdbd" fill-rule="evenodd"/>
<path d="M470.0,37.2 467.0,37.2 465.0,36.4 463.7,35.0 463.1,33.0 463.2,30.0 464.2,28.0 468.0,24.3 474.0,21.7 480.0,20.8 486.0,21.6 488.0,22.5 489.5,24.0 490.0,25.0 489.8,27.0 488.4,29.0 486.0,31.0 479.0,34.4 470.0,37.2ZM435.0,102.0 429.0,101.7 427.0,100.9 424.9,99.0 424.3,97.0 424.6,95.0 426.5,92.0 429.0,89.8 436.0,86.2 455.0,79.8 461.0,79.1 463.9,80.0 464.8,81.0 465.0,83.0 464.1,85.0 461.4,88.0 457.6,91.0 449.0,96.8 444.0,99.5 439.0,101.3 435.0,102.0ZM549.0,126.0 523.8,126.0 522.5,122.0 522.1,118.0 522.5,114.0 524.0,110.0 526.6,106.0 529.7,103.0 534.0,100.2 538.0,98.4 543.0,96.9 549.0,95.8 549.0,126.0ZM473.0,126.0 446.9,126.0 446.7,123.0 448.2,119.0 452.0,115.4 457.0,113.5 462.0,113.4 467.0,114.9 471.0,118.0 473.1,122.0 473.0,126.0Z" fill="#f8aeae" fill-rule="evenodd"/>
<path d="M475.0,35.0 469.0,36.0 467.0,35.6 465.0,34.0 464.2,32.0 464.3,30.0 465.1,28.0 466.8,26.0 472.0,22.9 478.0,21.5 484.0,21.7 487.0,22.8 488.4,24.0 488.9,25.0 488.8,27.0 486.3,30.0 482.0,32.5 475.0,35.0ZM437.0,101.2 433.0,101.5 430.0,101.2 428.0,100.5 426.1,99.0 425.3,97.0 425.6,95.0 427.5,92.0 429.8,90.0 437.0,86.4 454.0,80.8 460.0,80.1 462.0,80.6 463.0,81.4 463.5,83.0 462.8,85.0 461.2,87.0 457.8,90.0 446.0,97.9 442.0,99.7 437.0,101.2ZM549.0,126.0 525.8,126.0 524.4,122.0 523.9,118.0 524.4,114.0 525.9,110.0 527.9,107.0 530.9,104.0 535.0,101.3 539.0,99.5 549.0,97.1 549.0,126.0ZM472.0,126.0 447.8,126.0 447.6,123.0 449.2,119.0 452.4,116.0 457.0,114.3 462.0,114.1 466.0,115.2 470.0,118.0 472.2,122.0 472.5,124.0 472.0,126.0Z" fill="#f6a0a0" fill-rule="evenodd"/>
<path d="M476.0,34.1 471.0,34.9 469.0,34.8 467.0,34.0 465.9,33.0 465.2,31.0 466.0,28.0 467.8,26.0 470.0,24.4 476.0,22.3 480.0,21.9 483.0,22.1 485.8,23.0 487.2,24.0 488.0,26.0 486.4,29.0 482.0,31.9 476.0,34.1ZM439.0,100.2 433.0,100.9 428.8,100.0 427.4,99.0 426.3,97.0 426.9,94.0 428.4,92.0 430.8,90.0 438.0,86.5 455.0,81.3 459.0,81.1 461.3,82.0 461.9,83.0 461.5,85.0 460.0,87.0 456.7,90.0 447.0,96.7 439.0,100.2ZM549.0,126.0 527.7,126.0 526.2,122.0 525.7,118.0 526.2,114.0 527.3,111.0 529.1,108.0 532.0,105.0 535.0,102.9 539.0,100.9 544.0,99.2 549.0,98.3 549.0,126.0ZM471.0,126.0 448.6,126.0 448.4,123.0 450.0,119.2 453.0,116.5 457.0,114.9 462.0,114.8 466.0,116.0 469.8,119.0 471.6,123.0 471.6,125.0 471.4,126.0 471.0,126.0Z" fill="#f49191" fill-rule="evenodd"/>
<path d="M473.0,34.0 469.0,33.7 467.0,32.4 466.3,31.0 466.9,28.0 470.0,25.1 475.0,23.0 480.0,22.4 484.1,23.0 485.9,24.0 486.7,25.0 487.0,26.0 486.3,28.0 484.0,30.1 479.0,32.6 473.0,34.0ZM437.0,100.1 434.0,100.4 431.0,100.0 429.0,99.2 427.7,98.0 427.3,97.0 427.4,95.0 428.4,93.0 430.4,91.0 437.0,87.4 451.0,83.0 457.0,82.1 459.7,83.0 459.9,85.0 458.7,87.0 453.1,92.0 445.0,97.3 441.0,99.0 437.0,100.1ZM549.0,126.0 529.5,126.0 527.9,122.0 527.4,118.0 527.7,115.0 528.6,112.0 530.3,109.0 533.0,106.0 536.0,103.8 540.0,101.8 549.0,99.4 549.0,126.0ZM470.0,126.0 449.4,126.0 449.2,123.0 450.3,120.0 453.5,117.0 458.0,115.4 462.0,115.4 466.0,116.7 469.0,119.1 470.2,121.0 470.8,123.0 470.6,126.0 470.0,126.0Z" fill="#f38282" fill-rule="evenodd"/>
<path d="M475.0,33.1 471.0,33.3 468.0,32.0 467.4,31.0 467.4,29.0 469.6,26.0 473.3,24.0 478.0,22.9 483.0,23.4 485.6,25.0 485.9,27.0 483.2,30.0 479.0,32.0 475.0,33.1ZM439.0,99.2 434.0,99.8 430.3,99.0 428.3,97.0 428.7,94.0 430.2,92.0 432.8,90.0 440.0,86.8 452.0,83.6 455.0,83.3 457.5,84.0 458.0,85.0 457.2,87.0 452.2,92.0 445.0,96.8 439.0,99.2ZM549.0,126.0 531.2,126.0 529.5,122.0 529.0,118.0 529.3,115.0 530.3,112.0 532.0,109.1 534.0,106.9 537.0,104.7 540.2,103.0 549.0,100.5 549.0,126.0ZM469.0,126.0 450.2,126.0 450.0,123.0 451.2,120.0 454.0,117.5 458.0,116.1 462.0,116.1 466.0,117.5 468.8,120.0 469.8,122.0 470.1,124.0 469.8,126.0 469.0,126.0Z" fill="#f17272" fill-rule="evenodd"/>
<path d="M477.0,32.1 473.0,32.7 470.0,32.2 468.6,31.0 468.2,30.0 468.7,28.0 472.0,25.2 476.0,23.8 481.0,23.6 482.8,24.0 484.3,25.0 484.8,27.0 483.4,29.0 480.2,31.0 477.0,32.1ZM437.0,99.1 432.0,98.8 430.3,98.0 429.4,97.0 429.1,96.0 429.6,94.0 432.3,91.0 437.9,88.0 445.0,85.8 452.0,84.6 455.0,85.2 455.5,86.0 455.0,88.0 450.0,93.0 443.0,97.3 437.0,99.1ZM549.0,126.0 533.0,126.0 531.2,122.0 530.6,118.0 530.9,115.0 532.0,112.0 533.9,109.0 536.0,107.0 542.0,103.5 549.0,101.6 549.0,126.0ZM468.0,126.0 451.1,126.0 450.8,123.0 452.2,120.0 454.5,118.0 458.0,116.7 462.0,116.7 466.0,118.3 468.5,121.0 469.2,123.0 469.2,125.0 468.9,126.0 468.0,126.0Z" fill="#f06262" fill-rule="evenodd"/>
<path d="M474.0,32.0 471.0,31.6 469.3,30.0 469.7,28.0 471.7,26.0 475.0,24.6 479.0,24.0 482.0,24.6 483.6,26.0 483.2,28.0 480.9,30.0 478.0,31.2 474.0,32.0ZM439.0,98.2 435.0,98.6 432.0,98.0 430.6,97.0 430.2,96.0 430.5,94.0 432.0,92.0 434.8,90.0 441.0,87.4 449.0,85.6 452.0,85.9 453.0,86.6 453.4,88.0 453.0,89.0 449.2,93.0 444.0,96.3 439.0,98.2ZM549.0,126.0 534.8,126.0 532.8,122.0 532.2,118.0 533.2,113.0 534.9,110.0 536.9,108.0 542.0,104.8 549.0,102.7 549.0,126.0ZM468.0,126.0 451.9,126.0 451.6,123.0 453.0,120.2 455.0,118.5 458.0,117.4 462.0,117.4 465.0,118.6 467.6,121.0 468.4,124.0 468.0,126.0Z" fill="#ee5252" fill-rule="evenodd"/>
<path d="M476.0,31.1 471.9,31.0 470.6,30.0 470.8,28.0 473.0,26.0 476.0,25.0 480.0,24.9 482.1,26.0 482.4,27.0 481.0,29.0 476.0,31.1ZM441.0,97.1 437.0,97.9 434.0,97.8 432.0,96.9 431.2,95.0 433.0,92.0 438.0,89.0 446.0,86.6 449.0,86.4 451.0,87.1 451.7,88.0 451.7,89.0 449.5,92.0 445.4,95.0 441.0,97.1ZM549.0,126.0 536.6,126.0 534.5,122.0 533.8,118.0 534.9,113.0 537.8,109.0 542.2,106.0 549.0,103.8 549.0,126.0ZM467.0,126.0 452.9,126.0 452.5,123.0 453.4,121.0 456.0,118.9 459.0,118.0 462.0,118.2 464.2,119.0 466.6,121.0 467.5,124.0 467.0,126.0Z" fill="#ec4040" fill-rule="evenodd"/>
<path d="M477.0,30.1 473.0,30.2 471.8,29.0 472.1,28.0 473.1,27.0 476.0,25.8 478.0,25.7 480.0,26.4 480.5,27.0 480.4,28.0 479.4,29.0 477.0,30.1ZM439.0,97.0 435.0,97.2 433.0,96.2 432.5,95.0 433.2,93.0 437.0,90.0 442.0,88.0 447.0,87.2 449.8,88.0 450.3,89.0 450.1,90.0 447.5,93.0 443.0,95.7 439.0,97.0ZM549.0,126.0 538.5,126.0 536.2,122.0 535.4,118.0 536.2,114.0 538.8,110.0 543.1,107.0 549.0,105.0 549.0,126.0ZM466.0,126.0 453.9,126.0 453.6,123.0 454.6,121.0 457.0,119.3 459.0,118.8 462.0,119.0 464.2,120.0 466.1,122.0 466.5,124.0 466.0,126.0Z" fill="#eb2d2d" fill-rule="evenodd"/>
<path d="M476.0,29.1 474.5,29.0 474.4,28.0 476.0,27.4 477.5,28.0 476.0,29.1ZM440.0,96.2 437.0,96.5 434.9,96.0 434.0,95.0 434.5,93.0 437.0,90.7 442.0,88.6 446.0,87.9 448.0,88.4 448.7,89.0 448.4,91.0 446.5,93.0 443.3,95.0 440.0,96.2ZM549.0,126.0 540.5,126.0 538.0,122.0 537.2,118.0 537.9,114.0 540.0,110.9 544.0,108.0 549.0,106.2 549.0,126.0ZM464.0,126.0 455.3,126.0 454.8,125.0 454.8,123.0 456.0,121.1 458.0,120.0 462.0,120.0 464.0,121.2 465.2,123.0 465.2,125.0 464.7,126.0 464.0,126.0Z" fill="#e91b1b" fill-rule="evenodd"/>
<path d="M441.0,95.2 437.0,95.3 436.0,94.5 435.9,93.0 437.9,91.0 441.0,89.5 445.0,88.7 447.0,89.3 447.5,90.0 446.5,92.0 443.9,94.0 441.0,95.2ZM549.0,126.0 542.7,126.0 539.9,122.0 539.0,118.0 539.5,115.0 541.2,112.0 545.0,109.1 549.0,107.5 549.0,126.0ZM462.0,126.0 457.4,126.0 456.6,125.0 456.6,123.0 457.3,122.0 459.0,121.2 462.0,121.6 463.0,122.4 463.6,124.0 463.0,125.6 462.0,126.0Z" fill="#e60909" fill-rule="evenodd"/>
</g>
<path d="M468.0,46.1 463.0,46.7 458.0,46.0 454.4,44.0 452.5,41.0 452.1,37.0 453.4,33.0 456.5,28.0 460.0,24.4 464.0,21.7 469.0,19.4 475.0,17.7 480.0,17.1 486.0,17.1 490.0,17.8 495.0,19.8 497.6,22.0 498.6,24.0 498.5,27.0 496.9,30.0 494.0,32.8 489.0,36.3 480.0,41.4 473.0,44.6 468.0,46.1M421.0,89.8 425.0,86.5 432.0,82.6 448.0,76.6 458.0,73.7 465.0,72.9 470.0,73.5 473.2,75.0 474.2,76.0 475.0,78.0 474.8,81.0 473.5,84.0 469.0,89.5 460.0,96.5 450.0,102.4 442.0,105.6 434.0,107.3 427.0,107.4 421.0,105.8M509.5,126.0 508.4,119.0 509.3,112.0 512.4,105.0 517.0,99.3 523.0,94.6 531.0,90.7 539.0,88.3 549.0,86.7M441.0,126.0 440.8,123.0 441.3,120.0 442.6,117.0 445.0,113.7 448.0,111.2 451.0,109.6 455.0,108.5 459.0,108.2 463.0,108.5 467.0,109.6 471.0,111.4 474.0,113.5 476.3,116.0 478.5,120.0 479.1,123.0 479.0,126.0M466.0,42.1 463.0,41.9 460.7,41.0 459.0,39.3 458.3,37.0 458.7,33.0 460.3,29.0 462.6,26.0 465.0,24.0 472.0,20.7 480.0,19.2 484.0,19.3 488.0,20.1 491.0,21.4 492.7,23.0 493.5,25.0 493.1,27.0 491.9,29.0 489.0,31.6 474.0,39.8 470.0,41.3 466.0,42.1M435.0,104.0 430.0,104.2 426.0,103.4 423.3,102.0 421.6,100.0 421.0,98.0 421.5,95.0 423.4,92.0 427.0,88.8 435.0,84.6 456.0,77.2 460.0,76.5 464.0,76.4 467.0,77.1 469.0,78.8 469.5,81.0 468.5,84.0 466.1,87.0 462.0,90.6 446.0,100.6 441.0,102.7 435.0,104.0M517.3,126.0 516.0,120.0 516.4,114.0 518.6,108.0 522.3,103.0 527.0,99.0 533.0,95.7 540.0,93.3 549.0,91.7M444.2,126.0 444.0,123.0 444.8,120.0 446.0,117.7 448.0,115.4 453.0,112.3 456.0,111.4 460.0,111.1 464.0,111.5 467.0,112.5 472.0,115.6 474.1,118.0 475.5,121.0 475.8,126.0M470.0,38.1 467.0,38.4 465.0,38.0 463.5,37.0 462.4,35.0 462.1,32.0 462.9,29.0 464.2,27.0 467.0,24.5 473.0,21.7 480.0,20.5 484.0,20.7 487.0,21.5 489.0,22.5 490.4,24.0 490.7,25.0 490.5,27.0 489.2,29.0 486.8,31.0 480.0,34.6 470.0,38.1M437.0,102.2 430.0,102.4 427.0,101.6 424.7,100.0 423.7,98.0 424.0,95.0 425.9,92.0 428.0,90.0 435.0,86.2 454.0,79.5 461.0,78.5 464.0,79.0 465.4,80.0 466.1,82.0 465.5,84.0 463.3,87.0 460.0,89.9 447.0,98.4 442.0,100.7 437.0,102.2M522.3,126.0 520.8,120.0 521.0,115.0 522.6,110.0 526.0,105.0 530.0,101.4 535.0,98.6 541.0,96.4 549.0,94.9M446.3,126.0 446.1,123.0 446.6,121.0 449.1,117.0 451.0,115.4 454.0,113.9 460.0,112.8 466.0,113.9 470.8,117.0 473.4,121.0 473.9,123.0 473.7,126.0M474.0,35.0 471.0,35.6 468.0,35.4 466.0,34.4 465.0,33.1 464.5,31.0 464.9,29.0 466.2,27.0 468.0,25.3 473.0,22.7 479.0,21.6 484.3,22.0 486.8,23.0 488.0,24.0 488.5,25.0 488.4,27.0 485.9,30.0 481.0,32.8 474.0,35.0M436.0,101.1 430.0,100.9 427.7,100.0 425.9,98.0 425.6,96.0 426.3,94.0 427.8,92.0 430.2,90.0 437.0,86.5 454.0,81.0 460.0,80.5 461.8,81.0 462.8,82.0 462.8,84.0 461.7,86.0 458.7,89.0 454.7,92.0 445.0,98.2 440.0,100.2 436.0,101.1M526.4,126.0 524.8,121.0 524.6,116.0 526.1,111.0 528.6,107.0 532.0,103.8 537.0,100.8 543.0,98.6 549.0,97.5M448.1,126.0 448.0,122.0 450.3,118.0 452.0,116.6 455.0,115.0 460.0,114.2 465.0,115.1 469.6,118.0 471.1,120.0 471.9,122.0 471.9,126.0M477.0,33.0 472.0,33.8 469.0,33.4 467.0,31.8 466.8,29.0 467.9,27.0 470.0,25.3 475.0,23.1 481.0,22.6 483.4,23.0 485.5,24.0 486.7,26.0 486.5,27.0 485.1,29.0 482.0,31.1 477.0,33.0M436.0,100.1 431.0,99.8 429.2,99.0 428.0,97.8 427.5,96.0 428.1,94.0 431.0,90.8 437.0,87.6 449.0,83.8 456.0,82.5 458.0,82.7 459.0,83.3 459.3,85.0 458.2,87.0 451.5,93.0 443.0,98.1 436.0,100.1M530.1,126.0 528.4,122.0 527.9,117.0 528.8,113.0 530.9,109.0 534.0,105.7 538.0,103.1 543.0,101.1 549.0,99.8M449.7,126.0 449.7,122.0 451.4,119.0 455.0,116.5 460.0,115.5 465.0,116.5 468.6,119.0 470.3,122.0 470.3,126.0M476.0,32.2 473.0,32.5 470.0,31.8 468.6,30.0 469.0,28.0 472.0,25.4 476.0,23.9 481.0,23.8 483.9,25.0 484.5,27.0 483.1,29.0 479.7,31.0 476.0,32.2M435.0,99.0 431.0,98.1 429.8,97.0 429.5,96.0 430.5,93.0 433.0,90.7 438.3,88.0 446.0,85.7 452.0,84.9 454.5,86.0 454.8,87.0 453.9,89.0 448.0,94.3 441.0,97.9 435.0,99.0M533.6,126.0 531.7,122.0 531.1,118.0 531.7,114.0 533.1,111.0 535.5,108.0 539.0,105.4 544.0,103.2 549.0,102.0M451.3,126.0 451.1,123.0 451.8,121.0 453.0,119.4 456.0,117.5 460.0,116.8 464.0,117.5 467.0,119.5 468.2,121.0 468.9,123.0 468.7,126.0M475.0,31.0 473.0,31.0 471.1,30.0 470.8,29.0 472.0,27.0 474.0,25.8 477.0,25.1 479.0,25.0 481.4,26.0 481.8,27.0 480.5,29.0 478.0,30.3 475.0,31.0M440.0,97.2 436.0,97.8 433.0,97.1 431.8,96.0 431.9,94.0 434.6,91.0 441.0,88.0 448.0,86.7 450.0,87.0 451.0,87.9 451.2,89.0 450.8,90.0 448.1,93.0 444.0,95.6 440.0,97.2M537.2,126.0 535.4,123.0 534.4,119.0 534.7,115.0 536.0,112.0 538.0,109.5 541.0,107.2 545.0,105.3 549.0,104.2M453.2,126.0 452.9,123.0 454.0,120.8 456.3,119.0 460.0,118.2 463.6,119.0 466.0,120.8 467.1,123.0 466.8,126.0M439.0,96.1 436.0,96.0 434.7,95.0 434.9,93.0 437.0,91.0 441.0,89.1 444.0,88.3 446.0,88.2 448.2,89.0 448.4,90.0 448.1,91.0 446.2,93.0 442.8,95.0 439.0,96.1M541.2,126.0 539.1,123.0 538.0,120.0 537.8,117.0 538.6,114.0 539.8,112.0 542.0,109.8 545.0,108.0 549.0,106.6M455.8,126.0 455.1,124.0 455.8,122.0 457.0,120.9 460.0,120.1 463.0,120.9 464.2,122.0 464.9,124.0 464.2,126.0" fill="none" stroke="#703030" stroke-opacity="0.5" stroke-width="0.5"/>
<path d="M423,9 L430,15.5 L534,16.3 L534,85 L546.6,101 L546.6,123.8 L423,123.8 Z" fill="url(#gridc)"/>
<path d="M423,120.8 L546.6,120.8 L546.6,123.8 L423,123.8 Z" fill="#f07878" opacity="0.55"/>
<path d="M423,8.2 L430,15.5 L430,123.8 L423,123.8 Z" fill="url(#wallc)"/>
</g>
<g fill="none" stroke="#ee2222" stroke-width="1.8" stroke-dasharray="4.6 2.6">
<rect x="474.6" y="39.3" width="26.6" height="21.8" rx="4.5"/>
<rect x="457.3" y="65.8" width="26.6" height="22.4" rx="4.5"/>
<rect x="490" y="65.8" width="28" height="22.4" rx="4.5"/>
<path d="M457.4,51.2 H474"/>
<path d="M464.8,53.5 L470,56.2" stroke-dasharray="none"/>
<path d="M476,88.5 V104"/>
<path d="M518,86 L525.5,94.5"/>
</g>
<path d="M473.5,102 L476,106 L478.5,102" fill="none" stroke="#e82020" stroke-width="1.3"/>
<text x="487" y="53.6" font-size="10" text-anchor="middle" font-weight="normal" fill="#222" >#3</text>
<text x="470.6" y="80.6" font-size="10" text-anchor="middle" font-weight="normal" fill="#222" >#1</text>
<text x="504" y="80.6" font-size="10" text-anchor="middle" font-weight="normal" fill="#222" >#2</text>
<rect x="425.3" y="111.5" width="24.5" height="11" fill="#000"/><rect x="426.40000000000003" y="112.9" width="22.3" height="2.1" fill="#fff"/><text x="426.40000000000003" y="121.0" font-size="7.22" fill="#e8e8e8">0.5 µm</text>
<text transform="translate(410.78 15.7) scale(0.897 1)" font-size="20.0" font-weight="bold" fill="#000">c</text>
<text x="454.2" y="134.6" font-size="10.9" fill="#111">640/80: TiO<tspan font-size="7.5" dy="2.8">2</tspan></text>
<g clip-path="url(#cd)">
<rect x="555.0" y="5.0" width="131.0" height="121.0" fill="#fef7fe"/>
<g>
<path d="M686.0,126.0 555.0,126.0 555.0,36.1 561.0,38.2 566.7,38.0 580.4,34.0 590.0,29.2 598.3,27.0 600.0,25.9 604.4,21.0 608.1,18.0 612.0,15.7 620.0,12.0 631.5,5.0 686.0,5.0 686.0,126.0Z" fill="#fce6fc" fill-rule="evenodd"/>
<path d="M686.0,126.0 555.0,126.0 555.0,42.5 563.0,42.7 571.0,41.7 585.0,37.6 599.0,32.8 602.0,31.1 617.0,20.5 644.1,5.0 686.0,5.0 686.0,126.0Z" fill="#fad6fa" fill-rule="evenodd"/>
<path d="M686.0,126.0 555.0,126.0 555.0,47.5 568.0,46.3 575.0,45.1 581.0,43.7 599.0,38.3 613.0,30.8 622.0,24.2 639.0,14.3 657.9,5.0 686.0,5.0 686.0,126.0Z" fill="#f8c2f8" fill-rule="evenodd"/>
<path d="M686.0,126.0 555.0,126.0 555.0,52.7 583.0,47.6 600.0,42.7 616.0,35.5 640.0,19.9 647.0,16.1 663.0,9.5 676.9,5.0 686.0,5.0 686.0,126.0Z" fill="#f6aff6" fill-rule="evenodd"/>
<path d="M686.0,126.0 555.0,126.0 555.0,61.1 563.0,57.4 574.0,55.6 587.0,52.5 603.0,46.8 632.0,33.4 648.0,23.4 672.2,13.0 686.0,8.7 686.0,126.0Z" fill="#f49af4" fill-rule="evenodd"/>
<path d="M686.0,126.0 555.0,126.0 555.0,77.7 560.0,75.0 570.9,68.0 583.8,61.0 603.0,52.8 618.0,45.4 636.0,38.6 654.0,28.9 671.0,20.8 677.0,18.4 686.0,15.6 686.0,126.0Z" fill="#f287f2" fill-rule="evenodd"/>
<path d="M686.0,126.0 555.0,126.0 555.0,96.1 570.0,92.7 575.2,90.0 578.0,87.5 581.0,83.7 587.6,72.0 590.5,68.0 593.9,65.0 598.8,62.0 622.9,49.0 639.0,43.3 670.0,28.6 686.0,22.6 686.0,126.0Z" fill="#f175f1" fill-rule="evenodd"/>
<path d="M686.0,126.0 555.0,126.0 555.0,113.6 579.0,103.7 583.0,101.5 586.0,99.1 588.7,96.0 591.0,92.0 596.1,78.0 598.6,73.0 602.0,69.0 607.0,65.2 621.0,56.6 627.0,53.5 639.0,49.4 651.0,43.5 673.0,34.2 686.0,29.6 686.0,126.0Z" fill="#f066f0" fill-rule="evenodd"/>
<path d="M686.0,126.0 565.3,126.0 573.5,122.0 579.0,118.6 590.0,110.0 596.1,104.0 598.2,101.0 599.7,98.0 602.6,84.0 604.8,78.0 608.0,73.2 612.9,69.0 625.0,61.4 630.0,59.2 640.0,55.8 654.0,48.4 678.0,38.9 686.0,36.4 686.0,126.0Z" fill="#f058f0" fill-rule="evenodd"/>
<path d="M686.0,126.0 584.2,126.0 599.0,111.3 603.9,105.0 606.2,100.0 607.7,88.0 609.5,82.0 613.0,76.2 618.0,71.3 625.0,67.0 641.0,60.5 656.0,52.6 680.0,43.9 686.0,42.3 686.0,126.0Z" fill="#f04df0" fill-rule="evenodd"/>
<path d="M686.0,126.0 594.1,126.0 604.0,114.9 608.1,109.0 611.0,102.0 612.8,90.0 614.0,86.0 617.4,80.0 622.0,75.2 628.0,71.4 641.0,65.2 656.0,57.4 663.0,55.0 686.0,49.0 686.0,126.0Z" fill="#f042f0" fill-rule="evenodd"/>
<path d="M686.0,126.0 602.8,126.0 609.0,118.3 613.1,111.0 615.3,105.0 618.2,92.0 620.0,87.4 623.0,82.9 627.0,79.0 632.0,75.5 649.0,65.5 657.0,61.7 667.0,58.9 681.0,57.9 686.0,56.7 686.0,126.0Z" fill="#f138f1" fill-rule="evenodd"/>
<path d="M686.0,126.0 611.3,126.0 614.3,121.0 617.0,115.1 624.7,92.0 627.8,87.0 632.0,82.7 648.3,71.0 653.0,68.2 658.0,66.0 668.0,63.5 686.0,62.4 686.0,126.0Z" fill="#f22ef2" fill-rule="evenodd"/>
<path d="M686.0,126.0 618.3,126.0 620.4,121.0 624.6,107.0 628.5,97.0 632.1,91.0 638.0,85.0 650.5,75.0 655.0,72.2 659.0,70.3 664.0,68.9 669.0,68.1 686.0,67.2 686.0,126.0Z" fill="#f425f4" fill-rule="evenodd"/>
<path d="M686.0,126.0 624.1,126.0 627.2,112.0 631.0,102.7 635.0,95.8 641.0,89.3 652.0,79.9 660.0,75.0 668.0,73.2 682.0,72.0 686.0,72.3 686.0,126.0Z" fill="#f61cf6" fill-rule="evenodd"/>
<path d="M686.0,126.0 628.8,126.0 630.2,116.0 631.9,110.0 636.0,102.3 640.2,97.0 652.0,86.4 659.0,81.6 666.0,79.2 675.0,78.6 686.0,79.4 686.0,126.0Z" fill="#f814f8" fill-rule="evenodd"/>
<path d="M686.0,126.0 633.2,126.0 634.1,115.0 636.5,109.0 641.0,102.8 654.0,91.5 659.0,88.2 664.0,86.3 669.0,85.7 674.0,86.1 682.0,88.0 686.0,88.4 686.0,126.0Z" fill="#fa0dfa" fill-rule="evenodd"/>
<path d="M686.0,126.0 638.2,126.0 637.7,119.0 638.1,115.0 640.0,111.0 643.0,107.4 648.0,102.9 657.0,95.9 660.0,94.3 664.0,93.3 668.0,93.2 672.0,93.8 681.0,96.4 686.0,97.2 686.0,126.0Z" fill="#fd08fd" fill-rule="evenodd"/>
<path d="M686.0,126.0 643.6,126.0 642.5,119.0 642.7,116.0 643.6,114.0 646.1,111.0 658.0,101.2 660.0,100.1 662.0,99.6 667.0,100.0 678.0,103.6 686.0,105.0 686.0,126.0Z" fill="#ff04ff" fill-rule="evenodd"/>
</g>
<path d="M555.0,44.5 565.0,44.2 572.8,43.0 586.0,39.3 599.0,35.0 612.0,27.0 620.0,21.3 649.3,5.0M555.0,51.6 573.0,48.9 581.0,47.2 600.0,41.8 615.0,35.0 626.0,27.3 644.0,16.4 661.0,8.9 673.4,5.0M555.0,61.1 563.0,57.4 574.0,55.6 587.0,52.5 603.0,46.8 632.0,33.4 648.0,23.4 672.2,13.0 686.0,8.7M555.0,81.1 565.0,76.0 580.1,65.0 586.9,61.0 604.0,53.4 618.8,46.0 637.0,39.2 655.0,29.6 670.0,22.5 677.0,19.6 686.0,16.8M555.0,101.7 560.0,100.0 572.0,97.2 576.0,95.5 579.0,93.5 582.0,90.5 584.5,87.0 593.3,70.0 597.4,66.0 603.0,62.3 618.0,53.6 625.1,50.0 639.0,45.3 671.0,30.5 686.0,25.0M555.0,122.4 567.0,117.0 581.0,109.6 586.0,106.5 590.2,103.0 593.0,99.7 595.1,96.0 599.1,82.0 601.5,76.0 605.0,71.2 610.0,67.2 621.0,60.2 627.0,56.9 640.0,52.3 653.0,45.7 675.0,36.8 686.0,33.0M581.7,126.0 597.4,111.0 603.0,104.1 605.0,99.9 606.6,88.0 608.3,82.0 611.7,76.0 616.8,71.0 625.0,65.9 641.0,59.5 655.0,52.0 680.0,42.8 686.0,41.1M595.8,126.0 605.0,115.6 609.0,109.7 612.0,102.0 613.9,90.0 615.0,86.6 618.2,81.0 622.9,76.0 629.0,72.1 656.0,58.3 664.0,55.7 678.0,52.8 686.0,50.6M608.1,126.0 612.2,120.0 615.6,113.0 618.4,105.0 621.3,94.0 622.9,90.0 626.0,85.3 630.0,81.3 648.2,69.0 658.0,64.1 668.0,61.6 682.0,61.0 686.0,60.3M618.3,126.0 620.4,121.0 624.6,107.0 628.5,97.0 632.1,91.0 638.0,85.0 650.5,75.0 655.0,72.2 659.0,70.3 664.0,68.9 669.0,68.1 686.0,67.2M626.0,126.0 628.8,112.0 633.8,101.0 639.0,94.1 650.0,84.1 657.0,78.9 663.0,76.3 668.0,75.3 676.0,74.7 681.0,74.4 686.0,74.8M632.3,126.0 633.4,115.0 634.7,111.0 636.8,107.0 642.5,100.0 655.0,89.4 661.0,86.0 668.0,84.3 674.0,84.5 686.0,86.6M639.3,126.0 638.7,117.0 640.0,112.8 642.0,110.0 646.0,106.0 658.0,96.6 662.0,95.0 667.0,94.7 686.0,99.1" fill="none" stroke="#703070" stroke-opacity="0.42" stroke-width="0.5"/>
<path d="M557.5,9 L563,13.6 L580,13.4 L600,12.8 L620,11.5 L640,9.4 L655,8.6 L675.4,7.4 L682.8,70 L683.5,98 L683.5,124.2 L556.3,124.2 L556.8,60 Z" fill="url(#grid)"/>
<g>
<path d="M613.5,34.5 608.0,34.6 605.5,34.0 603.5,33.1 602.3,32.0 601.5,30.5 601.5,29.0 602.1,27.5 603.5,25.9 606.0,24.2 609.0,22.9 612.0,22.1 615.5,21.8 618.5,22.1 621.0,22.7 623.1,24.0 624.3,25.5 624.6,27.0 624.2,28.5 623.2,30.0 619.5,32.7 613.5,34.5Z" fill="#f4a8aa" stroke="#904040" stroke-opacity="0.45" stroke-width="0.5"/>
<path d="M612.5,33.0 608.5,32.9 605.5,31.5 604.4,29.5 604.8,28.0 605.4,27.0 609.0,24.6 613.5,23.6 618.0,23.9 620.9,25.5 621.6,27.5 620.2,30.0 617.0,32.0 612.5,33.0Z" fill="#f39987" stroke="#904040" stroke-opacity="0.45" stroke-width="0.5"/>
<path d="M614.5,31.6 611.5,31.9 608.5,31.4 606.7,30.0 606.5,29.0 606.8,28.0 609.0,26.0 612.0,24.9 615.5,24.7 618.1,25.5 619.4,27.0 619.2,28.5 617.5,30.3 614.5,31.6Z" fill="#f17f73" stroke="#904040" stroke-opacity="0.45" stroke-width="0.5"/>
<path d="M614.0,30.6 612.0,30.8 610.0,30.5 608.7,29.5 608.5,28.5 609.8,27.0 612.0,26.0 614.5,25.8 616.8,26.5 617.5,27.5 617.3,28.5 616.0,29.7 614.0,30.6Z" fill="#ed6660" stroke="#904040" stroke-opacity="0.45" stroke-width="0.5"/>
<path d="M614.0,29.6 611.5,29.7 610.5,29.2 610.3,28.5 611.0,27.6 612.2,27.0 614.9,27.0 615.6,27.5 615.5,28.5 614.0,29.6Z" fill="#ea5452" stroke="#904040" stroke-opacity="0.45" stroke-width="0.5"/>
</g>
<ellipse cx="571" cy="94.5" rx="3.6" ry="2.8" fill="#f06050" stroke="#a04040" stroke-opacity="0.4" stroke-width="0.5"/>
<path d="M585,124.5 C586,120.5 589,118.2 592,118.2 C595,118.2 597.5,121 598,124.5 Z" fill="#ee1414"/>
<path d="M672,124 L672,113 C672,108 675,103 679,98 C681,97 683,98 683.5,100 L683.5,124 Z" fill="#ee1414"/>
<path d="M557.5,9 L563.4,13.6 L563.4,42 L559.5,48 L559.5,124.2 L556.3,124.2 Z" fill="url(#walld)"/>
<path d="M556.3,124.2 L557.5,9 L559.3,10.5 L559.3,124.2 Z" fill="#e448e4"/>
</g>
<path d="M545,106 L548,104 L548,124 L545,124 Z" fill="#ec1010"/>
<rect x="557" y="112.5" width="23" height="11.4" fill="#000"/><rect x="558.1" y="113.9" width="20.8" height="2.1" fill="#fff"/><text x="558.1" y="122.4" font-size="6.71" fill="#e8e8e8">0.5 µm</text>
<text transform="translate(552.62 15.3) scale(0.974 1)" font-size="20.14" font-weight="bold" fill="#000">d</text>
<text x="611.6" y="134.6" font-size="10.3" text-anchor="middle" fill="#111">b <tspan fill="#e82020">OR</tspan> c</text>
<g clip-path="url(#cf)">
<rect x="282.0" y="157.0" width="133.0" height="117.0" fill="#f8b4b4"/>
<g>
<path d="M415.0,274.0 282.0,274.0 282.0,157.0 415.0,157.0 415.0,274.0ZM296.8,175.0 299.5,173.0 300.1,171.0 299.0,169.1 297.4,168.0 294.0,167.0 291.0,167.0 288.1,168.0 286.1,170.0 285.9,172.0 286.4,173.0 289.0,174.9 293.0,175.7 296.8,175.0Z" fill="#f58484" fill-rule="evenodd"/>
<path d="M415.0,274.0 282.0,274.0 282.0,173.3 284.2,176.0 288.0,178.2 292.0,179.4 296.0,179.5 299.0,178.9 302.4,177.0 305.1,174.0 306.1,171.0 305.1,169.0 302.0,166.7 297.8,165.0 293.0,164.2 289.0,164.6 286.0,165.6 284.0,167.0 282.0,169.7 282.0,157.0 415.0,157.0 415.0,274.0Z" fill="#f26666" fill-rule="evenodd"/>
<path d="M415.0,274.0 282.0,274.0 282.0,177.1 286.0,179.7 290.0,181.4 294.0,182.1 299.0,181.6 303.8,180.0 306.7,178.0 310.1,174.0 311.3,171.0 310.2,169.0 307.2,167.0 301.0,164.2 296.0,162.9 292.0,162.6 288.0,163.0 285.0,164.1 282.0,166.0 282.0,157.0 415.0,157.0 415.0,274.0ZM346.3,181.0 346.9,180.0 346.0,179.4 344.0,179.4 343.0,180.0 343.2,181.0 344.0,181.3 346.3,181.0Z" fill="#f35454" fill-rule="evenodd"/>
<path d="M415.0,274.0 282.0,274.0 282.0,180.0 286.0,182.6 290.0,183.9 295.0,184.1 301.0,183.2 308.0,180.7 318.0,173.8 328.0,169.0 327.8,168.0 327.0,167.8 314.0,166.4 300.0,162.1 295.0,161.0 288.0,161.2 282.0,163.5 282.0,157.0 415.0,157.0 415.0,274.0ZM345.4,183.0 348.0,182.3 349.7,181.0 350.0,180.0 349.0,178.2 347.0,177.3 344.0,177.2 342.0,177.6 340.0,179.0 339.6,181.0 340.5,182.0 343.0,183.0 345.4,183.0Z" fill="#f44242" fill-rule="evenodd"/>
<path d="M415.0,274.0 282.0,274.0 282.0,182.5 286.0,184.5 290.0,185.3 296.0,185.3 302.0,184.3 309.1,182.0 323.0,175.3 338.0,171.9 342.0,169.5 344.0,167.0 344.0,166.0 342.8,165.0 339.0,164.0 333.0,163.8 319.0,164.4 314.0,164.2 309.0,163.3 299.0,160.4 294.0,159.6 288.0,159.8 282.0,161.8 282.0,157.0 415.0,157.0 415.0,274.0ZM345.6,184.0 349.3,183.0 351.7,181.0 352.0,179.0 351.0,177.5 348.0,175.8 344.0,175.1 340.0,175.6 338.0,177.1 337.0,180.0 337.9,182.0 341.0,183.7 345.6,184.0Z" fill="#f63434" fill-rule="evenodd"/>
<path d="M415.0,274.0 282.0,274.0 282.0,185.4 285.0,186.4 289.0,186.9 299.0,186.4 308.0,184.1 322.0,178.9 327.0,178.0 331.0,178.8 335.3,183.0 339.0,184.9 344.0,185.5 349.0,184.7 352.7,183.0 353.9,182.0 355.0,180.0 354.5,177.0 351.4,173.0 351.1,172.0 351.8,170.0 354.6,167.0 355.8,165.0 355.6,164.0 354.0,162.6 347.0,161.0 337.0,160.8 319.8,162.0 314.0,162.0 294.0,157.8 288.0,158.0 282.0,159.7 282.0,157.0 415.0,157.0 415.0,274.0Z" fill="#f82424" fill-rule="evenodd"/>
<path d="M283.0,157.1 282.0,157.4 282.0,157.0 283.0,157.1ZM415.0,274.0 282.0,274.0 282.0,187.8 290.0,188.6 299.0,187.8 306.0,186.3 320.0,182.0 325.0,181.3 328.0,181.8 334.0,185.2 339.0,186.8 344.0,187.1 350.0,186.3 354.0,184.7 357.4,182.0 358.7,179.0 357.8,174.0 358.0,172.0 359.6,170.0 365.8,165.0 366.6,163.0 365.4,161.0 363.4,160.0 355.0,158.3 341.0,158.1 315.0,159.9 309.0,159.1 300.7,157.0 415.0,157.0 415.0,274.0ZM301.4,250.0 305.0,248.8 308.3,247.0 309.9,245.0 309.6,244.0 306.0,243.0 299.0,243.9 293.4,246.0 290.6,248.0 290.1,249.0 290.4,250.0 293.0,250.9 297.0,250.8 301.4,250.0Z" fill="#fa1717" fill-rule="evenodd"/>
<path d="M322.0,157.1 316.0,157.3 311.2,157.0 322.7,157.0 322.0,157.1ZM415.0,274.0 282.0,274.0 282.0,190.1 290.0,190.4 298.0,189.7 305.0,188.4 318.0,184.8 323.0,184.1 326.0,184.6 333.0,187.6 338.0,188.8 344.0,189.1 350.0,188.4 356.0,186.4 359.7,184.0 361.5,182.0 362.6,180.0 363.3,175.0 364.2,173.0 366.5,171.0 375.2,166.0 378.4,163.0 378.9,161.0 378.5,160.0 376.0,158.0 373.3,157.0 415.0,157.0 415.0,274.0ZM295.4,253.0 303.0,251.5 310.0,248.8 314.1,246.0 315.5,244.0 315.4,243.0 314.0,241.7 310.0,240.8 306.0,240.8 300.0,241.8 294.0,243.5 289.0,245.8 285.9,248.0 284.5,250.0 285.0,251.6 287.0,252.7 291.0,253.3 295.4,253.0Z" fill="#fc0c0c" fill-rule="evenodd"/>
<path d="M415.0,274.0 282.0,274.0 282.0,254.5 286.0,255.3 292.0,255.3 298.0,254.5 306.0,252.4 313.0,249.6 317.4,247.0 320.4,244.0 320.8,242.0 319.2,240.0 316.0,238.9 311.0,238.6 304.0,239.2 298.0,240.4 291.0,242.6 285.0,245.5 282.0,247.5 282.0,192.4 290.0,192.5 298.0,191.7 317.0,187.4 321.0,186.9 324.0,187.2 333.0,190.3 338.0,191.2 345.0,191.3 352.0,190.2 358.0,188.2 363.3,185.0 366.0,182.0 368.8,176.0 370.6,174.0 384.0,167.5 389.5,164.0 391.4,162.0 392.2,160.0 391.8,158.0 391.0,157.0 415.0,157.0 415.0,274.0Z" fill="#fd0606" fill-rule="evenodd"/>
</g>
<path d="M282.0,175.5 285.0,177.9 290.0,180.1 294.0,180.9 298.0,180.6 302.0,179.2 305.0,177.0 307.4,174.0 308.4,171.0 307.4,169.0 304.7,167.0 300.0,164.8 295.0,163.6 291.0,163.4 287.7,164.0 285.0,165.1 282.0,167.5M282.0,180.0 286.0,182.6 290.0,183.9 295.0,184.1 301.0,183.2 308.0,180.7 318.0,173.8 328.0,169.0 327.8,168.0 327.0,167.8 314.0,166.4 300.0,162.1 295.0,161.0 288.0,161.2 282.0,163.5M345.4,183.0 348.0,182.3 349.7,181.0 350.0,180.0 349.0,178.2 347.0,177.3 344.0,177.2 342.0,177.6 340.0,179.0 339.6,181.0 340.5,182.0 343.0,183.0 345.4,183.0M282.0,184.7 285.0,185.8 289.0,186.5 294.0,186.5 299.0,186.0 308.0,183.7 323.0,177.9 329.0,177.0 332.3,178.0 335.2,182.0 338.0,184.0 341.0,184.9 345.0,185.1 349.0,184.3 351.8,183.0 353.8,181.0 354.3,179.0 353.5,177.0 349.3,173.0 348.8,172.0 349.5,170.0 352.1,167.0 352.9,165.0 352.0,163.7 349.0,162.4 344.0,161.7 338.0,161.5 314.0,162.6 309.0,161.8 298.0,158.9 293.0,158.2 287.0,158.7 282.0,160.2M282.1,157.0 282.0,157.0M282.0,188.2 289.0,188.8 298.0,188.2 306.0,186.6 319.0,182.6 324.0,181.7 328.0,182.3 334.0,185.6 339.0,187.1 344.0,187.4 350.0,186.6 355.0,184.5 358.0,182.0 359.3,179.0 358.7,174.0 359.0,172.0 360.8,170.0 366.3,166.0 368.4,163.0 367.5,161.0 365.9,160.0 362.0,158.8 356.0,157.9 341.0,157.7 316.0,159.5 310.0,159.0 302.1,157.0M298.1,251.0 303.0,249.8 307.4,248.0 310.2,246.0 310.8,245.0 310.7,244.0 309.1,243.0 307.0,242.7 300.0,243.4 292.6,246.0 289.8,248.0 289.2,249.0 289.3,250.0 291.0,251.0 294.0,251.4 298.1,251.0M282.0,191.1 290.0,191.3 298.0,190.5 317.2,186.0 322.0,185.3 325.0,185.7 333.0,188.8 339.0,189.9 347.0,189.8 354.0,188.3 359.0,186.0 362.7,183.0 364.4,180.0 365.8,175.0 367.4,173.0 380.1,166.0 383.6,163.0 384.5,161.0 384.5,160.0 383.1,158.0 381.5,157.0M293.7,254.0 302.0,252.5 311.0,249.3 314.9,247.0 317.0,245.0 317.8,243.0 317.5,242.0 315.0,240.4 311.0,239.8 305.0,240.1 299.0,241.2 294.0,242.7 288.0,245.2 283.9,248.0 282.4,250.0 282.5,252.0 285.0,253.6 289.0,254.2 293.7,254.0" fill="none" stroke="#802020" stroke-opacity="0.35" stroke-width="0.5"/>
<g fill="#f28a8a" stroke="#c05050" stroke-opacity="0.3" stroke-width="0.4"><path d="M295,200 L299.5,199 L302,203 L297,204.5 Z"/><path d="M304,196.5 L309,195.5 L311.5,200.5 L306,202 Z"/><path d="M327,192.5 L333,191.5 L336,196.5 L330,197.5 Z"/><path d="M384,161 L390,160.5 L392,164.5 L386,165.5 Z"/></g>
<g fill="#f03030"><path d="M297,204.5 L302,203 L302.5,205 L298,206.5 Z"/><path d="M306,202 L311.5,200.5 L312,202.5 L307,204 Z"/><path d="M330,197.5 L336,196.5 L336.5,198.5 L331,199.5 Z"/></g>
<path d="M375,214 L379,216.5 L378,219 Z" fill="#f4a0a0"/>
<path d="M290.4,170.8 L300,168.7 L310,167.7 L330,166.3 L350,163.7 L370,161.3 L377,160.3 L412.3,159.8 L412.3,250 L408.3,257 L408.3,272 L284.8,272 L285.3,200 L288.3,182.5 Z" fill="url(#grid)" opacity="0.6"/>
<path d="M409,249 C404,255 403.5,266 408,272 L413,272 L413,249 Z" fill="#fff" filter="url(#bl1)"/>
</g>
<rect x="283.7" y="260.3" width="24.3" height="11.5" fill="#000"/><rect x="284.8" y="261.7" width="22.1" height="2.1" fill="#fff"/><text x="284.8" y="270.3" font-size="7.15" fill="#e8e8e8">0.5 µm</text>
<text transform="translate(274.07 164.8) scale(0.987 1)" font-size="22.48" font-weight="bold" fill="#000">f</text>
<text x="312" y="281" font-size="10.3" text-anchor="start" font-weight="normal" fill="#111" >PC1: PA</text>
<g clip-path="url(#cg)">
<rect x="416.0" y="160.0" width="135.0" height="114.0" fill="#f2fdf2"/>
<g>
<path d="M551.0,274.0 510.0,274.0 507.3,265.0 503.0,245.4 501.0,241.6 499.0,240.5 496.0,241.4 491.0,244.9 483.4,251.0 480.0,255.0 479.3,258.0 482.7,268.0 483.0,271.0 482.7,274.0 430.9,274.0 428.4,272.0 426.0,271.0 416.0,269.5 416.0,160.0 526.0,160.0 528.5,162.0 532.7,166.0 537.0,171.0 539.6,175.0 540.7,178.0 541.2,181.0 540.5,185.0 539.1,188.0 537.0,191.0 531.0,196.2 524.0,199.7 517.0,201.4 501.0,204.0 491.2,207.0 486.1,210.0 484.7,212.0 484.7,214.0 487.0,217.0 497.0,225.0 500.0,226.9 502.0,227.3 504.0,226.8 506.0,225.6 520.0,214.3 524.0,212.0 528.0,210.4 533.0,209.4 539.0,209.3 545.0,210.2 551.0,211.9 551.0,274.0Z" fill="#e3fae3" fill-rule="evenodd"/>
<path d="M478.0,274.0 436.2,274.0 434.0,269.1 432.0,267.6 428.0,266.6 416.0,265.6 416.0,231.0 425.4,224.0 426.9,222.0 427.0,221.0 426.2,220.0 424.0,219.0 416.0,217.2 416.0,160.0 516.6,160.0 523.1,165.0 527.5,171.0 529.9,177.0 530.1,182.0 528.2,186.0 523.7,190.0 519.0,192.4 514.0,194.1 490.0,200.0 474.1,205.0 463.1,210.0 460.2,212.0 458.6,214.0 458.7,215.0 459.7,216.0 461.7,217.0 472.0,220.4 479.0,223.7 483.1,227.0 485.6,231.0 486.1,235.0 484.4,240.0 480.6,245.0 472.8,253.0 471.5,256.0 471.9,258.0 476.4,264.0 478.4,268.0 479.0,273.0 478.9,274.0 478.0,274.0ZM551.0,274.0 517.2,274.0 514.8,265.0 513.6,256.0 513.7,247.0 514.8,240.0 517.1,234.0 521.0,228.4 526.0,224.0 532.0,221.0 536.0,219.9 541.0,219.5 546.0,219.9 551.0,221.0 551.0,274.0Z" fill="#daf8da" fill-rule="evenodd"/>
<path d="M434.0,209.1 425.0,209.6 416.0,209.0 416.0,160.0 509.2,160.0 516.1,164.0 519.1,167.0 521.0,170.0 522.0,173.0 522.4,176.0 521.3,181.0 518.0,185.2 511.8,189.0 505.0,191.5 495.0,194.4 467.9,201.0 447.0,206.7 434.0,209.1ZM476.0,274.0 439.1,274.0 438.3,267.0 437.0,264.9 433.0,263.8 416.0,262.8 416.0,235.2 423.0,231.3 432.0,227.4 439.0,225.2 447.0,223.6 455.0,223.1 462.0,223.5 469.0,225.1 474.0,227.3 477.0,229.7 478.6,232.0 479.4,235.0 478.7,239.0 475.6,244.0 466.4,253.0 464.7,256.0 465.6,258.0 471.0,262.3 474.5,266.0 476.3,270.0 476.5,273.0 476.4,274.0 476.0,274.0ZM551.0,274.0 521.9,274.0 520.2,266.0 519.5,258.0 519.9,251.0 521.4,244.0 523.5,239.0 527.0,234.0 531.9,230.0 537.0,227.7 544.0,226.6 551.0,227.4 551.0,274.0Z" fill="#cdf5cd" fill-rule="evenodd"/>
<path d="M436.0,203.1 426.0,203.8 416.0,203.1 416.0,160.0 502.9,160.0 508.0,161.9 512.0,164.1 515.2,167.0 517.1,170.0 517.8,172.0 517.9,175.0 517.2,178.0 516.0,180.2 514.0,182.6 511.0,184.9 504.0,188.5 495.0,191.4 486.0,193.6 436.0,203.1ZM474.0,274.0 441.0,274.0 440.7,270.0 442.2,264.0 442.2,263.0 441.0,262.0 437.0,261.6 423.0,261.6 416.0,260.8 416.0,237.6 423.0,233.7 430.0,230.6 437.0,228.4 446.0,226.5 454.0,226.0 461.0,226.4 467.0,227.9 471.0,229.8 473.4,232.0 474.5,234.0 474.9,237.0 474.2,240.0 470.8,245.0 459.5,255.0 458.4,257.0 459.0,258.0 468.0,262.4 472.0,265.7 474.5,270.0 474.8,273.0 474.6,274.0 474.0,274.0ZM551.0,274.0 524.9,274.0 524.5,272.0 523.4,264.0 523.4,257.0 524.3,251.0 526.3,245.0 529.1,240.0 532.9,236.0 537.0,233.4 542.0,231.7 546.0,231.3 551.0,231.7 551.0,274.0Z" fill="#bff2bf" fill-rule="evenodd"/>
<path d="M439.0,198.1 427.0,199.0 416.0,198.1 416.0,160.0 496.0,160.0 503.0,161.7 508.2,164.0 512.1,167.0 514.5,171.0 514.9,173.0 514.5,176.0 513.0,179.0 511.3,181.0 506.0,184.9 498.0,188.3 490.0,190.6 481.0,192.5 439.0,198.1ZM433.0,260.1 424.0,260.2 416.0,259.2 416.0,239.5 423.0,235.3 430.0,232.3 439.0,229.6 447.0,228.2 455.0,227.9 462.0,228.8 467.6,231.0 470.7,234.0 471.5,236.0 471.6,238.0 470.1,242.0 466.0,246.8 460.0,251.6 452.0,256.7 448.0,258.3 433.0,260.1ZM551.0,274.0 527.2,274.0 526.6,271.0 526.0,264.0 526.2,258.0 527.4,252.0 529.3,247.0 532.0,242.6 535.5,239.0 540.0,236.3 544.0,235.1 547.0,234.7 551.0,235.0 551.0,274.0ZM473.0,274.0 442.5,274.0 442.2,271.0 443.5,267.0 447.0,262.8 451.0,260.6 457.0,260.3 463.0,261.6 467.0,263.4 469.4,265.0 472.6,269.0 473.4,272.0 473.0,274.0Z" fill="#b1f0b1" fill-rule="evenodd"/>
<path d="M442.0,193.1 427.0,193.9 416.0,192.7 416.0,160.0 476.3,160.0 491.0,160.8 499.0,162.2 505.0,164.3 509.1,167.0 510.8,169.0 511.7,171.0 512.0,173.0 511.5,176.0 508.7,180.0 503.0,184.1 495.0,187.4 486.0,189.7 476.0,191.1 442.0,193.1ZM438.0,258.1 425.0,258.9 420.0,258.4 416.0,257.4 416.0,241.4 422.0,237.4 428.0,234.6 436.0,231.8 444.0,230.2 451.0,229.6 458.0,230.0 463.0,231.4 466.8,234.0 468.4,237.0 468.1,240.0 465.9,244.0 462.0,247.8 457.0,251.4 451.0,254.6 445.0,256.7 438.0,258.1ZM551.0,274.0 529.4,274.0 528.7,270.0 528.3,264.0 528.7,259.0 529.8,254.0 532.0,248.6 534.4,245.0 538.0,241.5 542.0,239.2 546.0,238.1 551.0,238.0 551.0,274.0ZM471.0,274.0 443.8,274.0 443.7,271.0 445.4,267.0 449.0,263.9 453.0,262.3 459.0,262.1 465.0,263.7 469.8,267.0 471.2,269.0 471.9,271.0 472.0,274.0 471.0,274.0Z" fill="#9fed9f" fill-rule="evenodd"/>
<path d="M480.0,189.1 469.0,189.7 448.0,188.5 428.0,189.0 422.0,188.5 416.0,187.3 416.0,160.0 459.9,160.0 463.0,161.3 467.0,162.0 483.0,161.7 491.0,162.1 497.0,163.0 502.0,164.6 506.0,166.8 508.3,169.0 509.6,172.0 509.4,175.0 507.8,178.0 504.0,181.5 499.0,184.3 493.0,186.5 480.0,189.1ZM437.0,257.0 431.0,257.7 425.0,257.7 420.0,257.0 416.0,255.6 416.0,243.2 421.0,239.4 427.0,236.3 434.0,233.6 442.0,231.7 449.0,231.0 456.0,231.4 461.0,232.7 464.3,235.0 465.7,238.0 465.3,241.0 463.5,244.0 460.0,247.4 455.0,250.9 450.0,253.4 444.0,255.5 437.0,257.0ZM551.0,274.0 531.2,274.0 530.4,269.0 530.4,263.0 531.1,258.0 532.6,253.0 534.7,249.0 537.0,246.0 540.7,243.0 544.0,241.4 548.0,240.5 551.0,240.6 551.0,274.0ZM470.0,274.0 445.0,274.0 444.8,272.0 446.0,268.3 449.0,265.4 454.0,263.4 459.0,263.2 464.0,264.4 468.3,267.0 469.9,269.0 470.8,271.0 470.8,274.0 470.0,274.0Z" fill="#8cea8c" fill-rule="evenodd"/>
<path d="M484.0,187.1 476.0,187.9 467.0,187.6 460.0,186.6 445.0,183.1 426.0,182.8 421.0,182.1 416.0,180.6 416.0,160.0 449.6,160.0 453.3,164.0 455.7,165.0 458.0,165.4 463.0,165.2 480.0,163.2 491.0,163.3 500.0,165.3 503.4,167.0 505.7,169.0 507.0,171.0 507.3,174.0 506.0,177.0 503.1,180.0 499.0,182.6 495.0,184.3 484.0,187.1ZM435.0,256.1 425.0,256.4 421.0,255.8 418.0,254.7 416.0,253.4 416.0,245.6 419.6,242.0 425.0,238.5 432.0,235.5 440.0,233.3 447.0,232.4 454.0,232.6 458.9,234.0 462.0,236.3 463.1,239.0 462.3,242.0 460.2,245.0 456.7,248.0 452.0,250.9 447.0,253.2 442.0,254.8 435.0,256.1ZM551.0,274.0 533.0,274.0 532.3,269.0 532.3,264.0 533.0,259.0 534.3,255.0 536.3,251.0 539.0,247.7 542.0,245.3 545.0,243.9 549.0,243.1 551.0,243.1 551.0,274.0ZM469.0,274.0 446.2,274.0 446.0,272.0 447.0,269.0 450.0,266.1 454.0,264.5 459.0,264.2 464.0,265.4 467.8,268.0 469.2,270.0 469.8,272.0 469.7,274.0 469.0,274.0Z" fill="#77e777" fill-rule="evenodd"/>
<path d="M434.0,174.2 429.0,174.9 424.0,174.5 420.0,173.3 416.2,171.0 416.0,160.0 438.4,160.0 440.4,165.0 440.7,168.0 440.3,170.0 438.0,172.6 434.0,174.2ZM483.0,186.0 477.0,186.5 471.0,186.4 466.0,185.7 461.0,184.3 455.9,182.0 453.3,180.0 451.2,177.0 451.1,175.0 452.4,173.0 453.7,172.0 461.0,168.7 471.0,165.8 480.0,164.4 488.0,164.2 495.0,165.1 500.5,167.0 504.2,170.0 505.1,172.0 504.9,175.0 503.8,177.0 501.0,179.7 497.2,182.0 493.0,183.7 483.0,186.0ZM435.0,255.1 427.0,255.4 420.3,254.0 418.0,252.6 416.8,251.0 416.5,249.0 417.1,247.0 420.0,243.3 424.6,240.0 431.0,237.0 438.0,234.8 445.0,233.7 451.0,233.7 456.0,234.7 459.6,237.0 460.6,239.0 460.1,242.0 458.0,245.0 455.0,247.6 451.0,250.1 446.0,252.4 441.0,253.9 435.0,255.1ZM551.0,274.0 534.7,274.0 533.9,269.0 534.0,264.0 534.7,260.0 537.5,253.0 540.0,249.8 543.0,247.4 546.0,246.0 549.0,245.3 551.0,245.3 551.0,274.0ZM468.0,274.0 447.3,274.0 447.1,272.0 448.3,269.0 451.0,266.6 455.0,265.2 459.0,265.0 463.0,265.9 466.5,268.0 468.5,271.0 468.6,274.0 468.0,274.0Z" fill="#61e461" fill-rule="evenodd"/>
<path d="M482.0,185.0 472.0,185.1 467.0,184.2 463.5,183.0 460.1,181.0 458.3,179.0 457.7,177.0 458.1,175.0 460.7,172.0 466.2,169.0 473.0,166.8 480.0,165.5 487.0,165.2 494.0,166.0 499.0,167.7 502.0,170.0 503.1,172.0 503.2,174.0 501.7,177.0 499.7,179.0 496.0,181.2 492.0,182.9 482.0,185.0ZM435.0,254.1 427.0,254.3 421.7,253.0 420.0,251.9 418.7,250.0 419.0,247.0 421.1,244.0 426.0,240.4 432.0,237.6 438.0,235.8 444.0,234.8 450.0,234.8 454.9,236.0 457.6,238.0 458.3,240.0 458.0,242.0 456.0,245.0 453.0,247.5 445.0,251.6 435.0,254.1ZM551.0,274.0 536.2,274.0 535.4,268.0 535.6,264.0 536.4,260.0 539.1,254.0 541.0,251.6 544.0,249.2 547.0,247.8 550.0,247.4 551.0,247.4 551.0,274.0ZM467.0,274.0 448.3,274.0 448.1,272.0 449.5,269.0 452.0,267.0 455.0,266.0 459.0,265.8 463.0,266.8 466.3,269.0 467.8,272.0 467.6,274.0 467.0,274.0Z" fill="#4be44b" fill-rule="evenodd"/>
<path d="M481.0,184.1 473.0,183.9 466.0,182.0 464.0,180.8 462.2,179.0 461.6,177.0 462.0,175.0 464.6,172.0 469.0,169.5 475.0,167.5 481.0,166.4 487.0,166.2 493.0,166.8 498.0,168.6 500.7,171.0 501.4,173.0 501.0,175.0 499.8,177.0 497.5,179.0 494.0,181.0 490.0,182.5 481.0,184.1ZM435.0,253.1 428.0,253.3 423.0,252.0 420.8,250.0 420.5,249.0 420.8,247.0 422.9,244.0 427.0,241.0 432.0,238.6 438.0,236.8 444.0,235.9 449.0,235.9 453.2,237.0 455.7,239.0 456.2,241.0 455.5,243.0 454.0,245.0 451.0,247.5 443.9,251.0 435.0,253.1ZM551.0,274.0 537.6,274.0 536.9,269.0 537.5,262.0 540.0,255.8 544.0,251.5 547.0,249.9 550.0,249.3 551.0,249.3 551.0,274.0ZM466.0,274.0 449.2,274.0 449.1,272.0 449.8,270.0 452.0,268.0 455.0,266.8 459.0,266.5 462.0,267.2 465.1,269.0 466.8,272.0 466.7,274.0 466.0,274.0Z" fill="#35e535" fill-rule="evenodd"/>
<path d="M482.0,183.0 474.0,182.8 468.0,181.0 466.4,180.0 464.8,178.0 465.0,175.0 467.7,172.0 471.0,170.1 476.0,168.4 481.0,167.4 487.0,167.1 492.0,167.7 496.0,169.0 498.6,171.0 499.5,173.0 499.2,175.0 497.9,177.0 496.0,178.6 490.0,181.4 482.0,183.0ZM436.0,252.1 430.0,252.4 426.0,251.7 423.2,250.0 422.6,249.0 422.7,247.0 424.0,244.8 427.4,242.0 432.0,239.6 437.0,238.0 442.0,237.0 447.0,236.9 451.0,237.8 453.1,239.0 453.8,240.0 453.9,242.0 452.9,244.0 451.0,246.0 448.1,248.0 444.0,249.9 436.0,252.1ZM551.0,274.0 539.0,274.0 538.2,268.0 539.3,261.0 541.8,256.0 544.0,253.7 546.0,252.4 548.0,251.5 551.0,251.1 551.0,274.0ZM465.0,274.0 450.2,274.0 450.0,272.0 450.9,270.0 453.0,268.3 456.0,267.3 459.0,267.2 462.1,268.0 464.9,270.0 465.9,273.0 465.7,274.0 465.0,274.0Z" fill="#21e921" fill-rule="evenodd"/>
<path d="M482.0,182.0 475.0,181.8 470.0,180.2 467.6,178.0 467.3,177.0 467.6,175.0 469.2,173.0 473.0,170.6 477.7,169.0 483.0,168.1 488.0,168.1 492.0,168.7 495.2,170.0 497.3,172.0 497.6,173.0 497.4,175.0 494.7,178.0 489.0,180.7 482.0,182.0ZM436.0,251.1 431.0,251.3 427.0,250.5 424.9,249.0 424.6,248.0 425.0,246.0 426.6,244.0 429.4,242.0 433.6,240.0 438.0,238.7 442.0,238.0 446.0,238.0 449.0,238.6 451.2,240.0 451.7,241.0 451.5,243.0 449.0,246.0 443.0,249.3 436.0,251.1ZM551.0,274.0 540.4,274.0 539.6,268.0 540.5,262.0 543.0,257.2 545.0,255.1 547.0,253.9 551.0,252.9 551.0,274.0ZM464.0,274.0 451.2,274.0 451.0,272.0 452.1,270.0 454.0,268.7 456.0,268.0 459.0,267.9 462.0,268.8 464.0,270.3 465.0,273.0 464.7,274.0 464.0,274.0Z" fill="#0eee0e" fill-rule="evenodd"/>
<path d="M483.0,181.1 477.0,181.1 472.8,180.0 470.0,178.0 469.5,177.0 469.8,175.0 471.4,173.0 474.7,171.0 482.0,169.1 486.0,168.8 490.0,169.2 493.0,170.2 495.4,172.0 495.9,173.0 495.7,175.0 493.0,177.9 488.3,180.0 483.0,181.1ZM437.0,250.1 433.0,250.4 429.0,249.9 427.3,249.0 426.6,248.0 426.8,246.0 428.4,244.0 431.3,242.0 438.0,239.6 445.1,239.0 448.0,239.8 449.5,241.0 449.7,243.0 447.2,246.0 443.0,248.3 437.0,250.1ZM551.0,274.0 541.6,274.0 540.7,268.0 541.5,263.0 544.0,258.2 547.0,255.6 551.0,254.5 551.0,274.0ZM463.0,274.0 452.1,274.0 451.9,272.0 453.0,270.2 454.9,269.0 459.0,268.5 462.0,269.5 463.6,271.0 464.1,273.0 463.9,274.0 463.0,274.0Z" fill="#00f200" fill-rule="evenodd"/>
</g>
<path d="M513.9,160.0 518.6,163.0 522.7,167.0 525.1,171.0 526.8,176.0 527.0,180.0 525.7,184.0 523.1,187.0 519.0,189.8 509.0,193.5 473.2,203.0 443.0,213.9 438.0,214.7 432.0,215.0 416.0,213.9M416.0,232.8 425.0,227.5 433.0,223.5 441.0,220.6 446.0,219.6 454.0,219.4 464.0,220.6 472.0,222.8 478.0,225.8 480.6,228.0 482.7,231.0 483.4,234.0 483.1,237.0 481.9,240.0 480.0,243.0 470.4,253.0 469.0,256.0 469.7,258.0 475.0,264.0 476.9,267.0 477.9,270.0 477.9,274.0M519.0,274.0 516.5,263.0 515.9,252.0 517.3,242.0 518.7,238.0 520.7,234.0 523.8,230.0 527.0,227.2 530.0,225.3 534.0,223.5 538.0,222.6 542.0,222.2 546.0,222.5 551.0,223.5M437.4,274.0 435.3,268.0 433.0,266.2 429.0,265.5 416.0,264.5M505.0,160.0 511.0,162.6 515.0,165.5 517.8,169.0 519.1,173.0 518.9,177.0 517.1,181.0 514.0,184.3 509.0,187.4 501.0,190.5 491.0,193.3 443.0,203.7 429.0,205.5 416.0,204.9M416.0,236.9 424.0,232.5 431.0,229.6 438.0,227.4 446.0,225.8 454.0,225.1 461.0,225.5 467.0,226.8 471.7,229.0 474.2,231.0 476.0,234.0 476.2,237.0 475.4,240.0 473.6,243.0 471.1,246.0 461.2,255.0 460.6,257.0 461.4,258.0 469.0,262.4 472.9,266.0 475.0,270.0 475.2,274.0M524.0,274.0 522.3,264.0 522.4,255.0 524.0,247.0 527.0,240.4 531.6,235.0 537.0,231.7 544.0,230.0 551.0,230.4M440.5,274.0 440.1,270.0 440.8,265.0 440.6,264.0 439.7,263.0 436.0,262.3 423.0,262.2 416.0,261.5M493.1,160.0 500.0,161.3 506.0,163.5 510.1,166.0 513.3,170.0 514.0,174.0 512.6,178.0 509.0,182.0 503.0,185.7 492.0,189.6 476.0,192.6 433.0,197.3 424.0,197.4 416.0,196.5M416.0,240.1 423.0,235.8 431.0,232.4 441.0,229.6 450.0,228.5 458.0,228.7 465.0,230.5 468.7,233.0 470.1,235.0 470.6,237.0 469.8,241.0 466.0,246.0 459.0,251.6 450.0,256.6 443.0,258.5 432.0,259.7 423.0,259.8 416.0,258.6M527.9,274.0 526.8,266.0 526.9,259.0 528.3,252.0 531.0,245.9 535.0,240.9 540.0,237.5 545.0,236.0 551.0,235.9M442.9,274.0 442.6,272.0 443.1,269.0 446.0,264.6 449.0,262.4 451.0,261.5 456.0,260.9 460.0,261.3 464.0,262.4 469.0,265.2 472.2,269.0 472.9,271.0 472.9,274.0M463.0,160.0 469.0,161.3 490.0,161.6 500.0,163.5 505.0,165.6 508.2,168.0 510.0,171.0 510.3,173.0 510.0,175.0 509.2,177.0 507.0,179.7 501.0,183.8 492.0,187.2 482.0,189.2 470.0,190.2 449.0,189.7 429.0,190.4 422.0,190.0 416.0,188.9M416.0,242.7 422.0,238.4 430.0,234.7 438.0,232.2 447.0,230.8 455.0,230.8 461.0,232.2 465.0,234.7 465.9,236.0 466.5,238.0 465.5,242.0 461.2,247.0 455.0,251.3 448.0,254.6 440.0,256.8 430.0,258.0 422.0,257.7 416.0,256.2M530.7,274.0 529.8,267.0 530.1,260.0 531.6,254.0 533.9,249.0 537.0,245.0 541.0,241.9 546.0,240.1 551.0,239.9M444.7,274.0 444.8,270.0 445.8,268.0 447.6,266.0 452.0,263.6 457.0,262.8 463.0,263.7 468.0,266.4 470.8,270.0 471.3,272.0 471.1,274.0M449.6,160.0 453.3,164.0 455.7,165.0 458.0,165.4 483.0,163.1 491.0,163.3 497.0,164.4 501.6,166.0 504.7,168.0 507.0,171.0 507.3,174.0 506.0,177.0 504.3,179.0 498.0,183.1 488.0,186.4 478.0,187.8 466.0,187.5 459.0,186.4 445.0,183.1 426.0,182.8 421.0,182.1 416.0,180.6M416.0,245.6 420.0,241.7 427.0,237.5 435.0,234.5 442.0,233.0 450.0,232.3 456.0,233.0 460.7,235.0 462.0,236.3 462.9,238.0 463.0,240.0 462.3,242.0 459.0,246.2 453.0,250.4 445.0,253.9 437.0,255.8 428.0,256.6 421.0,255.8 418.0,254.7 416.0,253.4M533.0,274.0 532.2,268.0 532.5,262.0 533.5,257.0 535.7,252.0 538.7,248.0 542.0,245.3 546.0,243.5 551.0,243.1M446.2,274.0 446.0,272.0 446.5,270.0 448.7,267.0 453.0,264.7 458.0,264.1 463.0,265.0 467.0,267.2 469.2,270.0 469.8,272.0 469.7,274.0M434.4,160.0 436.1,164.0 436.2,166.0 435.6,168.0 434.0,169.9 432.1,171.0 427.0,171.9 422.0,170.9 420.0,169.9 417.8,168.0 416.6,166.0 416.1,164.0 416.2,162.0 417.0,160.0M480.0,186.0 470.0,185.9 465.1,185.0 461.0,183.7 457.6,182.0 455.1,180.0 453.4,177.0 453.6,175.0 456.3,172.0 463.0,168.6 471.0,166.2 480.0,164.7 488.0,164.5 495.0,165.4 500.0,167.1 503.7,170.0 504.6,172.0 504.4,175.0 502.4,178.0 500.0,180.0 496.0,182.2 491.0,184.1 480.0,186.0M433.0,255.0 425.7,255.0 420.0,253.4 417.4,251.0 417.0,249.0 417.5,247.0 420.8,243.0 425.2,240.0 432.0,236.9 439.0,234.9 446.0,233.9 452.0,234.1 457.0,235.6 459.6,238.0 460.0,240.0 459.0,243.0 456.5,246.0 453.0,248.6 449.0,250.8 444.0,252.8 438.0,254.3 433.0,255.0M535.1,274.0 534.3,269.0 534.5,263.0 535.7,258.0 537.5,254.0 540.0,250.5 543.0,248.0 547.0,246.2 551.0,245.8M447.5,274.0 447.5,271.0 448.6,269.0 450.0,267.6 454.0,265.6 458.0,265.1 462.0,265.8 466.2,268.0 468.3,271.0 468.4,274.0M485.0,184.1 475.0,184.7 470.0,184.1 466.1,183.0 462.3,181.0 460.4,179.0 459.8,177.0 460.2,175.0 462.8,172.0 467.0,169.6 473.0,167.4 480.0,166.1 487.0,165.7 493.0,166.3 498.0,167.9 500.9,170.0 502.1,172.0 502.3,174.0 501.5,176.0 499.8,178.0 494.0,181.6 485.0,184.1M438.0,253.1 430.0,253.9 423.6,253.0 421.5,252.0 420.0,250.5 419.5,249.0 419.9,247.0 422.0,244.0 426.0,241.0 431.0,238.5 437.0,236.5 443.0,235.5 449.0,235.3 453.0,236.1 456.3,238.0 457.2,240.0 457.0,242.0 455.8,244.0 453.9,246.0 447.0,250.3 438.0,253.1M536.9,274.0 536.2,270.0 536.2,265.0 537.2,260.0 538.9,256.0 541.0,253.0 544.0,250.3 547.0,248.9 551.0,248.3M448.8,274.0 448.8,271.0 451.0,268.2 454.0,266.6 458.0,266.1 462.0,266.8 465.0,268.4 467.0,271.0 467.1,274.0M484.0,183.0 476.0,183.3 469.0,181.9 467.0,181.0 464.6,179.0 463.9,177.0 464.3,175.0 467.0,172.0 470.5,170.0 475.0,168.4 481.0,167.2 487.0,166.9 492.0,167.4 496.7,169.0 499.2,171.0 500.0,174.0 499.1,176.0 497.3,178.0 491.9,181.0 484.0,183.0M437.0,252.1 431.0,252.7 425.9,252.0 422.6,250.0 422.1,249.0 422.2,247.0 424.3,244.0 427.0,241.9 432.0,239.4 437.0,237.7 442.0,236.8 447.0,236.6 451.0,237.4 453.7,239.0 454.4,240.0 454.4,242.0 453.4,244.0 451.5,246.0 445.0,249.8 437.0,252.1M538.7,274.0 538.0,270.0 537.9,266.0 538.6,262.0 540.1,258.0 542.1,255.0 545.0,252.4 548.0,251.1 551.0,250.7M450.0,274.0 450.1,271.0 451.6,269.0 454.0,267.6 458.0,267.0 461.0,267.4 464.2,269.0 465.8,271.0 466.0,274.0M482.0,182.0 475.0,181.8 470.0,180.2 467.6,178.0 467.3,177.0 467.6,175.0 469.2,173.0 473.0,170.6 477.7,169.0 483.0,168.1 488.0,168.1 492.0,168.7 495.2,170.0 497.3,172.0 497.6,173.0 497.4,175.0 494.7,178.0 489.0,180.7 482.0,182.0M436.0,251.1 431.0,251.3 427.0,250.5 424.9,249.0 424.6,248.0 425.0,246.0 426.6,244.0 429.4,242.0 433.6,240.0 438.0,238.7 442.0,238.0 446.0,238.0 449.0,238.6 451.2,240.0 451.7,241.0 451.5,243.0 449.0,246.0 443.0,249.3 436.0,251.1M540.4,274.0 539.6,267.0 540.2,263.0 541.3,260.0 543.0,257.2 545.2,255.0 548.0,253.4 551.0,252.9M451.2,274.0 451.0,272.0 452.1,270.0 455.0,268.3 458.0,267.8 461.0,268.3 463.8,270.0 464.9,272.0 464.7,274.0" fill="none" stroke="#305030" stroke-opacity="0.4" stroke-width="0.5"/>
<path d="M418,163 L440,164.5 L460,166 L485,168.6 L500,171 L515,174 L537,174 L536.5,200 L536,233 L541,245 L546.4,256.8 L549.7,271.5 L421.5,271.5 L422,240 L423.6,215 L420,185 Z" fill="url(#grid)" opacity="0.5"/>
</g>
<rect x="417.3" y="259.8" width="24.5" height="10.5" fill="#000"/><rect x="418.40000000000003" y="261.2" width="22.3" height="2.1" fill="#fff"/><text x="418.40000000000003" y="268.8" font-size="7.22" fill="#e8e8e8">0.5 µm</text>
<text transform="translate(421.39 164.19) scale(0.975 1)" font-size="20.96" font-weight="bold" fill="#000" font-family="Liberation Serif">g</text>
<text x="454" y="281" font-size="10.5" fill="#111">PC2: TiO<tspan font-size="7.2" dy="2.6">2</tspan></text>
<g clip-path="url(#ch)">
<rect x="551.0" y="165.0" width="131.0" height="107.0" fill="#8a00c4"/>
<g filter="url(#bl1)">
<path d="M559.0,226.1 555.0,226.4 551.0,225.5 551.0,165.0 682.0,165.0 682.0,184.3 647.0,185.4 600.6,186.0 591.4,187.0 585.5,189.0 582.7,191.0 580.0,194.6 574.8,210.0 570.3,218.0 565.0,223.4 562.0,225.1 559.0,226.1Z" fill="#7d08cf" fill-rule="evenodd"/>
<path d="M559.0,209.1 555.0,209.7 551.0,208.0 551.0,165.0 682.0,165.0 682.0,179.8 645.0,181.2 596.0,181.8 587.0,182.7 581.0,184.2 575.4,187.0 572.1,190.0 569.6,194.0 564.7,204.0 562.0,207.2 559.0,209.1Z" fill="#700fda" fill-rule="evenodd"/>
<path d="M558.0,190.2 555.0,190.3 551.0,188.6 551.0,165.0 682.0,165.0 682.0,176.6 647.0,178.2 598.0,178.7 587.0,179.3 581.0,180.2 574.6,182.0 569.8,184.0 561.0,189.0 558.0,190.2Z" fill="#6216e6" fill-rule="evenodd"/>
<path d="M561.0,182.0 556.0,182.4 551.0,181.6 551.0,165.0 682.0,165.0 682.0,173.9 644.0,175.8 588.0,176.6 577.1,178.0 561.0,182.0Z" fill="#521ef0" fill-rule="evenodd"/>
<path d="M562.0,178.0 556.0,178.3 551.0,177.6 551.0,165.0 682.0,165.0 682.0,171.3 643.0,173.7 587.0,174.4 578.0,175.3 562.0,178.0Z" fill="#4226fb" fill-rule="evenodd"/>
<path d="M562.0,175.1 556.0,175.1 551.0,174.4 551.0,165.0 682.0,165.0 682.0,168.7 668.0,170.1 635.0,171.9 587.0,172.3 562.0,175.1Z" fill="#3036ff" fill-rule="evenodd"/>
<path d="M566.0,172.1 558.0,172.4 551.0,171.5 551.0,165.0 682.0,165.0 682.0,165.6 673.0,167.0 650.0,169.1 625.0,170.1 587.0,170.1 566.0,172.1Z" fill="#1e4bff" fill-rule="evenodd"/>
</g>
<g fill="#6a0a98" opacity="0.45" filter="url(#bl2)"><ellipse cx="640" cy="215" rx="10" ry="4" transform="rotate(20 640 215)"/><ellipse cx="625" cy="240" rx="12" ry="4" transform="rotate(30 625 240)"/><ellipse cx="665" cy="205" rx="8" ry="3"/><ellipse cx="600" cy="205" rx="9" ry="3" transform="rotate(-20 600 205)"/></g>
<ellipse cx="581.0" cy="240.5" rx="27.5" ry="16.0" transform="rotate(-17.0 581.0 240.5)" fill="#5d19e9" stroke="#000" stroke-opacity="0.12" stroke-width="0.4"/><ellipse cx="580.5" cy="239.9" rx="26.7" ry="15.3" transform="rotate(-17.2 580.5 239.9)" fill="#3036ff" stroke="#000" stroke-opacity="0.12" stroke-width="0.4"/><ellipse cx="580.0" cy="239.3" rx="25.9" ry="14.6" transform="rotate(-17.4 580.0 239.3)" fill="#006eff" stroke="#000" stroke-opacity="0.12" stroke-width="0.4"/><ellipse cx="579.5" cy="238.7" rx="25.1" ry="13.9" transform="rotate(-17.6 579.5 238.7)" fill="#00b6ff" stroke="#000" stroke-opacity="0.12" stroke-width="0.4"/><ellipse cx="579.0" cy="238.1" rx="24.3" ry="13.2" transform="rotate(-17.8 579.0 238.1)" fill="#00dbc6" stroke="#000" stroke-opacity="0.12" stroke-width="0.4"/><ellipse cx="578.5" cy="237.5" rx="23.5" ry="12.5" transform="rotate(-18.0 578.5 237.5)" fill="#0ce76c" stroke="#000" stroke-opacity="0.12" stroke-width="0.4"/><ellipse cx="577.7" cy="236.3" rx="22.2" ry="11.7" transform="rotate(-18.3 577.7 236.3)" fill="#3ae818" stroke="#000" stroke-opacity="0.12" stroke-width="0.4"/><ellipse cx="576.8" cy="235.2" rx="20.8" ry="10.8" transform="rotate(-18.7 576.8 235.2)" fill="#aaf000" stroke="#000" stroke-opacity="0.12" stroke-width="0.4"/><ellipse cx="576.0" cy="234.0" rx="19.5" ry="10.0" transform="rotate(-19.0 576.0 234.0)" fill="#fbe600" stroke="#000" stroke-opacity="0.12" stroke-width="0.4"/><ellipse cx="572.0" cy="233.0" rx="15.3" ry="8.3" transform="rotate(-19.5 572.0 233.0)" fill="#ff9600" stroke="#000" stroke-opacity="0.12" stroke-width="0.4"/><ellipse cx="568.0" cy="232.0" rx="11.0" ry="6.5" transform="rotate(-20.0 568.0 232.0)" fill="#fa4000" stroke="#000" stroke-opacity="0.12" stroke-width="0.4"/><ellipse cx="565.0" cy="231.0" rx="7.5" ry="4.5" transform="rotate(-20.0 565.0 231.0)" fill="#ed1e00" stroke="#000" stroke-opacity="0.12" stroke-width="0.4"/>
<ellipse cx="691.0" cy="248.0" rx="44.0" ry="19.0" transform="rotate(12.0 691.0 248.0)" fill="#5d19e9" stroke="#000" stroke-opacity="0.12" stroke-width="0.4"/><ellipse cx="691.0" cy="247.6" rx="41.2" ry="17.8" transform="rotate(11.2 691.0 247.6)" fill="#3036ff" stroke="#000" stroke-opacity="0.12" stroke-width="0.4"/><ellipse cx="691.0" cy="247.2" rx="38.4" ry="16.6" transform="rotate(10.4 691.0 247.2)" fill="#006eff" stroke="#000" stroke-opacity="0.12" stroke-width="0.4"/><ellipse cx="691.0" cy="246.7" rx="34.9" ry="15.2" transform="rotate(9.5 691.0 246.7)" fill="#00b6ff" stroke="#000" stroke-opacity="0.12" stroke-width="0.4"/><ellipse cx="691.0" cy="246.2" rx="30.6" ry="13.6" transform="rotate(8.4 691.0 246.2)" fill="#00dbc6" stroke="#000" stroke-opacity="0.12" stroke-width="0.4"/><ellipse cx="691.0" cy="245.7" rx="27.2" ry="12.5" transform="rotate(7.0 691.0 245.7)" fill="#0ce76c" stroke="#000" stroke-opacity="0.12" stroke-width="0.4"/><ellipse cx="691.0" cy="245.1" rx="24.2" ry="11.7" transform="rotate(5.4 691.0 245.1)" fill="#3ae818" stroke="#000" stroke-opacity="0.12" stroke-width="0.4"/><ellipse cx="691.0" cy="245.0" rx="22.3" ry="11.1" transform="rotate(4.2 691.0 245.0)" fill="#aaf000" stroke="#000" stroke-opacity="0.12" stroke-width="0.4"/><ellipse cx="691.0" cy="245.0" rx="20.7" ry="10.6" transform="rotate(3.1 691.0 245.0)" fill="#fbe600" stroke="#000" stroke-opacity="0.12" stroke-width="0.4"/><ellipse cx="691.0" cy="245.0" rx="19.5" ry="10.3" transform="rotate(2.0 691.0 245.0)" fill="#ff9600" stroke="#000" stroke-opacity="0.12" stroke-width="0.4"/><ellipse cx="691.0" cy="245.0" rx="18.5" ry="10.2" transform="rotate(1.0 691.0 245.0)" fill="#fa4000" stroke="#000" stroke-opacity="0.12" stroke-width="0.4"/><ellipse cx="691.0" cy="245.0" rx="17.5" ry="10.0" transform="rotate(0.0 691.0 245.0)" fill="#ed1e00" stroke="#000" stroke-opacity="0.12" stroke-width="0.4"/>
<path d="M577,264 C583,254 588,249 592,249 C597,249 601,255 606,264 L612,272 L575,272 Z" fill="#3040ff"/>
<path d="M578.5,263 C584,255 588,250.5 592,250.5 C596,250.5 600,256 605,263 L611,272 L577,272 Z" fill="#00b8ff"/>
<path d="M580,262 C585,256 588,251.5 592,251.5 C596,251.5 600,257 603.5,262 L610,272 L578,272 Z" fill="#20e040"/>
<path d="M581,261 C585,256.5 588,252.3 592,252.3 C596,252.3 599.5,257.5 602.5,261.5 L609,272 L579,272 Z" fill="#f0e800"/>
<path d="M553.2,167.7 L560,168.3 L570,167.6 L580,168.4 L590,167.8 L600,168.5 L620,168.5 L640,169.2 L660,169.5 L679.6,170 L680,235 L678.4,247 L671.6,259 L666.4,266 L660,270.3 L611,270.3 L608.6,269.5 L600.9,260.9 L596,255 L591.4,252.2 L586,254 L581.9,257.4 L553.2,257.4 Z" fill="url(#grid)" opacity="0.5"/>
</g>
<ellipse cx="615" cy="184" rx="32" ry="17" fill="#521ef0" filter="url(#bl1)"/>
<ellipse cx="614.5" cy="183.0" rx="29.5" ry="15.5" transform="rotate(0.0 614.5 183.0)" fill="#5d19e9" stroke="#000" stroke-opacity="0.12" stroke-width="0.4"/><ellipse cx="614.5" cy="181.6" rx="28.4" ry="14.9" transform="rotate(0.0 614.5 181.6)" fill="#3036ff" stroke="#000" stroke-opacity="0.12" stroke-width="0.4"/><ellipse cx="614.6" cy="180.2" rx="27.2" ry="14.4" transform="rotate(0.0 614.6 180.2)" fill="#006eff" stroke="#000" stroke-opacity="0.12" stroke-width="0.4"/><ellipse cx="614.6" cy="178.8" rx="26.1" ry="13.8" transform="rotate(0.0 614.6 178.8)" fill="#00b6ff" stroke="#000" stroke-opacity="0.12" stroke-width="0.4"/><ellipse cx="614.7" cy="177.4" rx="25.0" ry="13.2" transform="rotate(0.0 614.7 177.4)" fill="#00dbc6" stroke="#000" stroke-opacity="0.12" stroke-width="0.4"/><ellipse cx="614.7" cy="176.0" rx="23.8" ry="12.6" transform="rotate(0.0 614.7 176.0)" fill="#0ce76c" stroke="#000" stroke-opacity="0.12" stroke-width="0.4"/><ellipse cx="614.8" cy="174.5" rx="22.7" ry="12.1" transform="rotate(0.0 614.8 174.5)" fill="#3ae818" stroke="#000" stroke-opacity="0.12" stroke-width="0.4"/><ellipse cx="614.8" cy="173.1" rx="21.5" ry="11.5" transform="rotate(0.0 614.8 173.1)" fill="#aaf000" stroke="#000" stroke-opacity="0.12" stroke-width="0.4"/><ellipse cx="614.9" cy="171.7" rx="20.4" ry="10.9" transform="rotate(0.0 614.9 171.7)" fill="#fbe600" stroke="#000" stroke-opacity="0.12" stroke-width="0.4"/><ellipse cx="614.9" cy="170.3" rx="19.3" ry="10.3" transform="rotate(0.0 614.9 170.3)" fill="#ff9600" stroke="#000" stroke-opacity="0.12" stroke-width="0.4"/><ellipse cx="615.0" cy="168.9" rx="18.1" ry="9.8" transform="rotate(0.0 615.0 168.9)" fill="#fa4000" stroke="#000" stroke-opacity="0.12" stroke-width="0.4"/><ellipse cx="615.0" cy="167.5" rx="17.0" ry="9.2" transform="rotate(0.0 615.0 167.5)" fill="#ed1e00" stroke="#000" stroke-opacity="0.12" stroke-width="0.4"/>
<rect x="553.4" y="260.4" width="21.8" height="10.6" fill="#000"/><rect x="554.5" y="261.79999999999995" width="19.6" height="2.1" fill="#fff"/><text x="554.5" y="269.5" font-size="6.31" fill="#e8e8e8">0.5 µm</text>
<text transform="translate(551.32 164.8) scale(1.099 1)" font-size="21.79" font-weight="bold" fill="#000">h</text>
<text x="594.8" y="280.7" font-size="10.3" fill="#111">PC2-PC3: TiO<tspan font-size="7" dy="2.5">2</tspan></text>
</g>
</svg></body></html>
